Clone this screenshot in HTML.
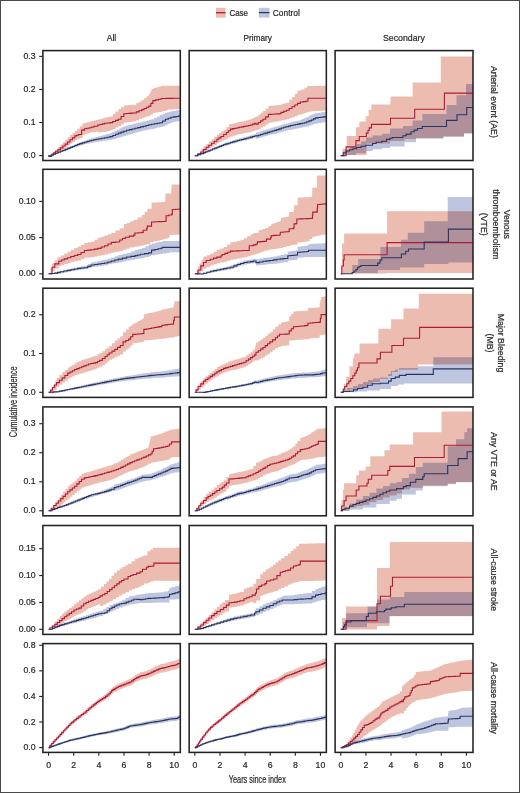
<!DOCTYPE html>
<html><head><meta charset="utf-8"><style>
html,body{margin:0;padding:0;background:#fff;}
body{width:520px;height:793px;overflow:hidden;}
svg{display:block;font-family:"Liberation Sans", sans-serif;}
text{fill:#2a2a2a;stroke:#2a2a2a;stroke-width:0.22px;}
</style></head><body>
<svg width="520" height="793" viewBox="0 0 520 793">
<rect x="0.5" y="0.5" width="519" height="792" fill="none" stroke="#4a4a4a" stroke-width="1"/>
<rect x="216" y="7.8" width="9.6" height="9.8" fill="#edbcb1"/>
<line x1="216" y1="12.7" x2="225.6" y2="12.7" stroke="#ae1a38" stroke-width="1.3"/>
<rect x="258.9" y="7.8" width="10.6" height="9.8" fill="#bec5df"/>
<line x1="258.9" y1="12.6" x2="269.5" y2="12.6" stroke="#293562" stroke-width="1.3"/>
<text x="229.4" y="15.5" font-size="8.8" textLength="18.6" lengthAdjust="spacingAndGlyphs">Case</text>
<text x="272.8" y="15.5" font-size="8.8" textLength="27" lengthAdjust="spacingAndGlyphs">Control</text>
<text x="106.7" y="41.3" font-size="8.8" textLength="9.6" lengthAdjust="spacingAndGlyphs">All</text>
<text x="243.5" y="41.3" font-size="8.8" textLength="28.4" lengthAdjust="spacingAndGlyphs">Primary</text>
<text x="383.0" y="41.2" font-size="8.8" textLength="41.9" lengthAdjust="spacingAndGlyphs">Secondary</text>
<clipPath id="c00"><rect x="42.9" y="50.6" width="137.4" height="109.9"/></clipPath>
<g clip-path="url(#c00)"><path d="M48.6 155.6 L51.8 155.6 L51.8 153.2 L53.7 153.2 L53.7 151.3 L55.6 151.3 L55.6 149.4 L58 149.4 L58 147 L60.4 147 L60.4 144.6 L62.8 144.6 L62.8 142.2 L65.2 142.2 L65.2 139.8 L67.6 139.8 L67.6 137.35 L70 137.35 L70 134.9 L72.4 134.9 L72.4 133 L74.8 133 L74.8 131.1 L77.25 131.1 L77.25 128.7 L79.7 128.7 L79.7 126.3 L82.5 126.3 L82.5 123.4 L84.77 123.4 L84.77 122.77 L87.03 122.77 L87.03 122.13 L89.3 122.13 L89.3 121.5 L91.53 121.5 L91.53 121 L93.77 121 L93.77 120.5 L96 120.5 L96 120 L97.8 120 L97.8 119.6 L100.07 119.6 L100.07 118.93 L102.33 118.93 L102.33 118.27 L104.6 118.27 L104.6 117.6 L107.3 117.6 L107.3 117.05 L110 117.05 L110 116.5 L112.77 116.5 L112.77 113.97 L115.53 113.97 L115.53 111.43 L118.3 111.43 L118.3 108.9 L121.05 108.9 L121.05 107.15 L123.8 107.15 L123.8 105.4 L126.22 105.4 L126.22 105.22 L128.65 105.22 L128.65 105.05 L131.07 105.05 L131.07 104.87 L133.5 104.87 L133.5 104.7 L136.27 104.7 L136.27 103.1 L139.03 103.1 L139.03 101.5 L141.8 101.5 L141.8 99.9 L144.13 99.9 L144.13 98.03 L146.47 98.03 L146.47 96.17 L148.8 96.17 L148.8 94.3 L150.15 94.3 L150.15 91.55 L151.5 91.55 L151.5 88.8 L153.93 88.8 L153.93 88.02 L156.35 88.02 L156.35 87.25 L158.77 87.25 L158.77 86.47 L161.2 86.47 L161.2 85.7 L163.67 85.7 L163.67 85.7 L166.15 85.7 L166.15 85.7 L168.62 85.7 L168.62 85.7 L171.1 85.7 L171.1 85.7 L173.57 85.7 L173.57 85.7 L176.05 85.7 L176.05 85.7 L178.53 85.7 L178.53 85.7 L181 85.7 L181 85.7 L181 108.9 L181 109.04 L178.44 109.04 L178.44 109.18 L175.88 109.18 L175.88 109.32 L173.32 109.32 L173.32 109.46 L170.76 109.46 L170.76 109.6 L168.2 109.6 L168.2 110.27 L165.87 110.27 L165.87 110.93 L163.53 110.93 L163.53 111.6 L161.2 111.6 L161.2 112.07 L158.43 112.07 L158.43 112.53 L155.67 112.53 L155.67 113 L152.9 113 L152.9 114.4 L150.85 114.4 L150.85 115.8 L148.8 115.8 L148.8 116.5 L146.47 116.5 L146.47 117.2 L144.13 117.2 L144.13 117.9 L141.8 117.9 L141.8 119.03 L139.03 119.03 L139.03 120.17 L136.27 120.17 L136.27 121.3 L133.5 121.3 L133.5 121.65 L131.07 121.65 L131.07 122 L128.65 122 L128.65 122.35 L126.22 122.35 L126.22 122.7 L123.8 122.7 L123.8 124.45 L121.05 124.45 L121.05 126.2 L118.3 126.2 L118.3 127.57 L115.53 127.57 L115.53 128.93 L112.77 128.93 L112.77 130.3 L110 130.3 L110 131.05 L107.3 131.05 L107.3 131.8 L104.6 131.8 L104.6 132 L102.33 132 L102.33 132.2 L100.07 132.2 L100.07 132.4 L97.8 132.4 L97.8 131.6 L96 131.6 L96 131.9 L93.77 131.9 L93.77 132.2 L91.53 132.2 L91.53 132.5 L89.3 132.5 L89.3 133.3 L87.03 133.3 L87.03 134.1 L84.77 134.1 L84.77 134.9 L82.5 134.9 L82.5 138.3 L79.7 138.3 L79.7 139.25 L77.25 139.25 L77.25 140.2 L74.8 140.2 L74.8 141.9 L72.4 141.9 L72.4 143.6 L70 143.6 L70 145.5 L67.6 145.5 L67.6 147.4 L65.2 147.4 L65.2 149.1 L62.8 149.1 L62.8 150.8 L60.4 150.8 L60.4 152 L58 152 L58 153.2 L55.6 153.2 L55.6 154.15 L53.7 154.15 L53.7 155.1 L51.8 155.1 L51.8 155.6 L48.6 155.6 Z" fill="#edbcb1" style="mix-blend-mode:multiply"/><path d="M48.6 155.6 L50.93 155.6 L50.93 154.63 L53.27 154.63 L53.27 153.67 L55.6 153.67 L55.6 152.7 L58 152.7 L58 151.62 L60.4 151.62 L60.4 150.55 L62.8 150.55 L62.8 149.47 L65.2 149.47 L65.2 148.4 L67.6 148.4 L67.6 147.32 L70 147.32 L70 146.25 L72.4 146.25 L72.4 145.18 L74.8 145.18 L74.8 144.1 L77.22 144.1 L77.22 143.12 L79.65 143.12 L79.65 142.15 L82.08 142.15 L82.08 141.17 L84.5 141.17 L84.5 140.2 L86.8 140.2 L86.8 139.54 L89.1 139.54 L89.1 138.88 L91.4 138.88 L91.4 138.22 L93.7 138.22 L93.7 137.56 L96 137.56 L96 136.9 L98.33 136.9 L98.33 136.27 L100.67 136.27 L100.67 135.63 L103 135.63 L103 135 L105.33 135 L105.33 134.37 L107.67 134.37 L107.67 133.73 L110 133.73 L110 133.1 L112.3 133.1 L112.3 131.95 L114.6 131.95 L114.6 130.8 L116.9 130.8 L116.9 129.65 L119.2 129.65 L119.2 128.5 L121.5 128.5 L121.5 127.35 L123.8 127.35 L123.8 126.2 L126.12 126.2 L126.12 125.62 L128.43 125.62 L128.43 125.03 L130.75 125.03 L130.75 124.45 L133.07 124.45 L133.07 123.87 L135.38 123.87 L135.38 123.28 L137.7 123.28 L137.7 122.7 L140 122.7 L140 122.13 L142.3 122.13 L142.3 121.57 L144.6 121.57 L144.6 121 L146.9 121 L146.9 120.43 L149.2 120.43 L149.2 119.87 L151.5 119.87 L151.5 119.3 L154.28 119.3 L154.28 117.9 L157.05 117.9 L157.05 116.5 L159.82 116.5 L159.82 115.1 L162.6 115.1 L162.6 113.7 L165.03 113.7 L165.03 113 L167.45 113 L167.45 112.3 L169.88 112.3 L169.88 111.6 L172.3 111.6 L172.3 110.9 L175.2 110.9 L175.2 110.47 L178.1 110.47 L178.1 110.03 L181 110.03 L181 109.6 L181 120.6 L181 121.07 L178.1 121.07 L178.1 121.53 L175.2 121.53 L175.2 122 L172.3 122 L172.3 123.05 L169.88 123.05 L169.88 124.1 L167.45 124.1 L167.45 125.15 L165.03 125.15 L165.03 126.2 L162.6 126.2 L162.6 126.88 L159.82 126.88 L159.82 127.55 L157.05 127.55 L157.05 128.22 L154.28 128.22 L154.28 128.9 L151.5 128.9 L151.5 129.37 L149.2 129.37 L149.2 129.83 L146.9 129.83 L146.9 130.3 L144.6 130.3 L144.6 130.77 L142.3 130.77 L142.3 131.23 L140 131.23 L140 131.7 L137.7 131.7 L137.7 132.4 L135.38 132.4 L135.38 133.1 L133.07 133.1 L133.07 133.8 L130.75 133.8 L130.75 134.5 L128.43 134.5 L128.43 135.2 L126.12 135.2 L126.12 135.9 L123.8 135.9 L123.8 136.58 L121.5 136.58 L121.5 137.27 L119.2 137.27 L119.2 137.95 L116.9 137.95 L116.9 138.63 L114.6 138.63 L114.6 139.32 L112.3 139.32 L112.3 140 L110 140 L110 140.28 L107.67 140.28 L107.67 140.57 L105.33 140.57 L105.33 140.85 L103 140.85 L103 141.13 L100.67 141.13 L100.67 141.42 L98.33 141.42 L98.33 141.7 L96 141.7 L96 142.18 L93.7 142.18 L93.7 142.66 L91.4 142.66 L91.4 143.14 L89.1 143.14 L89.1 143.62 L86.8 143.62 L86.8 144.1 L84.5 144.1 L84.5 144.82 L82.08 144.82 L82.08 145.55 L79.65 145.55 L79.65 146.28 L77.22 146.28 L77.22 147 L74.8 147 L74.8 147.88 L72.4 147.88 L72.4 148.75 L70 148.75 L70 149.62 L67.6 149.62 L67.6 150.5 L65.2 150.5 L65.2 151.35 L62.8 151.35 L62.8 152.2 L60.4 152.2 L60.4 153.05 L58 153.05 L58 153.9 L55.6 153.9 L55.6 154.47 L53.27 154.47 L53.27 155.03 L50.93 155.03 L50.93 155.6 L48.6 155.6 Z" fill="#bec5df" style="mix-blend-mode:multiply"/><path d="M48.6 155.6 L48.9 155.6 L48.9 156.1 L51.8 156.1 L51.8 154.2 L53.7 154.2 L53.7 152.75 L55.6 152.75 L55.6 151.3 L58 151.3 L58 149.6 L60.4 149.6 L60.4 147.9 L62.8 147.9 L62.8 146 L65.2 146 L65.2 144.1 L67.6 144.1 L67.6 141.95 L70 141.95 L70 139.8 L72.4 139.8 L72.4 137.85 L74.8 137.85 L74.8 135.9 L76.75 135.9 L76.75 135.2 L78.7 135.2 L78.7 134.5 L81.6 134.5 L81.6 130.1 L84.5 130.1 L84.5 128.7 L86.9 128.7 L86.9 128.2 L89.3 128.2 L89.3 127.7 L91.7 127.7 L91.7 127 L94.1 127 L94.1 126.3 L97.8 126.3 L97.8 125 L100.07 125 L100.07 124.43 L102.33 124.43 L102.33 123.87 L104.6 123.87 L104.6 123.3 L107.3 123.3 L107.3 122.95 L110 122.95 L110 122.6 L112.77 122.6 L112.77 121.5 L115.53 121.5 L115.53 120.4 L118.3 120.4 L118.3 119.3 L121.05 119.3 L121.05 116.5 L123.8 116.5 L123.8 113.7 L126.22 113.7 L126.22 113.52 L128.65 113.52 L128.65 113.35 L131.07 113.35 L131.07 113.17 L133.5 113.17 L133.5 113 L136.27 113 L136.27 111.87 L139.03 111.87 L139.03 110.73 L141.8 110.73 L141.8 109.6 L144.13 109.6 L144.13 108.43 L146.47 108.43 L146.47 107.27 L148.8 107.27 L148.8 106.1 L150.85 106.1 L150.85 103.35 L152.9 103.35 L152.9 100.6 L155.67 100.6 L155.67 99.9 L158.43 99.9 L158.43 99.2 L161.2 99.2 L161.2 98.5 L163.67 98.5 L163.67 98.46 L166.15 98.46 L166.15 98.42 L168.62 98.42 L168.62 98.39 L171.1 98.39 L171.1 98.35 L173.57 98.35 L173.57 98.31 L176.05 98.31 L176.05 98.27 L178.53 98.27 L178.53 98.24 L181 98.24 L181 98.2" fill="none" stroke="#ae1a38" stroke-width="1.1" stroke-linejoin="miter"/><path d="M48.6 155.6 L48.9 155.6 L48.9 156.1 L51.13 156.1 L51.13 155.13 L53.37 155.13 L53.37 154.17 L55.6 154.17 L55.6 153.2 L58 153.2 L58 152.25 L60.4 152.25 L60.4 151.3 L62.8 151.3 L62.8 150.35 L65.2 150.35 L65.2 149.4 L67.6 149.4 L67.6 148.4 L70 148.4 L70 147.4 L72.4 147.4 L72.4 146.45 L74.8 146.45 L74.8 145.5 L77.25 145.5 L77.25 144.55 L79.7 144.55 L79.7 143.6 L82.1 143.6 L82.1 142.9 L84.5 142.9 L84.5 142.2 L86.9 142.2 L86.9 141.45 L89.3 141.45 L89.3 140.7 L91.53 140.7 L91.53 140.23 L93.77 140.23 L93.77 139.77 L96 139.77 L96 139.3 L98.87 139.3 L98.87 138.8 L101.73 138.8 L101.73 138.3 L104.6 138.3 L104.6 137.8 L107.3 137.8 L107.3 137.2 L110 137.2 L110 136.6 L112.77 136.6 L112.77 135.43 L115.53 135.43 L115.53 134.27 L118.3 134.27 L118.3 133.1 L121.07 133.1 L121.07 132.17 L123.83 132.17 L123.83 131.23 L126.6 131.23 L126.6 130.3 L129.38 130.3 L129.38 129.62 L132.15 129.62 L132.15 128.95 L134.92 128.95 L134.92 128.27 L137.7 128.27 L137.7 127.6 L140.47 127.6 L140.47 126.9 L143.25 126.9 L143.25 126.2 L146.03 126.2 L146.03 125.5 L148.8 125.5 L148.8 124.8 L151.55 124.8 L151.55 124.27 L154.3 124.27 L154.3 123.75 L157.05 123.75 L157.05 123.22 L159.8 123.22 L159.8 122.7 L162.6 122.7 L162.6 121 L165.4 121 L165.4 119.3 L168.15 119.3 L168.15 118.25 L170.9 118.25 L170.9 117.2 L173.43 117.2 L173.43 116.85 L175.95 116.85 L175.95 116.5 L178.47 116.5 L178.47 116.15 L181 116.15 L181 115.8" fill="none" stroke="#293562" stroke-width="1.1" stroke-linejoin="miter"/></g>
<rect x="42.9" y="50.6" width="137.4" height="109.9" fill="none" stroke="#222" stroke-width="1.55"/>
<clipPath id="c01"><rect x="189.15" y="50.6" width="137.18" height="109.9"/></clipPath>
<g clip-path="url(#c01)"><path d="M194.85 155.6 L198.08 155.6 L198.08 153.98 L200.77 153.98 L200.77 149.27 L203.46 149.27 L203.46 146.58 L206.15 146.58 L206.15 143.89 L208.85 143.89 L208.85 141.53 L211.54 141.53 L211.54 139.18 L214.23 139.18 L214.23 136.82 L216.92 136.82 L216.92 134.47 L219.17 134.47 L219.17 132.89 L221.41 132.89 L221.41 131.32 L223.65 131.32 L223.65 129.75 L226.35 129.75 L226.35 127.06 L229.04 127.06 L229.04 124.37 L231.73 124.37 L231.73 123.7 L234.42 123.7 L234.42 123.02 L237.12 123.02 L237.12 122.35 L239.36 122.35 L239.36 121.9 L241.6 121.9 L241.6 121.45 L243.85 121.45 L243.85 121 L246.09 121 L246.09 120.33 L248.33 120.33 L248.33 119.66 L250.58 119.66 L250.58 118.98 L252.6 118.98 L252.6 118.04 L254.62 118.04 L254.62 117.1 L256 117.1 L256 116.48 L258.31 116.48 L258.31 114.64 L260.62 114.64 L260.62 112.79 L262.92 112.79 L262.92 110.95 L265.69 110.95 L265.69 108.52 L268.46 108.52 L268.46 106.1 L271.23 106.1 L271.23 105.75 L274 105.75 L274 105.41 L276.77 105.41 L276.77 105.06 L279.54 105.06 L279.54 104.72 L281.85 104.72 L281.85 104.02 L284.15 104.02 L284.15 103.33 L286.46 103.33 L286.46 102.64 L289.23 102.64 L289.23 99.87 L292 99.87 L292 97.1 L294.77 97.1 L294.77 93.64 L297.54 93.64 L297.54 90.87 L299.62 90.87 L299.62 90.18 L301.69 90.18 L301.69 89.48 L304.46 89.48 L304.46 87.75 L307.23 87.75 L307.23 86.02 L309.8 86.02 L309.8 85.98 L312.37 85.98 L312.37 85.94 L314.95 85.94 L314.95 85.9 L317.52 85.9 L317.52 85.86 L320.09 85.86 L320.09 85.83 L322.66 85.83 L322.66 85.79 L325.23 85.79 L325.23 85.75 L327.5 85.75 L327.5 85.75 L327.5 110.67 L327.5 110.67 L325.23 110.67 L325.23 110.74 L322.46 110.74 L322.46 110.81 L319.69 110.81 L319.69 110.88 L316.92 110.88 L316.92 110.95 L314.15 110.95 L314.15 111.29 L311.38 111.29 L311.38 111.64 L308.62 111.64 L308.62 112.33 L306.54 112.33 L306.54 113.02 L304.46 113.02 L304.46 113.72 L302.15 113.72 L302.15 114.41 L299.85 114.41 L299.85 115.1 L297.54 115.1 L297.54 116.14 L294.77 116.14 L294.77 117.18 L292 117.18 L292 118.22 L289.23 118.22 L289.23 119.25 L286.46 119.25 L286.46 119.72 L284.15 119.72 L284.15 120.18 L281.85 120.18 L281.85 120.64 L279.54 120.64 L279.54 121.16 L276.77 121.16 L276.77 121.68 L274 121.68 L274 122.2 L271.23 122.2 L271.23 122.72 L268.46 122.72 L268.46 124.45 L265.69 124.45 L265.69 126.18 L262.92 126.18 L262.92 127.56 L260.62 127.56 L260.62 128.95 L258.31 128.95 L258.31 130.33 L256 130.33 L256 130.16 L254.62 130.16 L254.62 130.97 L252.6 130.97 L252.6 131.77 L250.58 131.77 L250.58 132.22 L248.33 132.22 L248.33 132.67 L246.09 132.67 L246.09 133.12 L243.85 133.12 L243.85 133.57 L241.6 133.57 L241.6 134.02 L239.36 134.02 L239.36 134.47 L237.12 134.47 L237.12 135.14 L234.87 135.14 L234.87 135.81 L232.63 135.81 L232.63 136.48 L230.38 136.48 L230.38 137.61 L228.14 137.61 L228.14 138.73 L225.9 138.73 L225.9 139.85 L223.65 139.85 L223.65 140.97 L221.41 140.97 L221.41 142.09 L219.17 142.09 L219.17 143.22 L216.92 143.22 L216.92 144.9 L214.23 144.9 L214.23 146.58 L211.54 146.58 L211.54 148.26 L208.85 148.26 L208.85 149.95 L206.15 149.95 L206.15 151.97 L203.46 151.97 L203.46 153.98 L200.77 153.98 L200.77 154.79 L197.81 154.79 L197.81 155.6 L194.85 155.6 Z" fill="#edbcb1" style="mix-blend-mode:multiply"/><path d="M194.85 155.6 L197.72 155.6 L197.72 154.39 L200.59 154.39 L200.59 153.18 L203.46 153.18 L203.46 151.97 L205.71 151.97 L205.71 150.93 L207.95 150.93 L207.95 149.9 L210.19 149.9 L210.19 148.87 L212.44 148.87 L212.44 147.88 L214.68 147.88 L214.68 146.89 L216.92 146.89 L216.92 145.91 L219.17 145.91 L219.17 145.01 L221.41 145.01 L221.41 144.11 L223.65 144.11 L223.65 143.22 L225.9 143.22 L225.9 142.45 L228.14 142.45 L228.14 141.69 L230.38 141.69 L230.38 140.93 L232.63 140.93 L232.63 140.25 L234.87 140.25 L234.87 139.58 L237.12 139.58 L237.12 138.91 L239.36 138.91 L239.36 138.32 L241.6 138.32 L241.6 137.74 L243.85 137.74 L243.85 137.16 L246.09 137.16 L246.09 136.48 L248.33 136.48 L248.33 135.81 L250.58 135.81 L250.58 135.14 L252.6 135.14 L252.6 134.53 L254.62 134.53 L254.62 133.93 L256 133.93 L256 132.41 L258.31 132.41 L258.31 131.72 L260.62 131.72 L260.62 131.02 L262.92 131.02 L262.92 130.33 L265.23 130.33 L265.23 129.64 L267.54 129.64 L267.54 128.95 L269.85 128.95 L269.85 128.25 L272.15 128.25 L272.15 127.56 L274.46 127.56 L274.46 126.87 L276.77 126.87 L276.77 126.18 L279.08 126.18 L279.08 125.48 L281.38 125.48 L281.38 124.79 L283.69 124.79 L283.69 124.1 L286 124.1 L286 123.41 L288.31 123.41 L288.31 122.72 L290.62 122.72 L290.62 122.02 L292.92 122.02 L292.92 121.56 L295.23 121.56 L295.23 121.1 L297.54 121.1 L297.54 120.64 L299.85 120.64 L299.85 119.72 L302.15 119.72 L302.15 118.79 L304.46 118.79 L304.46 117.87 L306.77 117.87 L306.77 116.72 L309.08 116.72 L309.08 115.56 L311.38 115.56 L311.38 114.41 L313.46 114.41 L313.46 113.72 L315.54 113.72 L315.54 113.02 L318.31 113.02 L318.31 112.68 L321.08 112.68 L321.08 112.33 L323.15 112.33 L323.15 111.98 L325.23 111.98 L325.23 111.64 L327.5 111.64 L327.5 111.64 L327.5 122.02 L327.5 122.02 L325.23 122.02 L325.23 122.37 L323.15 122.37 L323.15 122.72 L321.08 122.72 L321.08 123.06 L318.31 123.06 L318.31 123.41 L315.54 123.41 L315.54 124.1 L313.46 124.1 L313.46 124.79 L311.38 124.79 L311.38 125.48 L309.08 125.48 L309.08 126.18 L306.77 126.18 L306.77 126.87 L304.46 126.87 L304.46 127.33 L302.15 127.33 L302.15 127.79 L299.85 127.79 L299.85 128.25 L297.54 128.25 L297.54 128.72 L295.23 128.72 L295.23 129.18 L292.92 129.18 L292.92 129.64 L290.62 129.64 L290.62 130.1 L288.31 130.1 L288.31 130.56 L286 130.56 L286 131.02 L283.69 131.02 L283.69 131.72 L281.38 131.72 L281.38 132.41 L279.08 132.41 L279.08 133.1 L276.77 133.1 L276.77 133.65 L274.46 133.65 L274.46 134.21 L272.15 134.21 L272.15 134.76 L269.85 134.76 L269.85 135.36 L267.54 135.36 L267.54 135.96 L265.23 135.96 L265.23 136.56 L262.92 136.56 L262.92 137.25 L260.62 137.25 L260.62 137.95 L258.31 137.95 L258.31 138.64 L256 138.64 L256 137.56 L254.62 137.56 L254.62 138.23 L252.6 138.23 L252.6 138.91 L250.58 138.91 L250.58 139.45 L248.33 139.45 L248.33 139.98 L246.09 139.98 L246.09 140.52 L243.85 140.52 L243.85 141.06 L241.6 141.06 L241.6 141.6 L239.36 141.6 L239.36 142.14 L237.12 142.14 L237.12 142.81 L234.87 142.81 L234.87 143.48 L232.63 143.48 L232.63 144.16 L230.38 144.16 L230.38 144.83 L228.14 144.83 L228.14 145.5 L225.9 145.5 L225.9 146.18 L223.65 146.18 L223.65 146.98 L221.41 146.98 L221.41 147.79 L219.17 147.79 L219.17 148.6 L216.92 148.6 L216.92 149.41 L214.68 149.41 L214.68 150.22 L212.44 150.22 L212.44 151.02 L210.19 151.02 L210.19 151.92 L207.95 151.92 L207.95 152.82 L205.71 152.82 L205.71 153.72 L203.46 153.72 L203.46 154.34 L200.59 154.34 L200.59 154.97 L197.72 154.97 L197.72 155.6 L194.85 155.6 Z" fill="#bec5df" style="mix-blend-mode:multiply"/><path d="M194.85 155.6 L197.81 155.6 L197.81 153.78 L200.77 153.78 L200.77 151.97 L203.46 151.97 L203.46 149.61 L206.15 149.61 L206.15 147.25 L208.85 147.25 L208.85 145.23 L211.54 145.23 L211.54 143.22 L214.23 143.22 L214.23 141.2 L216.92 141.2 L216.92 139.18 L218.94 139.18 L218.94 137.83 L220.96 137.83 L220.96 136.48 L223.65 136.48 L223.65 134.47 L226.35 134.47 L226.35 132.45 L228.37 132.45 L228.37 130.76 L230.38 130.76 L230.38 129.08 L232.63 129.08 L232.63 128.63 L234.87 128.63 L234.87 128.18 L237.12 128.18 L237.12 127.73 L239.36 127.73 L239.36 127.29 L241.6 127.29 L241.6 126.84 L243.85 126.84 L243.85 126.39 L246.09 126.39 L246.09 125.94 L248.33 125.94 L248.33 125.49 L250.58 125.49 L250.58 125.04 L252.6 125.04 L252.6 124.17 L254.62 124.17 L254.62 123.29 L256 123.29 L256 124.1 L258.31 124.1 L258.31 122.48 L260.62 122.48 L260.62 120.87 L262.92 120.87 L262.92 119.25 L265.69 119.25 L265.69 116.83 L268.46 116.83 L268.46 114.41 L271.23 114.41 L271.23 114.23 L274 114.23 L274 114.06 L276.77 114.06 L276.77 113.89 L279.54 113.89 L279.54 113.72 L280.92 113.72 L280.92 112.33 L283.69 112.33 L283.69 111.29 L286.46 111.29 L286.46 110.25 L289.23 110.25 L289.23 108.52 L292 108.52 L292 106.79 L294.77 106.79 L294.77 105.06 L297.54 105.06 L297.54 103.33 L300.31 103.33 L300.31 101.95 L303.08 101.95 L303.08 101.6 L305.85 101.6 L305.85 101.25 L307.92 101.25 L307.92 98.21 L310.4 98.21 L310.4 98.21 L312.87 98.21 L312.87 98.21 L315.34 98.21 L315.34 98.21 L317.81 98.21 L317.81 98.21 L320.29 98.21 L320.29 98.21 L322.76 98.21 L322.76 98.21 L325.23 98.21 L325.23 98.21 L327.5 98.21 L327.5 98.21" fill="none" stroke="#ae1a38" stroke-width="1.1" stroke-linejoin="miter"/><path d="M194.85 155.6 L197.72 155.6 L197.72 154.61 L200.59 154.61 L200.59 153.63 L203.46 153.63 L203.46 152.64 L205.71 152.64 L205.71 151.74 L207.95 151.74 L207.95 150.84 L210.19 150.84 L210.19 149.95 L212.44 149.95 L212.44 149.05 L214.68 149.05 L214.68 148.15 L216.92 148.15 L216.92 147.25 L219.17 147.25 L219.17 146.36 L221.41 146.36 L221.41 145.46 L223.65 145.46 L223.65 144.56 L225.9 144.56 L225.9 143.89 L228.14 143.89 L228.14 143.22 L230.38 143.22 L230.38 142.54 L232.63 142.54 L232.63 141.87 L234.87 141.87 L234.87 141.2 L237.12 141.2 L237.12 140.52 L239.36 140.52 L239.36 139.98 L241.6 139.98 L241.6 139.45 L243.85 139.45 L243.85 138.91 L246.09 138.91 L246.09 138.32 L248.33 138.32 L248.33 137.74 L250.58 137.74 L250.58 137.16 L252.6 137.16 L252.6 136.55 L254.62 136.55 L254.62 135.95 L256 135.95 L256 135.87 L258.31 135.87 L258.31 135.18 L260.62 135.18 L260.62 134.48 L262.92 134.48 L262.92 133.79 L265.23 133.79 L265.23 133.1 L267.54 133.1 L267.54 132.41 L269.85 132.41 L269.85 131.72 L272.15 131.72 L272.15 131.02 L274.46 131.02 L274.46 130.33 L276.77 130.33 L276.77 129.64 L279.08 129.64 L279.08 128.85 L281.38 128.85 L281.38 128.07 L283.69 128.07 L283.69 127.28 L286 127.28 L286 126.68 L288.31 126.68 L288.31 126.08 L290.62 126.08 L290.62 125.48 L292.92 125.48 L292.92 125.02 L295.23 125.02 L295.23 124.56 L297.54 124.56 L297.54 124.1 L299.85 124.1 L299.85 123.64 L302.15 123.64 L302.15 123.18 L304.46 123.18 L304.46 122.72 L306.77 122.72 L306.77 121.79 L309.08 121.79 L309.08 120.87 L311.38 120.87 L311.38 119.95 L313.46 119.95 L313.46 118.91 L315.54 118.91 L315.54 117.87 L318.31 117.87 L318.31 117.52 L321.08 117.52 L321.08 117.18 L323.15 117.18 L323.15 116.83 L325.23 116.83 L325.23 116.48 L327.5 116.48 L327.5 116.48" fill="none" stroke="#293562" stroke-width="1.1" stroke-linejoin="miter"/></g>
<rect x="189.15" y="50.6" width="137.18" height="109.9" fill="none" stroke="#222" stroke-width="1.55"/>
<clipPath id="c02"><rect x="335.1" y="50.6" width="137.9" height="109.9"/></clipPath>
<g clip-path="url(#c02)"><path d="M340.8 155.6 L342.5 155.6 L342.5 148.8 L346.7 148.8 L346.7 136 L355.9 136 L355.9 127.3 L359.3 127.3 L359.3 121.5 L365.7 121.5 L365.7 116.3 L368.6 116.3 L368.6 110 L371.4 110 L371.4 104.4 L390.5 104.4 L390.5 96.6 L412.6 96.6 L412.6 82.5 L440.8 82.5 L440.8 56.4 L474 56.4 L474 133.3 L464 133.3 L464 136.5 L443.3 136.5 L443.3 138.2 L416 138.2 L416 139 L404.5 139 L404.5 141 L390 141 L390 143.5 L366.5 143.5 L366.5 155 L346 155 L346 155.6 L340.8 155.6 Z" fill="#edbcb1" style="mix-blend-mode:multiply"/><path d="M340.8 155.6 L343 155.6 L343 151.5 L346 151.5 L346 149.5 L350 149.5 L350 147 L356.5 147 L356.5 144 L361 144 L361 141.5 L366 141.5 L366 137.5 L372.6 137.5 L372.6 135.5 L382 135.5 L382 133.7 L390 133.7 L390 128.5 L403 128.5 L403 126 L412.6 126 L412.6 120.4 L422.3 120.4 L422.3 113.9 L446.5 113.9 L446.5 105 L456.5 105 L456.5 95.3 L466 95.3 L466 84 L474 84 L474 133.5 L464 133.5 L464 136.7 L443.3 136.7 L443.3 138.4 L416 138.4 L416 142.2 L404.5 142.2 L404.5 146.5 L390 146.5 L390 148.1 L382 148.1 L382 149.2 L372.6 149.2 L372.6 151 L366 151 L366 153.3 L356 153.3 L356 155 L346 155 L346 155.6 L340.8 155.6 Z" fill="#bec5df" style="mix-blend-mode:multiply"/><path d="M340.8 155.6 L346.1 155.6 L346.1 146.9 L355.9 146.9 L355.9 140.6 L359.3 140.6 L359.3 136.5 L366.3 136.5 L366.3 133.1 L368 133.1 L368 130.5 L369.2 130.5 L369.2 127.9 L371.5 127.9 L371.5 124.4 L390.5 124.4 L390.5 118.3 L414.7 118.3 L414.7 109.3 L444.4 109.3 L444.4 93.1 L474 93.1" fill="none" stroke="#ae1a38" stroke-width="1.1" stroke-linejoin="miter"/><path d="M340.8 155.6 L343.2 155.6 L343.2 152.7 L346.1 152.7 L346.1 151 L349.5 151 L349.5 149.8 L353 149.8 L353 148.7 L356.5 148.7 L356.5 147.5 L361.1 147.5 L361.1 146.3 L365.7 146.3 L365.7 145.2 L372.6 145.2 L372.6 143.5 L376.1 143.5 L376.1 142.3 L381.8 142.3 L381.8 141.2 L386.5 141.2 L386.5 139.4 L389.9 139.4 L389.9 138.3 L392.2 138.3 L392.2 137.5 L402.9 137.5 L402.9 135.7 L406.2 135.7 L406.2 134.1 L411 134.1 L411 131.7 L414.2 131.7 L414.2 130.1 L417.5 130.1 L417.5 128.5 L422.3 128.5 L422.3 126.5 L446.5 126.5 L446.5 120.4 L457 120.4 L457 114.7 L466.7 114.7 L466.7 107.5 L474 107.5" fill="none" stroke="#293562" stroke-width="1.1" stroke-linejoin="miter"/></g>
<rect x="335.1" y="50.6" width="137.9" height="109.9" fill="none" stroke="#222" stroke-width="1.55"/>
<clipPath id="c10"><rect x="42.9" y="169.3" width="137.4" height="109.7"/></clipPath>
<g clip-path="url(#c10)"><path d="M48.6 273.8 L50.34 273.8 L50.34 268.51 L52.08 268.51 L52.08 263.22 L54.77 263.22 L54.77 260.19 L57.46 260.19 L57.46 257.16 L60.83 257.16 L60.83 255.48 L64.19 255.48 L64.19 253.79 L67.56 253.79 L67.56 251.77 L70.92 251.77 L70.92 249.75 L74.29 249.75 L74.29 248.07 L77.65 248.07 L77.65 246.39 L81.02 246.39 L81.02 244.71 L84.38 244.71 L84.38 243.02 L87.75 243.02 L87.75 242.35 L91.12 242.35 L91.12 241.68 L94.48 241.68 L94.48 239.66 L97.85 239.66 L97.85 237.64 L101.21 237.64 L101.21 236.63 L104.58 236.63 L104.58 235.62 L107.94 235.62 L107.94 234.27 L111.31 234.27 L111.31 232.93 L115.5 232.93 L115.5 230.55 L119.69 230.55 L119.69 228.18 L123.85 228.18 L123.85 224.02 L127.08 224.02 L127.08 222.64 L130.31 222.64 L130.31 221.25 L133.54 221.25 L133.54 219.87 L137.69 219.87 L137.69 217.45 L141.85 217.45 L141.85 215.02 L144.62 215.02 L144.62 211.91 L147.38 211.91 L147.38 208.79 L151.54 208.79 L151.54 202.56 L154.93 202.56 L154.93 202.39 L158.32 202.39 L158.32 202.22 L161.72 202.22 L161.72 202.04 L165.11 202.04 L165.11 201.87 L165.25 201.87 L165.25 197.72 L165.38 197.72 L165.38 193.56 L168.15 193.56 L168.15 193.56 L170.92 193.56 L170.92 193.56 L171.27 193.56 L171.27 189.06 L171.62 189.06 L171.62 184.56 L175.42 184.56 L175.42 184.56 L179.23 184.56 L179.23 184.56 L181 184.56 L181 184.56 L181 234.41 L181 234.41 L179.23 234.41 L179.23 234.64 L176 234.64 L176 234.87 L172.77 234.87 L172.77 235.1 L169.54 235.1 L169.54 237.87 L168.15 237.87 L168.15 238.56 L165.38 238.56 L165.38 239.25 L162.62 239.25 L162.62 239.95 L159.85 239.95 L159.85 240.64 L157.08 240.64 L157.08 241.33 L153.62 241.33 L153.62 242.02 L150.15 242.02 L150.15 244.1 L147.38 244.1 L147.38 244.79 L144.15 244.79 L144.15 245.48 L140.92 245.48 L140.92 246.18 L137.69 246.18 L137.69 246.87 L133.54 246.87 L133.54 247.56 L129.38 247.56 L129.38 248.72 L126.15 248.72 L126.15 249.87 L122.92 249.87 L122.92 251.02 L119.69 251.02 L119.69 251.73 L115.5 251.73 L115.5 252.45 L111.31 252.45 L111.31 253.46 L107.94 253.46 L107.94 254.47 L104.58 254.47 L104.58 255.14 L101.21 255.14 L101.21 255.81 L97.85 255.81 L97.85 256.48 L94.48 256.48 L94.48 257.16 L91.12 257.16 L91.12 257.49 L87.75 257.49 L87.75 257.83 L84.38 257.83 L84.38 259.18 L81.02 259.18 L81.02 260.52 L77.65 260.52 L77.65 261.2 L74.29 261.2 L74.29 261.87 L70.92 261.87 L70.92 262.88 L67.56 262.88 L67.56 263.89 L64.19 263.89 L64.19 264.9 L61.5 264.9 L61.5 265.91 L58.81 265.91 L58.81 268.6 L54.77 268.6 L54.77 271.2 L51.68 271.2 L51.68 273.8 L48.6 273.8 Z" fill="#edbcb1" style="mix-blend-mode:multiply"/><path d="M48.6 273.8 L51.55 273.8 L51.55 273.11 L54.51 273.11 L54.51 272.43 L57.46 272.43 L57.46 271.74 L60.83 271.74 L60.83 270.9 L64.19 270.9 L64.19 270.06 L67.56 270.06 L67.56 269.21 L70.92 269.21 L70.92 268.37 L74.29 268.37 L74.29 267.7 L77.65 267.7 L77.65 267.03 L81.02 267.03 L81.02 266.35 L84.38 266.35 L84.38 265.68 L87.75 265.68 L87.75 264 L91.12 264 L91.12 262.32 L94.48 262.32 L94.48 261.64 L97.85 261.64 L97.85 260.97 L101.21 260.97 L101.21 260.3 L104.58 260.3 L104.58 259.62 L107.94 259.62 L107.94 258.61 L111.31 258.61 L111.31 257.6 L114.81 257.6 L114.81 256.29 L118.31 256.29 L118.31 254.97 L122.46 254.97 L122.46 253.93 L126.62 253.93 L126.62 252.89 L130.77 252.89 L130.77 251.51 L134.92 251.51 L134.92 250.12 L138.38 250.12 L138.38 249.08 L141.85 249.08 L141.85 248.05 L145.31 248.05 L145.31 246.32 L148.77 246.32 L148.77 244.58 L152.23 244.58 L152.23 243.55 L155.69 243.55 L155.69 242.51 L159.15 242.51 L159.15 241.82 L162.62 241.82 L162.62 241.12 L165.94 241.12 L165.94 241.12 L169.26 241.12 L169.26 241.12 L172.58 241.12 L172.58 241.12 L175.91 241.12 L175.91 241.12 L179.23 241.12 L179.23 241.12 L181 241.12 L181 241.12 L181 252.2 L181 252.2 L179.23 252.2 L179.23 252.2 L176 252.2 L176 252.2 L172.77 252.2 L172.77 252.2 L169.54 252.2 L169.54 252.89 L166.08 252.89 L166.08 253.58 L162.62 253.58 L162.62 254.05 L158.92 254.05 L158.92 254.51 L155.23 254.51 L155.23 254.97 L151.54 254.97 L151.54 256.35 L148.77 256.35 L148.77 257.05 L145.31 257.05 L145.31 257.74 L141.85 257.74 L141.85 258.43 L138.38 258.43 L138.38 259.12 L134.92 259.12 L134.92 259.82 L130.77 259.82 L130.77 260.51 L126.62 260.51 L126.62 261.55 L122.46 261.55 L122.46 262.58 L118.31 262.58 L118.31 262.99 L114.81 262.99 L114.81 263.39 L111.31 263.39 L111.31 264.33 L107.94 264.33 L107.94 265.28 L104.58 265.28 L104.58 265.82 L101.21 265.82 L101.21 266.35 L97.85 266.35 L97.85 266.69 L94.48 266.69 L94.48 267.03 L91.12 267.03 L91.12 268.04 L87.75 268.04 L87.75 269.05 L84.38 269.05 L84.38 269.55 L81.02 269.55 L81.02 270.06 L77.65 270.06 L77.65 270.56 L74.29 270.56 L74.29 271.07 L70.92 271.07 L70.92 271.81 L67.56 271.81 L67.56 272.55 L64.19 272.55 L64.19 273.29 L60.83 273.29 L60.83 274.03 L57.46 274.03 L57.46 273.95 L54.51 273.95 L54.51 273.88 L51.55 273.88 L51.55 273.8 L48.6 273.8 Z" fill="#bec5df" style="mix-blend-mode:multiply"/><path d="M48.6 273.8 L52.08 273.8 L52.08 267.25 L54.77 267.25 L54.77 263.89 L58.81 263.89 L58.81 261.2 L61.5 261.2 L61.5 260.05 L64.19 260.05 L64.19 258.91 L67.56 258.91 L67.56 257.7 L70.92 257.7 L70.92 256.48 L74.29 256.48 L74.29 255.47 L77.65 255.47 L77.65 254.47 L81.02 254.47 L81.02 252.45 L84.38 252.45 L84.38 250.43 L87.75 250.43 L87.75 250.09 L91.12 250.09 L91.12 249.75 L94.48 249.75 L94.48 249.08 L97.85 249.08 L97.85 248.41 L101.21 248.41 L101.21 247.06 L104.58 247.06 L104.58 245.72 L107.94 245.72 L107.94 244.03 L111.31 244.03 L111.31 242.35 L115.54 242.35 L115.54 242.02 L119.69 242.02 L119.69 239.95 L122.46 239.95 L122.46 238.56 L125.23 238.56 L125.23 237.18 L129.38 237.18 L129.38 236.14 L133.54 236.14 L133.54 235.1 L134.92 235.1 L134.92 233.02 L138.38 233.02 L138.38 232.68 L141.85 232.68 L141.85 232.33 L143.23 232.33 L143.23 230.25 L146.69 230.25 L146.69 228.18 L147.38 228.18 L147.38 226.1 L151.54 226.1 L151.54 221.95 L155 221.95 L155 221.77 L158.46 221.77 L158.46 221.6 L161.92 221.6 L161.92 221.43 L165.38 221.43 L165.38 221.25 L166.08 221.25 L166.08 215.72 L168.85 215.72 L168.85 215.02 L171.62 215.02 L171.62 214.33 L172.31 214.33 L172.31 209.48 L175.77 209.48 L175.77 209.28 L179.23 209.28 L179.23 209.07 L181 209.07 L181 209.07" fill="none" stroke="#ae1a38" stroke-width="1.1" stroke-linejoin="miter"/><path d="M48.6 273.8 L51.68 273.8 L51.68 273.44 L54.77 273.44 L54.77 273.08 L57.46 273.08 L57.46 272.41 L60.15 272.41 L60.15 271.74 L63.74 271.74 L63.74 271.07 L67.33 271.07 L67.33 270.39 L70.92 270.39 L70.92 269.72 L74.29 269.72 L74.29 269.05 L77.65 269.05 L77.65 268.37 L81.02 268.37 L81.02 268.04 L84.38 268.04 L84.38 267.7 L87.75 267.7 L87.75 266.35 L91.12 266.35 L91.12 265.01 L94.48 265.01 L94.48 264.47 L97.85 264.47 L97.85 263.93 L101.21 263.93 L101.21 263.46 L104.58 263.46 L104.58 262.99 L107.94 262.99 L107.94 261.98 L111.31 261.98 L111.31 260.97 L114.81 260.97 L114.81 260.05 L118.31 260.05 L118.31 259.12 L122.46 259.12 L122.46 258.08 L126.62 258.08 L126.62 257.05 L130.77 257.05 L130.77 256.35 L134.92 256.35 L134.92 255.66 L137.69 255.66 L137.69 254.97 L140.46 254.97 L140.46 254.28 L144.62 254.28 L144.62 253.58 L148.77 253.58 L148.77 252.89 L151.54 252.89 L151.54 250.12 L154.77 250.12 L154.77 249.43 L158 249.43 L158 248.74 L161.23 248.74 L161.23 248.05 L162.62 248.05 L162.62 247.35 L165.94 247.35 L165.94 247.35 L169.26 247.35 L169.26 247.35 L172.58 247.35 L172.58 247.35 L175.91 247.35 L175.91 247.35 L179.23 247.35 L179.23 247.35 L181 247.35 L181 247.35" fill="none" stroke="#293562" stroke-width="1.1" stroke-linejoin="miter"/></g>
<rect x="42.9" y="169.3" width="137.4" height="109.7" fill="none" stroke="#222" stroke-width="1.55"/>
<clipPath id="c11"><rect x="189.15" y="169.3" width="137.18" height="109.7"/></clipPath>
<g clip-path="url(#c11)"><path d="M194.85 273.8 L196.73 273.8 L196.73 269.95 L198.08 269.95 L198.08 266.58 L199.42 266.58 L199.42 263.22 L201.44 263.22 L201.44 259.85 L203.46 259.85 L203.46 256.48 L206.83 256.48 L206.83 255.14 L210.19 255.14 L210.19 253.79 L213.56 253.79 L213.56 251.77 L216.92 251.77 L216.92 249.75 L220.29 249.75 L220.29 248.41 L223.65 248.41 L223.65 247.06 L227.02 247.06 L227.02 244.71 L230.38 244.71 L230.38 242.35 L233.75 242.35 L233.75 241.68 L237.12 241.68 L237.12 241 L240.48 241 L240.48 239.66 L243.85 239.66 L243.85 238.31 L247.21 238.31 L247.21 236.29 L250.58 236.29 L250.58 234.27 L253.27 234.27 L253.27 232.93 L256 232.93 L256 232.87 L258.77 232.87 L258.77 230.1 L262.23 230.1 L262.23 229.06 L265.69 229.06 L265.69 228.02 L268.46 228.02 L268.46 225.95 L271.23 225.95 L271.23 223.87 L274 223.87 L274 222.95 L276.77 222.95 L276.77 222.02 L279.54 222.02 L279.54 221.1 L280.92 221.1 L280.92 217.64 L283.46 217.64 L283.46 217.18 L286 217.18 L286 216.72 L288.54 216.72 L288.54 216.25 L289.23 216.25 L289.23 212.1 L293.38 212.1 L293.38 210.72 L294.08 210.72 L294.08 205.18 L297.54 205.18 L297.54 203.79 L297.61 203.79 L297.61 200.68 L297.68 200.68 L297.68 197.56 L300.56 197.56 L300.56 197.42 L303.44 197.42 L303.44 197.28 L306.32 197.28 L306.32 197.15 L309.2 197.15 L309.2 197.01 L312.08 197.01 L312.08 196.87 L312.15 196.87 L312.15 192.37 L312.22 192.37 L312.22 187.87 L314.57 187.87 L314.57 187.52 L316.92 187.52 L316.92 187.18 L316.97 187.18 L316.97 183.25 L317.02 183.25 L317.02 179.33 L317.06 179.33 L317.06 175.41 L319.78 175.41 L319.78 175.41 L322.51 175.41 L322.51 175.41 L325.23 175.41 L325.23 175.41 L327.5 175.41 L327.5 175.41 L327.5 234.25 L327.5 234.25 L325.23 234.25 L325.23 234.72 L322.46 234.72 L322.46 235.18 L319.69 235.18 L319.69 235.64 L316.92 235.64 L316.92 236.33 L314.5 236.33 L314.5 237.02 L312.08 237.02 L312.08 239.1 L309.65 239.1 L309.65 241.18 L307.23 241.18 L307.23 241.64 L304 241.64 L304 242.1 L300.77 242.1 L300.77 242.56 L297.54 242.56 L297.54 244.64 L293.38 244.64 L293.38 245.33 L289.92 245.33 L289.92 246.02 L286.46 246.02 L286.46 247.06 L283 247.06 L283 248.1 L279.54 248.1 L279.54 248.56 L276.31 248.56 L276.31 249.02 L273.08 249.02 L273.08 249.48 L269.85 249.48 L269.85 250.18 L267.08 250.18 L267.08 250.87 L264.31 250.87 L264.31 251.79 L261.54 251.79 L261.54 252.72 L258.77 252.72 L258.77 253.64 L256 253.64 L256 254.6 L253.27 254.6 L253.27 255.14 L250.58 255.14 L250.58 256.15 L247.21 256.15 L247.21 257.16 L243.85 257.16 L243.85 257.83 L240.48 257.83 L240.48 258.5 L237.12 258.5 L237.12 259.18 L233.75 259.18 L233.75 259.85 L230.38 259.85 L230.38 260.86 L227.02 260.86 L227.02 261.87 L223.65 261.87 L223.65 262.54 L220.29 262.54 L220.29 263.22 L216.92 263.22 L216.92 264.23 L213.56 264.23 L213.56 265.23 L210.19 265.23 L210.19 266.92 L206.83 266.92 L206.83 268.6 L203.46 268.6 L203.46 271.29 L200.77 271.29 L200.77 273.98 L198.08 273.98 L198.08 273.8 L194.85 273.8 Z" fill="#edbcb1" style="mix-blend-mode:multiply"/><path d="M194.85 273.8 L197.72 273.8 L197.72 273.41 L200.59 273.41 L200.59 273.03 L203.46 273.03 L203.46 272.64 L206.83 272.64 L206.83 271.43 L210.19 271.43 L210.19 270.22 L213.56 270.22 L213.56 269.41 L216.92 269.41 L216.92 268.6 L220.29 268.6 L220.29 267.93 L223.65 267.93 L223.65 267.25 L227.02 267.25 L227.02 266.24 L230.38 266.24 L230.38 265.23 L233.75 265.23 L233.75 263.89 L237.12 263.89 L237.12 262.54 L240.48 262.54 L240.48 261.53 L243.85 261.53 L243.85 260.52 L247.21 260.52 L247.21 259.98 L250.58 259.98 L250.58 259.45 L253.27 259.45 L253.27 258.91 L256 258.91 L256 259.18 L259.46 259.18 L259.46 258.48 L262.92 258.48 L262.92 257.79 L266.38 257.79 L266.38 257.45 L269.85 257.45 L269.85 257.1 L273.31 257.1 L273.31 256.41 L276.77 256.41 L276.77 255.72 L280.23 255.72 L280.23 255.02 L283.69 255.02 L283.69 254.33 L287.85 254.33 L287.85 251.56 L290.62 251.56 L290.62 251.1 L293.38 251.1 L293.38 250.64 L296.15 250.64 L296.15 250.18 L297.54 250.18 L297.54 246.72 L300.77 246.72 L300.77 246.25 L304 246.25 L304 245.79 L307.23 245.79 L307.23 245.33 L308.62 245.33 L308.62 243.95 L311.38 243.95 L311.38 243.83 L314.15 243.83 L314.15 243.72 L316.92 243.72 L316.92 243.6 L319.69 243.6 L319.69 243.48 L322.46 243.48 L322.46 243.37 L325.23 243.37 L325.23 243.25 L327.5 243.25 L327.5 243.25 L327.5 257.1 L327.5 257.1 L325.23 257.1 L325.23 257.1 L322.23 257.1 L322.23 257.1 L319.23 257.1 L319.23 257.1 L316.23 257.1 L316.23 257.1 L313.23 257.1 L313.23 257.1 L310.23 257.1 L310.23 257.1 L307.23 257.1 L307.23 257.33 L304 257.33 L304 257.56 L300.77 257.56 L300.77 257.79 L297.54 257.79 L297.54 259.87 L296.15 259.87 L296.15 260.1 L293.38 260.1 L293.38 260.33 L290.62 260.33 L290.62 260.56 L287.85 260.56 L287.85 261.95 L283.69 261.95 L283.69 262.64 L280.23 262.64 L280.23 263.33 L276.77 263.33 L276.77 263.68 L273.31 263.68 L273.31 264.02 L269.85 264.02 L269.85 264.37 L266.38 264.37 L266.38 264.72 L262.92 264.72 L262.92 265.06 L259.46 265.06 L259.46 265.41 L256 265.41 L256 263.08 L253.27 263.08 L253.27 263.48 L250.58 263.48 L250.58 264.02 L247.21 264.02 L247.21 264.56 L243.85 264.56 L243.85 265.57 L240.48 265.57 L240.48 266.58 L237.12 266.58 L237.12 267.79 L233.75 267.79 L233.75 269 L230.38 269 L230.38 269.61 L227.02 269.61 L227.02 270.22 L223.65 270.22 L223.65 270.75 L220.29 270.75 L220.29 271.29 L216.92 271.29 L216.92 271.97 L213.56 271.97 L213.56 272.64 L210.19 272.64 L210.19 273.31 L206.83 273.31 L206.83 273.98 L203.46 273.98 L203.46 273.92 L200.59 273.92 L200.59 273.86 L197.72 273.86 L197.72 273.8 L194.85 273.8 Z" fill="#bec5df" style="mix-blend-mode:multiply"/><path d="M194.85 273.8 L198.08 273.8 L198.08 269.95 L200.77 269.95 L200.77 265.91 L203.46 265.91 L203.46 262.54 L206.15 262.54 L206.15 260.52 L210.19 260.52 L210.19 259.18 L213.56 259.18 L213.56 258.17 L216.92 258.17 L216.92 257.16 L220.96 257.16 L220.96 255.81 L222.31 255.81 L222.31 254.47 L225 254.47 L225 253.34 L227.69 253.34 L227.69 252.22 L230.38 252.22 L230.38 251.1 L233.35 251.1 L233.35 250.97 L236.31 250.97 L236.31 250.83 L239.27 250.83 L239.27 250.7 L242.23 250.7 L242.23 250.56 L245.19 250.56 L245.19 250.43 L249.23 250.43 L249.23 245.72 L253.27 245.72 L253.27 244.91 L256 244.91 L256 243.95 L257.38 243.95 L257.38 241.87 L260.15 241.87 L260.15 241.64 L262.92 241.64 L262.92 241.41 L265.69 241.41 L265.69 241.18 L266.38 241.18 L266.38 239.1 L270.54 239.1 L270.54 237.72 L271.23 237.72 L271.23 235.64 L274 235.64 L274 235.41 L276.77 235.41 L276.77 235.18 L279.54 235.18 L279.54 234.95 L280.23 234.95 L280.23 232.18 L283 232.18 L283 231.95 L285.77 231.95 L285.77 231.72 L288.54 231.72 L288.54 231.48 L289.23 231.48 L289.23 228.72 L293.38 228.72 L293.38 228.02 L294.08 228.02 L294.08 223.87 L296.15 223.87 L296.15 223.18 L296.85 223.18 L296.85 219.02 L299.89 219.02 L299.89 218.88 L302.94 218.88 L302.94 218.75 L305.98 218.75 L305.98 218.61 L309.03 218.61 L309.03 218.47 L312.08 218.47 L312.08 218.33 L312.42 218.33 L312.42 215.22 L312.77 215.22 L312.77 212.1 L316.92 212.1 L316.92 211.41 L317.27 211.41 L317.27 207.95 L317.62 207.95 L317.62 204.48 L320.15 204.48 L320.15 204.25 L322.69 204.25 L322.69 204.02 L325.23 204.02 L325.23 203.79 L327.5 203.79 L327.5 203.79" fill="none" stroke="#ae1a38" stroke-width="1.1" stroke-linejoin="miter"/><path d="M194.85 273.8 L197.14 273.8 L197.14 273.89 L199.42 273.89 L199.42 273.98 L203.46 273.98 L203.46 273.31 L206.83 273.31 L206.83 272.3 L210.19 272.3 L210.19 271.29 L213.56 271.29 L213.56 270.62 L216.92 270.62 L216.92 269.95 L220.29 269.95 L220.29 269.27 L223.65 269.27 L223.65 268.6 L227.02 268.6 L227.02 267.93 L230.38 267.93 L230.38 267.25 L233.75 267.25 L233.75 265.91 L237.12 265.91 L237.12 264.56 L240.48 264.56 L240.48 263.55 L243.85 263.55 L243.85 262.54 L247.21 262.54 L247.21 262.07 L250.58 262.07 L250.58 261.6 L253.27 261.6 L253.27 261.06 L256 261.06 L256 262.64 L259.46 262.64 L259.46 261.95 L262.92 261.95 L262.92 261.25 L266.38 261.25 L266.38 260.91 L269.85 260.91 L269.85 260.56 L273.31 260.56 L273.31 259.87 L276.77 259.87 L276.77 259.18 L280.23 259.18 L280.23 258.83 L283.69 258.83 L283.69 258.48 L287.85 258.48 L287.85 255.72 L290.62 255.72 L290.62 255.48 L293.38 255.48 L293.38 255.25 L296.15 255.25 L296.15 255.02 L297.54 255.02 L297.54 252.25 L300.77 252.25 L300.77 252.02 L304 252.02 L304 251.79 L307.23 251.79 L307.23 251.56 L308.62 251.56 L308.62 250.18 L311.38 250.18 L311.38 250.18 L314.15 250.18 L314.15 250.18 L316.92 250.18 L316.92 250.18 L319.69 250.18 L319.69 250.18 L322.46 250.18 L322.46 250.18 L325.23 250.18 L325.23 250.18 L327.5 250.18 L327.5 250.18" fill="none" stroke="#293562" stroke-width="1.1" stroke-linejoin="miter"/></g>
<rect x="189.15" y="169.3" width="137.18" height="109.7" fill="none" stroke="#222" stroke-width="1.55"/>
<clipPath id="c12"><rect x="335.1" y="169.3" width="137.9" height="109.7"/></clipPath>
<g clip-path="url(#c12)"><path d="M340.8 273.8 L342 273.8 L342 243.6 L344.1 243.6 L344.1 233.5 L387.1 233.5 L387.1 211.2 L474 211.2 L474 273 L387 273 L387 273.4 L344 273.4 L344 273.8 L340.8 273.8 Z" fill="#edbcb1" style="mix-blend-mode:multiply"/><path d="M340.8 273.8 L352.2 273.8 L352.2 265.1 L358.2 265.1 L358.2 259 L380.4 259 L380.4 246.9 L401 246.9 L401 239.8 L407.8 239.8 L407.8 232.7 L424.2 232.7 L424.2 221.3 L447.7 221.3 L447.7 197.1 L474 197.1 L474 262.6 L448.4 262.6 L448.4 264 L424.2 264 L424.2 267.6 L400 267.6 L400 270 L377.7 270 L377.7 273.2 L352.2 273.2 L352.2 273.8 L340.8 273.8 Z" fill="#bec5df" style="mix-blend-mode:multiply"/><path d="M340.8 273.8 L341.8 273.8 L341.8 266 L343.4 266 L343.4 260 L344.1 260 L344.1 254.7 L387.1 254.7 L387.1 242.6 L474 242.6" fill="none" stroke="#ae1a38" stroke-width="1.1" stroke-linejoin="miter"/><path d="M340.8 273.8 L352.2 273.8 L352.2 272.5 L354 272.5 L354 271 L356 271 L356 269.5 L357.5 269.5 L357.5 267.8 L359 267.8 L359 266.5 L360.9 266.5 L360.9 265.5 L377.7 265.5 L377.7 263.1 L380 263.1 L380 260 L381.8 260 L381.8 257.7 L401.4 257.7 L401.4 254 L405.7 254 L405.7 251.2 L408.5 251.2 L408.5 249 L424.2 249 L424.2 242 L448.4 242 L448.4 229.1 L474 229.1" fill="none" stroke="#293562" stroke-width="1.1" stroke-linejoin="miter"/></g>
<rect x="335.1" y="169.3" width="137.9" height="109.7" fill="none" stroke="#222" stroke-width="1.55"/>
<clipPath id="c20"><rect x="42.9" y="288.2" width="137.4" height="109.2"/></clipPath>
<g clip-path="url(#c20)"><path d="M48.6 392.3 L51.08 392.3 L51.08 388.95 L52.92 388.95 L52.92 385.25 L54.77 385.25 L54.77 381.56 L56.62 381.56 L56.62 377.87 L59.38 377.87 L59.38 375.1 L62.15 375.1 L62.15 372.33 L64.92 372.33 L64.92 369.98 L67.69 369.98 L67.69 367.62 L70 367.62 L70 366.15 L72.31 366.15 L72.31 364.67 L74.62 364.67 L74.62 363.19 L76.92 363.19 L76.92 362.08 L79.23 362.08 L79.23 360.98 L81.54 360.98 L81.54 359.87 L83.85 359.87 L83.85 359.13 L86.15 359.13 L86.15 358.39 L88.46 358.39 L88.46 357.65 L90.77 357.65 L90.77 357.01 L93.08 357.01 L93.08 356.36 L95.38 356.36 L95.38 355.72 L97.46 355.72 L97.46 354.33 L99.54 354.33 L99.54 352.95 L102.31 352.95 L102.31 351.15 L105.08 351.15 L105.08 349.35 L107.15 349.35 L107.15 347.68 L109.23 347.68 L109.23 346.02 L112 346.02 L112 343.25 L114.77 343.25 L114.77 340.48 L117.54 340.48 L117.54 338.41 L120.31 338.41 L120.31 336.33 L123.08 336.33 L123.08 332.18 L125.85 332.18 L125.85 329.41 L128.62 329.41 L128.62 326.64 L130.69 326.64 L130.69 325.25 L132.77 325.25 L132.77 323.87 L135.19 323.87 L135.19 322.48 L137.62 322.48 L137.62 321.1 L140.04 321.1 L140.04 319.72 L142.46 319.72 L142.46 318.33 L143.85 318.33 L143.85 314.18 L146.38 314.18 L146.38 313.58 L148.92 313.58 L148.92 312.98 L151.46 312.98 L151.46 312.38 L154 312.38 L154 311.78 L156.54 311.78 L156.54 311.18 L159.08 311.18 L159.08 310.58 L161.85 310.58 L161.85 309.47 L164.62 309.47 L164.62 308.92 L167.38 308.92 L167.38 308.36 L170.15 308.36 L170.15 307.81 L172.92 307.81 L172.92 307.25 L173.62 307.25 L173.62 304.21 L174.31 304.21 L174.31 301.16 L177.08 301.16 L177.08 301.16 L179.85 301.16 L179.85 301.16 L181 301.16 L181 301.16 L181 335.5 L181 335.5 L179.85 335.5 L179.85 336.05 L177.54 336.05 L177.54 336.61 L175.23 336.61 L175.23 337.16 L172.92 337.16 L172.92 337.48 L170.62 337.48 L170.62 337.81 L168.31 337.81 L168.31 338.13 L166 338.13 L166 338.45 L163.69 338.45 L163.69 338.78 L161.38 338.78 L161.38 339.1 L159.08 339.1 L159.08 339.33 L156.54 339.33 L156.54 339.56 L154 339.56 L154 339.79 L151.46 339.79 L151.46 340.02 L148.92 340.02 L148.92 340.25 L146.38 340.25 L146.38 340.48 L143.85 340.48 L143.85 341.87 L142.46 341.87 L142.46 342.22 L140.04 342.22 L140.04 342.56 L137.62 342.56 L137.62 342.91 L135.19 342.91 L135.19 343.25 L132.77 343.25 L132.77 345.33 L130.69 345.33 L130.69 347.41 L128.62 347.41 L128.62 349.48 L125.85 349.48 L125.85 351.56 L123.08 351.56 L123.08 354.33 L120.31 354.33 L120.31 355.72 L117.54 355.72 L117.54 357.1 L114.77 357.1 L114.77 358.48 L112 358.48 L112 359.87 L109.23 359.87 L109.23 361.53 L107.15 361.53 L107.15 363.19 L105.08 363.19 L105.08 364.99 L102.31 364.99 L102.31 366.79 L99.54 366.79 L99.54 367.76 L97.46 367.76 L97.46 368.73 L95.38 368.73 L95.38 369.47 L93.08 369.47 L93.08 370.21 L90.77 370.21 L90.77 370.95 L88.46 370.95 L88.46 371.68 L86.15 371.68 L86.15 372.42 L83.85 372.42 L83.85 373.16 L81.54 373.16 L81.54 373.81 L79.23 373.81 L79.23 374.45 L76.92 374.45 L76.92 375.1 L74.62 375.1 L74.62 376.3 L72.31 376.3 L72.31 377.5 L70 377.5 L70 378.7 L67.69 378.7 L67.69 380.64 L64.92 380.64 L64.92 382.58 L62.15 382.58 L62.15 384.79 L59.38 384.79 L59.38 387.01 L56.62 387.01 L56.62 390.19 L53.85 390.19 L53.85 393.38 L51.08 393.38 L51.08 392.3 L48.6 392.3 Z" fill="#edbcb1" style="mix-blend-mode:multiply"/><path d="M48.6 392.3 L51.27 392.3 L51.27 391.92 L53.94 391.92 L53.94 391.54 L56.62 391.54 L56.62 391.16 L59.38 391.16 L59.38 390.54 L62.15 390.54 L62.15 389.92 L64.92 389.92 L64.92 389.29 L67.69 389.29 L67.69 388.67 L70 388.67 L70 388.12 L72.31 388.12 L72.31 387.56 L74.62 387.56 L74.62 387.01 L76.92 387.01 L76.92 386.45 L79.23 386.45 L79.23 385.9 L81.54 385.9 L81.54 385.35 L83.85 385.35 L83.85 384.84 L86.15 384.84 L86.15 384.33 L88.46 384.33 L88.46 383.82 L90.77 383.82 L90.77 383.32 L93.08 383.32 L93.08 382.81 L95.38 382.81 L95.38 382.3 L97.69 382.3 L97.69 381.79 L100 381.79 L100 381.28 L102.31 381.28 L102.31 380.78 L104.62 380.78 L104.62 380.27 L106.92 380.27 L106.92 379.76 L109.23 379.76 L109.23 379.25 L111.54 379.25 L111.54 378.79 L113.85 378.79 L113.85 378.33 L116.15 378.33 L116.15 377.87 L118.46 377.87 L118.46 377.41 L120.77 377.41 L120.77 376.95 L123.08 376.95 L123.08 376.48 L125.38 376.48 L125.38 376.12 L127.69 376.12 L127.69 375.75 L130 375.75 L130 375.38 L132.31 375.38 L132.31 375.01 L134.62 375.01 L134.62 374.64 L136.92 374.64 L136.92 374.27 L139.23 374.27 L139.23 373.95 L141.54 373.95 L141.54 373.62 L143.85 373.62 L143.85 373.3 L146.15 373.3 L146.15 372.98 L148.46 372.98 L148.46 372.65 L150.77 372.65 L150.77 372.33 L153.08 372.33 L153.08 372.1 L155.38 372.1 L155.38 371.87 L157.69 371.87 L157.69 371.64 L160 371.64 L160 371.41 L162.31 371.41 L162.31 371.18 L164.62 371.18 L164.62 370.95 L167.15 370.95 L167.15 370.48 L169.69 370.48 L169.69 370.02 L172.23 370.02 L172.23 369.56 L174.77 369.56 L174.77 369.1 L177.31 369.1 L177.31 368.64 L179.85 368.64 L179.85 368.18 L181 368.18 L181 368.18 L181 375.93 L181 375.93 L179.85 375.93 L179.85 376.16 L177.31 376.16 L177.31 376.39 L174.77 376.39 L174.77 376.62 L172.23 376.62 L172.23 376.85 L169.69 376.85 L169.69 377.08 L167.15 377.08 L167.15 377.32 L164.62 377.32 L164.62 377.45 L162.31 377.45 L162.31 377.59 L160 377.59 L160 377.73 L157.69 377.73 L157.69 377.87 L155.38 377.87 L155.38 378.01 L153.08 378.01 L153.08 378.15 L150.77 378.15 L150.77 378.38 L148.46 378.38 L148.46 378.61 L146.15 378.61 L146.15 378.84 L143.85 378.84 L143.85 379.07 L141.54 379.07 L141.54 379.3 L139.23 379.3 L139.23 379.53 L136.92 379.53 L136.92 379.76 L134.62 379.76 L134.62 379.99 L132.31 379.99 L132.31 380.22 L130 380.22 L130 380.45 L127.69 380.45 L127.69 380.68 L125.38 380.68 L125.38 380.92 L123.08 380.92 L123.08 381.28 L120.77 381.28 L120.77 381.65 L118.46 381.65 L118.46 382.02 L116.15 382.02 L116.15 382.39 L113.85 382.39 L113.85 382.76 L111.54 382.76 L111.54 383.13 L109.23 383.13 L109.23 383.55 L106.92 383.55 L106.92 383.96 L104.62 383.96 L104.62 384.38 L102.31 384.38 L102.31 384.79 L100 384.79 L100 385.21 L97.69 385.21 L97.69 385.62 L95.38 385.62 L95.38 386.04 L93.08 386.04 L93.08 386.45 L90.77 386.45 L90.77 386.87 L88.46 386.87 L88.46 387.28 L86.15 387.28 L86.15 387.7 L83.85 387.7 L83.85 388.12 L81.54 388.12 L81.54 388.48 L79.23 388.48 L79.23 388.85 L76.92 388.85 L76.92 389.22 L74.62 389.22 L74.62 389.59 L72.31 389.59 L72.31 389.96 L70 389.96 L70 390.33 L67.69 390.33 L67.69 390.88 L64.92 390.88 L64.92 391.44 L62.15 391.44 L62.15 391.99 L59.38 391.99 L59.38 392.55 L56.62 392.55 L56.62 392.46 L53.94 392.46 L53.94 392.38 L51.27 392.38 L51.27 392.3 L48.6 392.3 Z" fill="#bec5df" style="mix-blend-mode:multiply"/><path d="M48.6 392.3 L50.53 392.3 L50.53 389.93 L52.46 389.93 L52.46 387.56 L54.54 387.56 L54.54 385.07 L56.62 385.07 L56.62 382.58 L59.38 382.58 L59.38 380.22 L62.15 380.22 L62.15 377.87 L64.92 377.87 L64.92 375.52 L67.69 375.52 L67.69 373.16 L70 373.16 L70 371.96 L72.31 371.96 L72.31 370.76 L74.62 370.76 L74.62 369.56 L76.92 369.56 L76.92 368.64 L79.23 368.64 L79.23 367.72 L81.54 367.72 L81.54 366.79 L83.85 366.79 L83.85 365.87 L86.15 365.87 L86.15 364.95 L88.46 364.95 L88.46 364.02 L90.77 364.02 L90.77 363.56 L93.08 363.56 L93.08 363.1 L95.38 363.1 L95.38 362.64 L97.46 362.64 L97.46 361.53 L99.54 361.53 L99.54 360.42 L102.31 360.42 L102.31 358.48 L105.08 358.48 L105.08 356.55 L107.15 356.55 L107.15 354.75 L109.23 354.75 L109.23 352.95 L112 352.95 L112 351.15 L114.77 351.15 L114.77 349.35 L117.54 349.35 L117.54 347.41 L120.31 347.41 L120.31 345.47 L123.08 345.47 L123.08 341.87 L125.85 341.87 L125.85 340.48 L128.62 340.48 L128.62 339.1 L130.69 339.1 L130.69 336.75 L132.77 336.75 L132.77 334.39 L135.19 334.39 L135.19 334.18 L137.62 334.18 L137.62 333.98 L140.04 333.98 L140.04 333.77 L142.46 333.77 L142.46 333.56 L143.85 333.56 L143.85 329.41 L146.38 329.41 L146.38 328.95 L148.92 328.95 L148.92 328.48 L151.46 328.48 L151.46 328.02 L154 328.02 L154 327.56 L156.54 327.56 L156.54 327.1 L159.08 327.1 L159.08 326.64 L161.85 326.64 L161.85 325.25 L164.62 325.25 L164.62 324.91 L167.38 324.91 L167.38 324.56 L170.15 324.56 L170.15 324.22 L172.92 324.22 L172.92 323.87 L173.62 323.87 L173.62 320.41 L174.31 320.41 L174.31 316.95 L177.08 316.95 L177.08 316.95 L179.85 316.95 L179.85 316.95 L181 316.95 L181 316.95" fill="none" stroke="#ae1a38" stroke-width="1.1" stroke-linejoin="miter"/><path d="M48.6 392.3 L51.27 392.3 L51.27 392.11 L53.94 392.11 L53.94 391.91 L56.62 391.91 L56.62 391.72 L59.38 391.72 L59.38 391.16 L62.15 391.16 L62.15 390.61 L64.92 390.61 L64.92 390.05 L67.69 390.05 L67.69 389.5 L70 389.5 L70 389.04 L72.31 389.04 L72.31 388.58 L74.62 388.58 L74.62 388.12 L76.92 388.12 L76.92 387.65 L79.23 387.65 L79.23 387.19 L81.54 387.19 L81.54 386.73 L83.85 386.73 L83.85 386.27 L86.15 386.27 L86.15 385.81 L88.46 385.81 L88.46 385.35 L90.77 385.35 L90.77 384.88 L93.08 384.88 L93.08 384.42 L95.38 384.42 L95.38 383.96 L97.69 383.96 L97.69 383.5 L100 383.5 L100 383.04 L102.31 383.04 L102.31 382.58 L104.62 382.58 L104.62 382.12 L106.92 382.12 L106.92 381.65 L109.23 381.65 L109.23 381.19 L111.54 381.19 L111.54 380.78 L113.85 380.78 L113.85 380.36 L116.15 380.36 L116.15 379.95 L118.46 379.95 L118.46 379.53 L120.77 379.53 L120.77 379.12 L123.08 379.12 L123.08 378.7 L125.38 378.7 L125.38 378.42 L127.69 378.42 L127.69 378.15 L130 378.15 L130 377.87 L132.31 377.87 L132.31 377.59 L134.62 377.59 L134.62 377.32 L136.92 377.32 L136.92 377.04 L139.23 377.04 L139.23 376.76 L141.54 376.76 L141.54 376.48 L143.85 376.48 L143.85 376.21 L146.15 376.21 L146.15 375.93 L148.46 375.93 L148.46 375.65 L150.77 375.65 L150.77 375.38 L153.08 375.38 L153.08 375.19 L155.38 375.19 L155.38 375.01 L157.69 375.01 L157.69 374.82 L160 374.82 L160 374.64 L162.31 374.64 L162.31 374.45 L164.62 374.45 L164.62 374.27 L167.15 374.27 L167.15 373.95 L169.69 373.95 L169.69 373.62 L172.23 373.62 L172.23 373.3 L174.77 373.3 L174.77 372.98 L177.31 372.98 L177.31 372.65 L179.85 372.65 L179.85 372.33 L181 372.33 L181 372.33" fill="none" stroke="#293562" stroke-width="1.1" stroke-linejoin="miter"/></g>
<rect x="42.9" y="288.2" width="137.4" height="109.2" fill="none" stroke="#222" stroke-width="1.55"/>
<clipPath id="c21"><rect x="189.15" y="288.2" width="137.18" height="109.2"/></clipPath>
<g clip-path="url(#c21)"><path d="M194.85 392.3 L196.06 392.3 L196.06 388.54 L198.08 388.54 L198.08 384.5 L200.77 384.5 L200.77 381.13 L203.46 381.13 L203.46 377.77 L205.71 377.77 L205.71 376.2 L207.95 376.2 L207.95 374.63 L210.19 374.63 L210.19 373.06 L212.44 373.06 L212.44 371.04 L214.68 371.04 L214.68 369.02 L216.92 369.02 L216.92 367 L219.17 367 L219.17 365.88 L221.41 365.88 L221.41 364.76 L223.65 364.76 L223.65 363.63 L225.9 363.63 L225.9 362.74 L228.14 362.74 L228.14 361.84 L230.38 361.84 L230.38 360.94 L232.63 360.94 L232.63 360.27 L234.87 360.27 L234.87 359.6 L237.12 359.6 L237.12 358.92 L239.36 358.92 L239.36 358.25 L241.6 358.25 L241.6 357.58 L243.85 357.58 L243.85 356.9 L246.09 356.9 L246.09 355.33 L248.33 355.33 L248.33 353.76 L250.58 353.76 L250.58 352.19 L252.6 352.19 L252.6 350.17 L254.62 350.17 L254.62 348.15 L255.31 348.15 L255.31 345.38 L256 345.38 L256 342.62 L258.31 342.62 L258.31 341 L260.62 341 L260.62 339.38 L262.92 339.38 L262.92 337.77 L265.23 337.77 L265.23 335.92 L267.54 335.92 L267.54 334.08 L269.85 334.08 L269.85 332.23 L272.62 332.23 L272.62 329.46 L275.38 329.46 L275.38 326.69 L278.15 326.69 L278.15 324.62 L280.92 324.62 L280.92 322.54 L283.23 322.54 L283.23 322.08 L285.54 322.08 L285.54 321.62 L287.85 321.62 L287.85 321.15 L289.23 321.15 L289.23 316.31 L291.31 316.31 L291.31 313.88 L293.38 313.88 L293.38 311.46 L295.69 311.46 L295.69 311.35 L298 311.35 L298 311.23 L300.31 311.23 L300.31 311.12 L302.62 311.12 L302.62 311 L304.92 311 L304.92 310.88 L307.23 310.88 L307.23 310.77 L307.92 310.77 L307.92 308 L310.52 308 L310.52 307.83 L313.12 307.83 L313.12 307.65 L315.71 307.65 L315.71 307.48 L318.31 307.48 L318.31 307.31 L319.69 307.31 L319.69 302.46 L320.38 302.46 L320.38 299.69 L321.08 299.69 L321.08 296.92 L323.15 296.92 L323.15 296.58 L325.23 296.58 L325.23 296.23 L327.5 296.23 L327.5 296.23 L327.5 334.31 L327.5 334.31 L325.23 334.31 L325.23 334.65 L322.46 334.65 L322.46 335 L319.69 335 L319.69 337.77 L318.31 337.77 L318.31 337.94 L315.88 337.94 L315.88 338.12 L313.46 338.12 L313.46 338.29 L311.04 338.29 L311.04 338.46 L308.62 338.46 L308.62 339.15 L307.23 339.15 L307.23 339.33 L304.81 339.33 L304.81 339.5 L302.38 339.5 L302.38 339.67 L299.96 339.67 L299.96 339.85 L297.54 339.85 L297.54 340.08 L294.77 340.08 L294.77 340.31 L292 340.31 L292 340.54 L289.23 340.54 L289.23 345.38 L287.85 345.38 L287.85 345.62 L285.54 345.62 L285.54 345.85 L283.23 345.85 L283.23 346.08 L280.92 346.08 L280.92 347.12 L278.15 347.12 L278.15 348.15 L275.38 348.15 L275.38 350.23 L272.62 350.23 L272.62 352.31 L269.85 352.31 L269.85 353.92 L267.54 353.92 L267.54 355.54 L265.23 355.54 L265.23 357.15 L262.92 357.15 L262.92 358.31 L260.62 358.31 L260.62 359.46 L258.31 359.46 L258.31 360.62 L256 360.62 L256 360.27 L254.62 360.27 L254.62 361.62 L252.6 361.62 L252.6 362.96 L250.58 362.96 L250.58 364.31 L248.33 364.31 L248.33 365.65 L246.09 365.65 L246.09 367 L243.85 367 L243.85 367.67 L241.6 367.67 L241.6 368.35 L239.36 368.35 L239.36 369.02 L237.12 369.02 L237.12 369.47 L234.87 369.47 L234.87 369.92 L232.63 369.92 L232.63 370.37 L230.38 370.37 L230.38 371.04 L228.14 371.04 L228.14 371.71 L225.9 371.71 L225.9 372.38 L223.65 372.38 L223.65 373.51 L221.41 373.51 L221.41 374.63 L219.17 374.63 L219.17 375.75 L216.92 375.75 L216.92 377.1 L214.68 377.1 L214.68 378.44 L212.44 378.44 L212.44 379.79 L210.19 379.79 L210.19 381.58 L207.95 381.58 L207.95 383.38 L205.71 383.38 L205.71 385.17 L203.46 385.17 L203.46 387.53 L200.77 387.53 L200.77 389.88 L198.08 389.88 L198.08 391.23 L196.06 391.23 L196.06 392.3 L194.85 392.3 Z" fill="#edbcb1" style="mix-blend-mode:multiply"/><path d="M194.85 392.3 L197.72 392.3 L197.72 392.13 L200.59 392.13 L200.59 391.96 L203.46 391.96 L203.46 391.79 L206.15 391.79 L206.15 391.2 L208.85 391.2 L208.85 390.61 L211.54 390.61 L211.54 390.02 L214.23 390.02 L214.23 389.42 L216.92 389.42 L216.92 388.83 L219.62 388.83 L219.62 388.32 L222.31 388.32 L222.31 387.81 L225 387.81 L225 387.3 L227.69 387.3 L227.69 386.78 L230.38 386.78 L230.38 386.27 L233.08 386.27 L233.08 385.79 L235.77 385.79 L235.77 385.3 L238.46 385.3 L238.46 384.82 L241.15 384.82 L241.15 384.33 L243.85 384.33 L243.85 383.85 L246.09 383.85 L246.09 383.31 L248.33 383.31 L248.33 382.77 L250.58 382.77 L250.58 382.23 L252.6 382.23 L252.6 381.43 L254.62 381.43 L254.62 380.62 L256 380.62 L256 380.41 L258.31 380.41 L258.31 379.81 L260.62 379.81 L260.62 379.21 L262.92 379.21 L262.92 378.61 L265.23 378.61 L265.23 378.05 L267.54 378.05 L267.54 377.5 L269.85 377.5 L269.85 376.95 L272.15 376.95 L272.15 376.48 L274.46 376.48 L274.46 376.02 L276.77 376.02 L276.77 375.56 L279.08 375.56 L279.08 375.19 L281.38 375.19 L281.38 374.82 L283.69 374.82 L283.69 374.45 L286 374.45 L286 374.13 L288.31 374.13 L288.31 373.81 L290.62 373.81 L290.62 373.48 L292.92 373.48 L292.92 373.25 L295.23 373.25 L295.23 373.02 L297.54 373.02 L297.54 372.79 L299.85 372.79 L299.85 372.7 L302.15 372.7 L302.15 372.61 L304.46 372.61 L304.46 372.52 L306.77 372.52 L306.77 372.38 L309.08 372.38 L309.08 372.24 L311.38 372.24 L311.38 372.1 L313.69 372.1 L313.69 371.78 L316 371.78 L316 371.45 L318.31 371.45 L318.31 371.13 L320.38 371.13 L320.38 370.44 L322.46 370.44 L322.46 369.75 L325.23 369.75 L325.23 368.92 L327.5 368.92 L327.5 368.92 L327.5 375.84 L327.5 375.84 L325.23 375.84 L325.23 376.25 L322.46 376.25 L322.46 376.6 L320.38 376.6 L320.38 376.95 L318.31 376.95 L318.31 377.04 L316 377.04 L316 377.13 L313.69 377.13 L313.69 377.22 L311.38 377.22 L311.38 377.36 L309.08 377.36 L309.08 377.5 L306.77 377.5 L306.77 377.64 L304.46 377.64 L304.46 377.78 L302.15 377.78 L302.15 377.92 L299.85 377.92 L299.85 378.05 L297.54 378.05 L297.54 378.24 L295.23 378.24 L295.23 378.42 L292.92 378.42 L292.92 378.61 L290.62 378.61 L290.62 378.88 L288.31 378.88 L288.31 379.16 L286 379.16 L286 379.44 L283.69 379.44 L283.69 379.72 L281.38 379.72 L281.38 379.99 L279.08 379.99 L279.08 380.27 L276.77 380.27 L276.77 380.64 L274.46 380.64 L274.46 381.01 L272.15 381.01 L272.15 381.38 L269.85 381.38 L269.85 381.84 L267.54 381.84 L267.54 382.3 L265.23 382.3 L265.23 382.76 L262.92 382.76 L262.92 383.22 L260.62 383.22 L260.62 383.68 L258.31 383.68 L258.31 384.15 L256 384.15 L256 383.31 L254.62 383.31 L254.62 384.12 L252.6 384.12 L252.6 384.93 L250.58 384.93 L250.58 385.38 L248.33 385.38 L248.33 385.82 L246.09 385.82 L246.09 386.27 L243.85 386.27 L243.85 386.68 L241.15 386.68 L241.15 387.08 L238.46 387.08 L238.46 387.48 L235.77 387.48 L235.77 387.89 L233.08 387.89 L233.08 388.29 L230.38 388.29 L230.38 388.78 L227.69 388.78 L227.69 389.26 L225 389.26 L225 389.75 L222.31 389.75 L222.31 390.23 L219.62 390.23 L219.62 390.72 L216.92 390.72 L216.92 391.17 L214.23 391.17 L214.23 391.63 L211.54 391.63 L211.54 392.09 L208.85 392.09 L208.85 392.55 L206.15 392.55 L206.15 393 L203.46 393 L203.46 392.77 L200.59 392.77 L200.59 392.53 L197.72 392.53 L197.72 392.3 L194.85 392.3 Z" fill="#bec5df" style="mix-blend-mode:multiply"/><path d="M194.85 392.3 L196.06 392.3 L196.06 389.88 L198.08 389.88 L198.08 386.52 L200.77 386.52 L200.77 383.83 L203.46 383.83 L203.46 381.13 L205.71 381.13 L205.71 379.56 L207.95 379.56 L207.95 377.99 L210.19 377.99 L210.19 376.42 L212.44 376.42 L212.44 374.85 L214.68 374.85 L214.68 373.28 L216.92 373.28 L216.92 371.71 L219.17 371.71 L219.17 370.59 L221.41 370.59 L221.41 369.47 L223.65 369.47 L223.65 368.35 L225.9 368.35 L225.9 367.67 L228.14 367.67 L228.14 367 L230.38 367 L230.38 366.33 L232.63 366.33 L232.63 365.65 L234.87 365.65 L234.87 364.98 L237.12 364.98 L237.12 364.31 L239.36 364.31 L239.36 363.63 L241.6 363.63 L241.6 362.96 L243.85 362.96 L243.85 362.29 L246.09 362.29 L246.09 360.72 L248.33 360.72 L248.33 359.15 L250.58 359.15 L250.58 357.58 L252.6 357.58 L252.6 356.23 L254.62 356.23 L254.62 354.88 L256 354.88 L256 352.31 L258.31 352.31 L258.31 350.69 L260.62 350.69 L260.62 349.08 L262.92 349.08 L262.92 347.46 L265.23 347.46 L265.23 345.62 L267.54 345.62 L267.54 343.77 L269.85 343.77 L269.85 341.92 L272.62 341.92 L272.62 339.85 L275.38 339.85 L275.38 337.77 L277.46 337.77 L277.46 336.04 L279.54 336.04 L279.54 334.31 L282.31 334.31 L282.31 334.22 L285.08 334.22 L285.08 334.12 L287.85 334.12 L287.85 334.03 L289.23 334.03 L289.23 330.85 L291.31 330.85 L291.31 328.77 L293.38 328.77 L293.38 326.69 L296.15 326.69 L296.15 326.48 L298.92 326.48 L298.92 326.28 L301.69 326.28 L301.69 325.95 L304.46 325.95 L304.46 325.63 L307.23 325.63 L307.23 325.31 L307.92 325.31 L307.92 323.23 L310.28 323.23 L310.28 323.01 L312.63 323.01 L312.63 322.79 L314.98 322.79 L314.98 322.57 L317.34 322.57 L317.34 322.34 L319.69 322.34 L319.69 322.12 L320.38 322.12 L320.38 318.38 L321.08 318.38 L321.08 314.65 L323.15 314.65 L323.15 314.65 L325.23 314.65 L325.23 314.65 L327.5 314.65 L327.5 314.65" fill="none" stroke="#ae1a38" stroke-width="1.1" stroke-linejoin="miter"/><path d="M194.85 392.3 L197.72 392.3 L197.72 392.31 L200.59 392.31 L200.59 392.32 L203.46 392.32 L203.46 392.33 L205.71 392.33 L205.71 391.88 L207.95 391.88 L207.95 391.43 L210.19 391.43 L210.19 390.98 L212.44 390.98 L212.44 390.54 L214.68 390.54 L214.68 390.09 L216.92 390.09 L216.92 389.64 L219.17 389.64 L219.17 389.28 L221.41 389.28 L221.41 388.92 L223.65 388.92 L223.65 388.56 L225.9 388.56 L225.9 388.11 L228.14 388.11 L228.14 387.66 L230.38 387.66 L230.38 387.22 L232.63 387.22 L232.63 386.9 L234.87 386.9 L234.87 386.59 L237.12 386.59 L237.12 386.27 L239.36 386.27 L239.36 385.82 L241.6 385.82 L241.6 385.38 L243.85 385.38 L243.85 384.93 L246.09 384.93 L246.09 384.48 L248.33 384.48 L248.33 384.03 L250.58 384.03 L250.58 383.58 L252.6 383.58 L252.6 382.84 L254.62 382.84 L254.62 382.1 L256 382.1 L256 382.48 L258.31 382.48 L258.31 381.93 L260.62 381.93 L260.62 381.38 L262.92 381.38 L262.92 380.82 L265.23 380.82 L265.23 380.36 L267.54 380.36 L267.54 379.9 L269.85 379.9 L269.85 379.44 L272.15 379.44 L272.15 378.98 L274.46 378.98 L274.46 378.52 L276.77 378.52 L276.77 378.05 L279.08 378.05 L279.08 377.78 L281.38 377.78 L281.38 377.5 L283.69 377.5 L283.69 377.22 L286 377.22 L286 376.9 L288.31 376.9 L288.31 376.58 L290.62 376.58 L290.62 376.25 L292.92 376.25 L292.92 375.93 L295.23 375.93 L295.23 375.61 L297.54 375.61 L297.54 375.28 L299.85 375.28 L299.85 375.15 L302.15 375.15 L302.15 375.01 L304.46 375.01 L304.46 374.87 L306.77 374.87 L306.77 374.87 L309.08 374.87 L309.08 374.87 L311.38 374.87 L311.38 374.87 L313.69 374.87 L313.69 374.64 L316 374.64 L316 374.41 L318.31 374.41 L318.31 374.18 L320.38 374.18 L320.38 373.62 L322.46 373.62 L322.46 373.07 L325.23 373.07 L325.23 372.79 L327.5 372.79 L327.5 372.79" fill="none" stroke="#293562" stroke-width="1.1" stroke-linejoin="miter"/></g>
<rect x="189.15" y="288.2" width="137.18" height="109.2" fill="none" stroke="#222" stroke-width="1.55"/>
<clipPath id="c22"><rect x="335.1" y="288.2" width="137.9" height="109.2"/></clipPath>
<g clip-path="url(#c22)"><path d="M340.8 392.3 L342.5 392.3 L342.5 388 L344.1 388 L344.1 383.8 L346.1 383.8 L346.1 377.1 L349.5 377.1 L349.5 366.3 L352.8 366.3 L352.8 358.3 L354.2 358.3 L354.2 353.6 L359.6 353.6 L359.6 343.5 L378.4 343.5 L378.4 328.7 L391.1 328.7 L391.1 319.3 L403.5 319.3 L403.5 308.5 L418.8 308.5 L418.8 293.7 L474 293.7 L474 364.4 L418 364.4 L418 369.8 L398 369.8 L398 372 L392 372 L392 376 L388 376 L388 379 L380 379 L380 382 L373 382 L373 384 L368 384 L368 386.5 L363 386.5 L363 388 L357 388 L357 389.5 L350 389.5 L350 390.5 L345 390.5 L345 392.3 L340.8 392.3 Z" fill="#edbcb1" style="mix-blend-mode:multiply"/><path d="M340.8 392.3 L343 392.3 L343 390 L347 390 L347 388 L353 388 L353 386 L358 386 L358 384 L363 384 L363 382 L368 382 L368 380 L373 380 L373 378.5 L380 378.5 L380 377.5 L388 377.5 L388 374 L391 374 L391 371 L395 371 L395 369.5 L399 369.5 L399 368 L418 368 L418 366.2 L433.3 366.2 L433.3 357.2 L474 357.2 L474 383.4 L404 383.4 L404 384.5 L398 384.5 L398 386 L391 386 L391 389 L380 389 L380 390.5 L367 390.5 L367 391.5 L357.5 391.5 L357.5 392.2 L349.5 392.2 L349.5 392.3 L340.8 392.3 Z" fill="#bec5df" style="mix-blend-mode:multiply"/><path d="M340.8 392.3 L343.4 392.3 L343.4 389.2 L344.7 389.2 L344.7 386.5 L346.8 386.5 L346.8 383.8 L348.8 383.8 L348.8 381.1 L350.8 381.1 L350.8 378.5 L352.8 378.5 L352.8 375.8 L354.8 375.8 L354.8 373.1 L356.2 373.1 L356.2 370.4 L357.5 370.4 L357.5 367.7 L358.9 367.7 L358.9 363 L377 363 L377 358.9 L380.4 358.9 L380.4 352.2 L391.9 352.2 L391.9 345.5 L403.5 345.5 L403.5 338.2 L419.6 338.2 L419.6 327.4 L474 327.4" fill="none" stroke="#ae1a38" stroke-width="1.1" stroke-linejoin="miter"/><path d="M340.8 392.3 L343 392.3 L343 391.5 L349.5 391.5 L349.5 391.2 L353.5 391.2 L353.5 389.9 L357.5 389.9 L357.5 388.5 L362.9 388.5 L362.9 387.2 L367.6 387.2 L367.6 385.2 L372.3 385.2 L372.3 383.8 L380.4 383.8 L380.4 383.2 L388.5 383.2 L388.5 381.1 L391.2 381.1 L391.2 378.5 L395.2 378.5 L395.2 377.1 L399.3 377.1 L399.3 375.4 L406 375.4 L406 374.4 L433.3 374.4 L433.3 368.9 L474 368.9" fill="none" stroke="#293562" stroke-width="1.1" stroke-linejoin="miter"/></g>
<rect x="335.1" y="288.2" width="137.9" height="109.2" fill="none" stroke="#222" stroke-width="1.55"/>
<clipPath id="c30"><rect x="42.9" y="406.9" width="137.4" height="108.9"/></clipPath>
<g clip-path="url(#c30)"><path d="M48.6 510.8 L51.08 510.8 L51.08 508.33 L52.92 508.33 L52.92 505.56 L54.77 505.56 L54.77 502.79 L56.62 502.79 L56.62 500.02 L58.83 500.02 L58.83 497.25 L61.05 497.25 L61.05 494.48 L63.26 494.48 L63.26 491.72 L65.48 491.72 L65.48 488.95 L67.69 488.95 L67.69 486.18 L70 486.18 L70 484.33 L72.31 484.33 L72.31 482.48 L74.62 482.48 L74.62 480.64 L76.92 480.64 L76.92 478.33 L79.23 478.33 L79.23 476.02 L81.54 476.02 L81.54 473.72 L83.85 473.72 L83.85 473.02 L86.15 473.02 L86.15 472.33 L88.46 472.33 L88.46 471.64 L90.77 471.64 L90.77 470.95 L93.08 470.95 L93.08 470.25 L95.38 470.25 L95.38 469.56 L97.69 469.56 L97.69 468.87 L100 468.87 L100 468.18 L102.31 468.18 L102.31 467.48 L104.62 467.48 L104.62 466.79 L106.92 466.79 L106.92 466.1 L109.23 466.1 L109.23 465.41 L111.54 465.41 L111.54 464.48 L113.85 464.48 L113.85 463.56 L116.15 463.56 L116.15 462.64 L118.46 462.64 L118.46 461.25 L120.77 461.25 L120.77 459.87 L123.08 459.87 L123.08 458.48 L125.38 458.48 L125.38 457.1 L127.69 457.1 L127.69 455.72 L130 455.72 L130 454.33 L132.31 454.33 L132.31 453.41 L134.62 453.41 L134.62 452.48 L136.92 452.48 L136.92 451.56 L139.14 451.56 L139.14 450.73 L141.35 450.73 L141.35 449.9 L143.57 449.9 L143.57 449.07 L145.78 449.07 L145.78 448.24 L148 448.24 L148 447.41 L148.69 447.41 L148.69 444.64 L149.38 444.64 L149.38 441.87 L150.08 441.87 L150.08 439.1 L150.77 439.1 L150.77 436.33 L152.85 436.33 L152.85 435.78 L154.92 435.78 L154.92 435.22 L157 435.22 L157 434.67 L159.08 434.67 L159.08 434.12 L161.15 434.12 L161.15 433.28 L163.23 433.28 L163.23 432.45 L165.31 432.45 L165.31 431.62 L167.38 431.62 L167.38 430.79 L169.46 430.79 L169.46 430.1 L171.54 430.1 L171.54 429.41 L173.62 429.41 L173.62 429.2 L175.69 429.2 L175.69 428.99 L177.77 428.99 L177.77 428.78 L179.85 428.78 L179.85 428.58 L181 428.58 L181 428.58 L181 457.1 L181 457.1 L179.85 457.1 L179.85 457.1 L177.77 457.1 L177.77 457.1 L175.69 457.1 L175.69 457.1 L173.62 457.1 L173.62 457.1 L171.54 457.1 L171.54 458.48 L169.46 458.48 L169.46 459.87 L167.38 459.87 L167.38 460.22 L165.31 460.22 L165.31 460.56 L163.23 460.56 L163.23 460.91 L161.15 460.91 L161.15 461.25 L159.08 461.25 L159.08 461.6 L157 461.6 L157 461.95 L154.92 461.95 L154.92 462.29 L152.85 462.29 L152.85 462.64 L150.77 462.64 L150.77 463.84 L148.46 463.84 L148.46 465.04 L146.15 465.04 L146.15 466.24 L143.85 466.24 L143.85 467.16 L141.54 467.16 L141.54 468.08 L139.23 468.08 L139.23 469.01 L136.92 469.01 L136.92 469.65 L134.62 469.65 L134.62 470.3 L132.31 470.3 L132.31 470.95 L130 470.95 L130 471.87 L127.69 471.87 L127.69 472.79 L125.38 472.79 L125.38 473.72 L123.08 473.72 L123.08 474.92 L120.77 474.92 L120.77 476.12 L118.46 476.12 L118.46 477.32 L116.15 477.32 L116.15 478.24 L113.85 478.24 L113.85 479.16 L111.54 479.16 L111.54 480.08 L109.23 480.08 L109.23 480.64 L106.92 480.64 L106.92 481.19 L104.62 481.19 L104.62 481.75 L102.31 481.75 L102.31 482.3 L100 482.3 L100 482.85 L97.69 482.85 L97.69 483.41 L95.38 483.41 L95.38 484.1 L93.08 484.1 L93.08 484.79 L90.77 484.79 L90.77 485.48 L88.46 485.48 L88.46 486.18 L86.15 486.18 L86.15 486.87 L83.85 486.87 L83.85 487.56 L81.54 487.56 L81.54 489.41 L79.23 489.41 L79.23 491.25 L76.92 491.25 L76.92 493.1 L74.62 493.1 L74.62 494.95 L72.31 494.95 L72.31 496.79 L70 496.79 L70 498.64 L67.69 498.64 L67.69 500.58 L65.48 500.58 L65.48 502.52 L63.26 502.52 L63.26 504.45 L61.05 504.45 L61.05 506.39 L58.83 506.39 L58.83 508.33 L56.62 508.33 L56.62 509.44 L54.77 509.44 L54.77 510.55 L52.92 510.55 L52.92 511.65 L51.08 511.65 L51.08 510.8 L48.6 510.8 Z" fill="#edbcb1" style="mix-blend-mode:multiply"/><path d="M48.6 510.8 L50.34 510.8 L50.34 509.98 L52.08 509.98 L52.08 509.15 L54.77 509.15 L54.77 508.01 L57.46 508.01 L57.46 506.87 L59.71 506.87 L59.71 505.97 L61.95 505.97 L61.95 505.07 L64.19 505.07 L64.19 504.17 L66.44 504.17 L66.44 503.28 L68.68 503.28 L68.68 502.38 L70.92 502.38 L70.92 501.48 L73.17 501.48 L73.17 500.58 L75.41 500.58 L75.41 499.69 L77.65 499.69 L77.65 498.79 L79.9 498.79 L79.9 497.89 L82.14 497.89 L82.14 496.99 L84.38 496.99 L84.38 496.1 L86.63 496.1 L86.63 495.42 L88.87 495.42 L88.87 494.75 L91.12 494.75 L91.12 494.08 L93.36 494.08 L93.36 493.4 L95.6 493.4 L95.6 492.73 L97.85 492.73 L97.85 492.06 L100.09 492.06 L100.09 491.15 L102.33 491.15 L102.33 490.25 L104.58 490.25 L104.58 489.34 L106.82 489.34 L106.82 488.43 L109.06 488.43 L109.06 487.53 L111.31 487.53 L111.31 486.62 L114.15 486.62 L114.15 484.62 L116.23 484.62 L116.23 484.05 L118.31 484.05 L118.31 483.47 L120.62 483.47 L120.62 482.58 L122.92 482.58 L122.92 481.68 L125.23 481.68 L125.23 480.79 L127.31 480.79 L127.31 480.1 L129.38 480.1 L129.38 479.41 L131.46 479.41 L131.46 478.72 L133.54 478.72 L133.54 478.02 L135.62 478.02 L135.62 477.16 L137.69 477.16 L137.69 476.29 L139.77 476.29 L139.77 475.43 L141.85 475.43 L141.85 474.56 L143.92 474.56 L143.92 474.39 L146 474.39 L146 474.22 L148.08 474.22 L148.08 474.04 L150.15 474.04 L150.15 473.87 L152.23 473.87 L152.23 473 L154.31 473 L154.31 472.14 L156.38 472.14 L156.38 471.27 L158.46 471.27 L158.46 470.41 L160.77 470.41 L160.77 469.25 L163.08 469.25 L163.08 468.1 L165.38 468.1 L165.38 466.95 L167.23 466.95 L167.23 466.02 L169.08 466.02 L169.08 465.1 L170.92 465.1 L170.92 464.18 L173 464.18 L173 463.66 L175.08 463.66 L175.08 463.14 L177.15 463.14 L177.15 462.62 L179.23 462.62 L179.23 462.1 L181 462.1 L181 462.1 L181 471.79 L181 471.79 L179.23 471.79 L179.23 472.14 L177.15 472.14 L177.15 472.48 L175.08 472.48 L175.08 472.83 L173 472.83 L173 473.18 L170.92 473.18 L170.92 473.87 L169.08 473.87 L169.08 474.56 L167.23 474.56 L167.23 475.25 L165.38 475.25 L165.38 475.95 L163.08 475.95 L163.08 476.64 L160.77 476.64 L160.77 477.33 L158.46 477.33 L158.46 478.02 L156.38 478.02 L156.38 478.72 L154.31 478.72 L154.31 479.41 L152.23 479.41 L152.23 480.1 L150.15 480.1 L150.15 480.45 L148.08 480.45 L148.08 480.79 L146 480.79 L146 481.14 L143.92 481.14 L143.92 481.48 L141.85 481.48 L141.85 482.18 L139.77 482.18 L139.77 482.87 L137.69 482.87 L137.69 483.56 L135.62 483.56 L135.62 484.25 L133.54 484.25 L133.54 484.95 L131.46 484.95 L131.46 485.64 L129.38 485.64 L129.38 486.33 L127.31 486.33 L127.31 487.02 L125.23 487.02 L125.23 487.92 L122.92 487.92 L122.92 488.81 L120.62 488.81 L120.62 489.7 L118.31 489.7 L118.31 490.28 L116.23 490.28 L116.23 490.86 L114.15 490.86 L114.15 491.33 L111.31 491.33 L111.31 491.95 L109.06 491.95 L109.06 492.56 L106.82 492.56 L106.82 493.18 L104.58 493.18 L104.58 493.79 L102.33 493.79 L102.33 494.4 L100.09 494.4 L100.09 495.02 L97.85 495.02 L97.85 495.69 L95.6 495.69 L95.6 496.37 L93.36 496.37 L93.36 497.04 L91.12 497.04 L91.12 497.71 L88.87 497.71 L88.87 498.38 L86.63 498.38 L86.63 499.06 L84.38 499.06 L84.38 499.91 L82.14 499.91 L82.14 500.76 L79.9 500.76 L79.9 501.62 L77.65 501.62 L77.65 502.47 L75.41 502.47 L75.41 503.32 L73.17 503.32 L73.17 504.17 L70.92 504.17 L70.92 504.91 L68.68 504.91 L68.68 505.65 L66.44 505.65 L66.44 506.39 L64.19 506.39 L64.19 507.13 L61.95 507.13 L61.95 507.88 L59.71 507.88 L59.71 508.62 L57.46 508.62 L57.46 509.42 L54.77 509.42 L54.77 510.23 L52.08 510.23 L52.08 510.52 L50.34 510.52 L50.34 510.8 L48.6 510.8 Z" fill="#bec5df" style="mix-blend-mode:multiply"/><path d="M48.6 510.8 L51.22 510.8 L51.22 508.18 L53.85 508.18 L53.85 505.56 L56.15 505.56 L56.15 503.25 L58.46 503.25 L58.46 500.95 L60.77 500.95 L60.77 498.64 L63.08 498.64 L63.08 496.33 L65.38 496.33 L65.38 494.02 L67.69 494.02 L67.69 491.72 L70 491.72 L70 489.87 L72.31 489.87 L72.31 488.02 L74.62 488.02 L74.62 486.18 L76.92 486.18 L76.92 483.87 L79.23 483.87 L79.23 481.56 L81.54 481.56 L81.54 479.25 L84.31 479.25 L84.31 477.87 L86.52 477.87 L86.52 477.43 L88.74 477.43 L88.74 476.98 L90.95 476.98 L90.95 476.54 L93.17 476.54 L93.17 476.1 L95.38 476.1 L95.38 475.65 L97.69 475.65 L97.69 475.01 L100 475.01 L100 474.36 L102.31 474.36 L102.31 473.72 L104.62 473.72 L104.62 473.07 L106.92 473.07 L106.92 472.42 L109.23 472.42 L109.23 471.78 L111.54 471.78 L111.54 471.04 L113.85 471.04 L113.85 470.3 L116.15 470.3 L116.15 469.56 L118.46 469.56 L118.46 468.45 L120.77 468.45 L120.77 467.35 L123.08 467.35 L123.08 466.24 L125.38 466.24 L125.38 465.04 L127.69 465.04 L127.69 463.84 L130 463.84 L130 462.64 L132.31 462.64 L132.31 461.72 L134.62 461.72 L134.62 460.79 L136.92 460.79 L136.92 459.87 L139.23 459.87 L139.23 458.95 L141.54 458.95 L141.54 458.02 L143.85 458.02 L143.85 457.1 L146.15 457.1 L146.15 455.99 L148.46 455.99 L148.46 454.88 L150.77 454.88 L150.77 453.78 L152.15 453.78 L152.15 451.28 L153.54 451.28 L153.54 448.79 L155.62 448.79 L155.62 448.45 L157.69 448.45 L157.69 448.1 L159.77 448.1 L159.77 447.75 L161.85 447.75 L161.85 447.41 L163.69 447.41 L163.69 446.95 L165.54 446.95 L165.54 446.48 L167.38 446.48 L167.38 446.02 L169.46 446.02 L169.46 443.95 L171.54 443.95 L171.54 441.87 L173.62 441.87 L173.62 441.87 L175.69 441.87 L175.69 441.87 L177.77 441.87 L177.77 441.87 L179.85 441.87 L179.85 441.87 L181 441.87 L181 441.87" fill="none" stroke="#ae1a38" stroke-width="1.1" stroke-linejoin="miter"/><path d="M48.6 510.8 L50.34 510.8 L50.34 510.18 L52.08 510.18 L52.08 509.56 L54.77 509.56 L54.77 508.55 L57.46 508.55 L57.46 507.54 L59.71 507.54 L59.71 506.87 L61.95 506.87 L61.95 506.19 L64.19 506.19 L64.19 505.52 L66.44 505.52 L66.44 504.62 L68.68 504.62 L68.68 503.72 L70.92 503.72 L70.92 502.83 L73.17 502.83 L73.17 501.93 L75.41 501.93 L75.41 501.03 L77.65 501.03 L77.65 500.13 L79.9 500.13 L79.9 499.24 L82.14 499.24 L82.14 498.34 L84.38 498.34 L84.38 497.44 L86.63 497.44 L86.63 496.54 L88.87 496.54 L88.87 495.65 L91.12 495.65 L91.12 494.75 L93.36 494.75 L93.36 494.3 L95.6 494.3 L95.6 493.85 L97.85 493.85 L97.85 493.4 L100.09 493.4 L100.09 492.81 L102.33 492.81 L102.33 492.23 L104.58 492.23 L104.58 491.64 L106.82 491.64 L106.82 490.86 L109.06 490.86 L109.06 490.09 L111.31 490.09 L111.31 489.31 L114.15 489.31 L114.15 487.67 L116.23 487.67 L116.23 486.95 L118.31 486.95 L118.31 486.24 L120.62 486.24 L120.62 485.35 L122.92 485.35 L122.92 484.45 L125.23 484.45 L125.23 483.56 L127.31 483.56 L127.31 482.87 L129.38 482.87 L129.38 482.18 L131.46 482.18 L131.46 481.48 L133.54 481.48 L133.54 480.79 L135.62 480.79 L135.62 479.93 L137.69 479.93 L137.69 479.06 L139.77 479.06 L139.77 478.2 L141.85 478.2 L141.85 477.33 L143.92 477.33 L143.92 477.33 L146 477.33 L146 477.33 L148.08 477.33 L148.08 477.33 L150.15 477.33 L150.15 477.33 L152.23 477.33 L152.23 476.47 L154.31 476.47 L154.31 475.6 L156.38 475.6 L156.38 474.73 L158.46 474.73 L158.46 473.87 L160.77 473.87 L160.77 472.95 L163.08 472.95 L163.08 472.02 L165.38 472.02 L165.38 471.1 L167.23 471.1 L167.23 470.18 L169.08 470.18 L169.08 469.25 L170.92 469.25 L170.92 468.33 L173 468.33 L173 468.16 L175.08 468.16 L175.08 467.98 L177.15 467.98 L177.15 467.81 L179.23 467.81 L179.23 467.64 L181 467.64 L181 467.64" fill="none" stroke="#293562" stroke-width="1.1" stroke-linejoin="miter"/></g>
<rect x="42.9" y="406.9" width="137.4" height="108.9" fill="none" stroke="#222" stroke-width="1.55"/>
<clipPath id="c31"><rect x="189.15" y="406.9" width="137.18" height="108.9"/></clipPath>
<g clip-path="url(#c31)"><path d="M194.85 510.8 L196.46 510.8 L196.46 508.51 L198.08 508.51 L198.08 506.22 L199.42 506.22 L199.42 503.39 L200.77 503.39 L200.77 500.56 L203.46 500.56 L203.46 497.2 L206.15 497.2 L206.15 493.83 L208.85 493.83 L208.85 491.81 L211.54 491.81 L211.54 489.79 L214.23 489.79 L214.23 487.44 L216.92 487.44 L216.92 485.08 L219.17 485.08 L219.17 483.51 L221.41 483.51 L221.41 481.94 L223.65 481.94 L223.65 480.37 L226.35 480.37 L226.35 477.34 L229.04 477.34 L229.04 474.31 L231.06 474.31 L231.06 473.81 L233.08 473.81 L233.08 473.3 L235.1 473.3 L235.1 472.8 L237.12 472.8 L237.12 472.29 L239.36 472.29 L239.36 471.84 L241.6 471.84 L241.6 471.39 L243.85 471.39 L243.85 470.95 L246.09 470.95 L246.09 470.27 L248.33 470.27 L248.33 469.6 L250.58 469.6 L250.58 468.93 L253.29 468.93 L253.29 465.86 L256 465.86 L256 462.79 L258.31 462.79 L258.31 461.64 L260.62 461.64 L260.62 460.48 L262.92 460.48 L262.92 459.33 L265.23 459.33 L265.23 458.41 L267.54 458.41 L267.54 457.48 L269.85 457.48 L269.85 456.56 L272.15 456.56 L272.15 456.1 L274.46 456.1 L274.46 455.64 L276.77 455.64 L276.77 455.18 L278.85 455.18 L278.85 454.14 L280.92 454.14 L280.92 453.1 L283.23 453.1 L283.23 452.18 L285.54 452.18 L285.54 451.25 L287.85 451.25 L287.85 450.33 L289.69 450.33 L289.69 448.95 L291.54 448.95 L291.54 447.56 L293.38 447.56 L293.38 446.18 L295.46 446.18 L295.46 443.41 L297.54 443.41 L297.54 440.64 L300.31 440.64 L300.31 437.87 L302.62 437.87 L302.62 436.95 L304.92 436.95 L304.92 436.02 L307.23 436.02 L307.23 435.1 L309.31 435.1 L309.31 433.72 L311.38 433.72 L311.38 432.33 L313.23 432.33 L313.23 431.18 L315.08 431.18 L315.08 430.02 L316.92 430.02 L316.92 428.87 L319 428.87 L319 428.7 L321.08 428.7 L321.08 428.52 L323.15 428.52 L323.15 428.35 L325.23 428.35 L325.23 428.18 L327.5 428.18 L327.5 428.18 L327.5 456.56 L327.5 456.56 L325.23 456.56 L325.23 456.73 L323.15 456.73 L323.15 456.91 L321.08 456.91 L321.08 457.08 L319 457.08 L319 457.25 L316.92 457.25 L316.92 457.72 L315.08 457.72 L315.08 458.18 L313.23 458.18 L313.23 458.64 L311.38 458.64 L311.38 458.98 L309.31 458.98 L309.31 459.33 L307.23 459.33 L307.23 459.56 L304.92 459.56 L304.92 459.79 L302.62 459.79 L302.62 460.02 L300.31 460.02 L300.31 461.41 L297.54 461.41 L297.54 462.79 L295.46 462.79 L295.46 464.18 L293.38 464.18 L293.38 464.87 L291.54 464.87 L291.54 465.56 L289.69 465.56 L289.69 466.25 L287.85 466.25 L287.85 467.18 L285.54 467.18 L285.54 468.1 L283.23 468.1 L283.23 469.02 L280.92 469.02 L280.92 470.06 L278.85 470.06 L278.85 471.1 L276.77 471.1 L276.77 471.56 L274.46 471.56 L274.46 472.02 L272.15 472.02 L272.15 472.48 L269.85 472.48 L269.85 473.41 L267.54 473.41 L267.54 474.33 L265.23 474.33 L265.23 475.25 L262.92 475.25 L262.92 476.64 L260.62 476.64 L260.62 478.02 L258.31 478.02 L258.31 479.41 L256 479.41 L256 480.23 L253.29 480.23 L253.29 481.04 L250.58 481.04 L250.58 481.72 L248.33 481.72 L248.33 482.39 L246.09 482.39 L246.09 483.06 L243.85 483.06 L243.85 483.51 L241.6 483.51 L241.6 483.96 L239.36 483.96 L239.36 484.41 L237.12 484.41 L237.12 484.74 L235.1 484.74 L235.1 485.08 L233.08 485.08 L233.08 485.42 L231.06 485.42 L231.06 485.75 L229.04 485.75 L229.04 488.78 L226.35 488.78 L226.35 491.81 L223.65 491.81 L223.65 493.16 L221.41 493.16 L221.41 494.5 L219.17 494.5 L219.17 495.85 L216.92 495.85 L216.92 497.53 L214.23 497.53 L214.23 499.22 L211.54 499.22 L211.54 500.56 L208.85 500.56 L208.85 501.91 L206.15 501.91 L206.15 503.93 L203.46 503.93 L203.46 505.95 L200.77 505.95 L200.77 508.44 L199.42 508.44 L199.42 510.93 L198.08 510.93 L198.08 510.8 L194.85 510.8 Z" fill="#edbcb1" style="mix-blend-mode:multiply"/><path d="M194.85 510.8 L197.14 510.8 L197.14 509.72 L199.42 509.72 L199.42 508.64 L201.44 508.64 L201.44 507.43 L203.46 507.43 L203.46 506.22 L205.71 506.22 L205.71 505 L207.95 505 L207.95 503.79 L210.19 503.79 L210.19 502.58 L212.44 502.58 L212.44 501.59 L214.68 501.59 L214.68 500.61 L216.92 500.61 L216.92 499.62 L219.17 499.62 L219.17 498.68 L221.41 498.68 L221.41 497.73 L223.65 497.73 L223.65 496.79 L225.9 496.79 L225.9 496.03 L228.14 496.03 L228.14 495.27 L230.38 495.27 L230.38 494.5 L232.63 494.5 L232.63 493.61 L234.87 493.61 L234.87 492.71 L237.12 492.71 L237.12 491.81 L239.36 491.81 L239.36 491.36 L241.6 491.36 L241.6 490.91 L243.85 490.91 L243.85 490.47 L246.09 490.47 L246.09 489.79 L248.33 489.79 L248.33 489.12 L250.58 489.12 L250.58 488.45 L253.29 488.45 L253.29 487.39 L256 487.39 L256 486.33 L258.31 486.33 L258.31 485.64 L260.62 485.64 L260.62 484.95 L262.92 484.95 L262.92 484.25 L265.23 484.25 L265.23 483.33 L267.54 483.33 L267.54 482.41 L269.85 482.41 L269.85 481.48 L272.15 481.48 L272.15 480.7 L274.46 480.7 L274.46 479.92 L276.77 479.92 L276.77 479.13 L279.08 479.13 L279.08 478.3 L281.38 478.3 L281.38 477.47 L283.69 477.47 L283.69 476.64 L285.54 476.64 L285.54 475.95 L287.38 475.95 L287.38 475.25 L289.23 475.25 L289.23 474.56 L291.54 474.56 L291.54 474.1 L293.85 474.1 L293.85 473.64 L296.15 473.64 L296.15 473.18 L298 473.18 L298 472.48 L299.85 472.48 L299.85 471.79 L301.69 471.79 L301.69 471.1 L303.54 471.1 L303.54 470.41 L305.38 470.41 L305.38 469.72 L307.23 469.72 L307.23 469.02 L309.31 469.02 L309.31 467.98 L311.38 467.98 L311.38 466.95 L313.46 466.95 L313.46 465.91 L315.54 465.91 L315.54 464.87 L317.38 464.87 L317.38 464.64 L319.23 464.64 L319.23 464.41 L321.08 464.41 L321.08 464.18 L323.15 464.18 L323.15 463.83 L325.23 463.83 L325.23 463.48 L327.5 463.48 L327.5 463.48 L327.5 472.48 L327.5 472.48 L325.23 472.48 L325.23 472.83 L323.15 472.83 L323.15 473.18 L321.08 473.18 L321.08 473.41 L319.23 473.41 L319.23 473.64 L317.38 473.64 L317.38 473.87 L315.54 473.87 L315.54 474.91 L313.46 474.91 L313.46 475.95 L311.38 475.95 L311.38 476.98 L309.31 476.98 L309.31 478.02 L307.23 478.02 L307.23 478.48 L305.38 478.48 L305.38 478.95 L303.54 478.95 L303.54 479.41 L301.69 479.41 L301.69 480.1 L299.85 480.1 L299.85 480.79 L298 480.79 L298 481.48 L296.15 481.48 L296.15 481.72 L293.85 481.72 L293.85 481.95 L291.54 481.95 L291.54 482.18 L289.23 482.18 L289.23 482.87 L287.38 482.87 L287.38 483.56 L285.54 483.56 L285.54 484.25 L283.69 484.25 L283.69 484.95 L281.38 484.95 L281.38 485.64 L279.08 485.64 L279.08 486.33 L276.77 486.33 L276.77 486.79 L274.46 486.79 L274.46 487.25 L272.15 487.25 L272.15 487.72 L269.85 487.72 L269.85 488.41 L267.54 488.41 L267.54 489.1 L265.23 489.1 L265.23 489.79 L262.92 489.79 L262.92 490.48 L260.62 490.48 L260.62 491.18 L258.31 491.18 L258.31 491.87 L256 491.87 L256 492.18 L253.29 492.18 L253.29 492.48 L250.58 492.48 L250.58 493.16 L248.33 493.16 L248.33 493.83 L246.09 493.83 L246.09 494.5 L243.85 494.5 L243.85 494.95 L241.6 494.95 L241.6 495.4 L239.36 495.4 L239.36 495.85 L237.12 495.85 L237.12 496.66 L234.87 496.66 L234.87 497.47 L232.63 497.47 L232.63 498.27 L230.38 498.27 L230.38 498.95 L228.14 498.95 L228.14 499.62 L225.9 499.62 L225.9 500.29 L223.65 500.29 L223.65 501.14 L221.41 501.14 L221.41 502 L219.17 502 L219.17 502.85 L216.92 502.85 L216.92 503.66 L214.68 503.66 L214.68 504.47 L212.44 504.47 L212.44 505.27 L210.19 505.27 L210.19 506.31 L207.95 506.31 L207.95 507.34 L205.71 507.34 L205.71 508.37 L203.46 508.37 L203.46 509.18 L201.44 509.18 L201.44 509.98 L199.42 509.98 L199.42 510.39 L197.14 510.39 L197.14 510.8 L194.85 510.8 Z" fill="#bec5df" style="mix-blend-mode:multiply"/><path d="M194.85 510.8 L196.82 510.8 L196.82 508.28 L198.8 508.28 L198.8 505.77 L200.77 505.77 L200.77 503.25 L203.46 503.25 L203.46 500.56 L206.15 500.56 L206.15 497.87 L208.17 497.87 L208.17 496.52 L210.19 496.52 L210.19 495.18 L212.44 495.18 L212.44 493.61 L214.68 493.61 L214.68 492.04 L216.92 492.04 L216.92 490.47 L219.62 490.47 L219.62 488.78 L222.31 488.78 L222.31 487.1 L224.33 487.1 L224.33 485.08 L226.35 485.08 L226.35 483.06 L229.04 483.06 L229.04 479.02 L231.06 479.02 L231.06 478.85 L233.08 478.85 L233.08 478.69 L235.1 478.69 L235.1 478.52 L237.12 478.52 L237.12 478.35 L239.36 478.35 L239.36 478.13 L241.6 478.13 L241.6 477.9 L243.85 477.9 L243.85 477.68 L246.09 477.68 L246.09 476.78 L248.33 476.78 L248.33 475.88 L250.58 475.88 L250.58 474.98 L253.29 474.98 L253.29 473.73 L256 473.73 L256 472.48 L258.31 472.48 L258.31 471.1 L260.62 471.1 L260.62 469.72 L262.92 469.72 L262.92 468.33 L265.23 468.33 L265.23 466.95 L267.54 466.95 L267.54 465.56 L269.85 465.56 L269.85 464.18 L272.15 464.18 L272.15 463.72 L274.46 463.72 L274.46 463.25 L276.77 463.25 L276.77 462.79 L278.85 462.79 L278.85 462.1 L280.92 462.1 L280.92 461.41 L283.23 461.41 L283.23 460.72 L285.54 460.72 L285.54 460.02 L287.85 460.02 L287.85 459.33 L289.69 459.33 L289.69 458.18 L291.54 458.18 L291.54 457.02 L293.38 457.02 L293.38 455.87 L295.46 455.87 L295.46 453.79 L297.54 453.79 L297.54 451.72 L300.31 451.72 L300.31 449.64 L302.62 449.64 L302.62 449.18 L304.92 449.18 L304.92 448.72 L307.23 448.72 L307.23 448.25 L309.31 448.25 L309.31 447.22 L311.38 447.22 L311.38 446.18 L313.23 446.18 L313.23 445.48 L315.08 445.48 L315.08 444.79 L316.92 444.79 L316.92 444.1 L318.31 444.1 L318.31 441.33 L320.62 441.33 L320.62 441.33 L322.92 441.33 L322.92 441.33 L325.23 441.33 L325.23 441.33 L327.5 441.33 L327.5 441.33" fill="none" stroke="#ae1a38" stroke-width="1.1" stroke-linejoin="miter"/><path d="M194.85 510.8 L197.14 510.8 L197.14 510.06 L199.42 510.06 L199.42 509.31 L201.44 509.31 L201.44 508.3 L203.46 508.3 L203.46 507.29 L205.71 507.29 L205.71 506.17 L207.95 506.17 L207.95 505.05 L210.19 505.05 L210.19 503.93 L212.44 503.93 L212.44 503.03 L214.68 503.03 L214.68 502.13 L216.92 502.13 L216.92 501.23 L219.17 501.23 L219.17 500.34 L221.41 500.34 L221.41 499.44 L223.65 499.44 L223.65 498.54 L225.9 498.54 L225.9 497.87 L228.14 497.87 L228.14 497.2 L230.38 497.2 L230.38 496.52 L232.63 496.52 L232.63 495.63 L234.87 495.63 L234.87 494.73 L237.12 494.73 L237.12 493.83 L239.36 493.83 L239.36 493.38 L241.6 493.38 L241.6 492.93 L243.85 492.93 L243.85 492.48 L246.09 492.48 L246.09 491.81 L248.33 491.81 L248.33 491.14 L250.58 491.14 L250.58 490.47 L253.29 490.47 L253.29 489.78 L256 489.78 L256 489.1 L258.31 489.1 L258.31 488.41 L260.62 488.41 L260.62 487.72 L262.92 487.72 L262.92 487.02 L265.23 487.02 L265.23 486.33 L267.54 486.33 L267.54 485.64 L269.85 485.64 L269.85 484.95 L272.15 484.95 L272.15 484.25 L274.46 484.25 L274.46 483.56 L276.77 483.56 L276.77 482.87 L279.08 482.87 L279.08 482.18 L281.38 482.18 L281.38 481.48 L283.69 481.48 L283.69 480.79 L285.54 480.79 L285.54 479.87 L287.38 479.87 L287.38 478.95 L289.23 478.95 L289.23 478.02 L291.54 478.02 L291.54 477.79 L293.85 477.79 L293.85 477.56 L296.15 477.56 L296.15 477.33 L298 477.33 L298 476.64 L299.85 476.64 L299.85 475.95 L301.69 475.95 L301.69 475.25 L303.54 475.25 L303.54 474.79 L305.38 474.79 L305.38 474.33 L307.23 474.33 L307.23 473.87 L309.31 473.87 L309.31 472.83 L311.38 472.83 L311.38 471.79 L313.46 471.79 L313.46 470.75 L315.54 470.75 L315.54 469.72 L317.38 469.72 L317.38 469.48 L319.23 469.48 L319.23 469.25 L321.08 469.25 L321.08 469.02 L323.15 469.02 L323.15 468.82 L325.23 468.82 L325.23 468.61 L327.5 468.61 L327.5 468.61" fill="none" stroke="#293562" stroke-width="1.1" stroke-linejoin="miter"/></g>
<rect x="189.15" y="406.9" width="137.18" height="108.9" fill="none" stroke="#222" stroke-width="1.55"/>
<clipPath id="c32"><rect x="335.1" y="406.9" width="137.9" height="108.9"/></clipPath>
<g clip-path="url(#c32)"><path d="M340.8 510.8 L341.5 510.8 L341.5 500 L343 500 L343 490 L344.1 490 L344.1 483.3 L356.2 483.3 L356.2 475.2 L358.9 475.2 L358.9 470.5 L365.6 470.5 L365.6 466.4 L370.3 466.4 L370.3 456.3 L384.5 456.3 L384.5 450.3 L389.8 450.3 L389.8 444.5 L413.1 444.5 L413.1 432.3 L441.5 432.3 L441.5 411.5 L474 411.5 L474 481.9 L456 481.9 L456 483.5 L447.7 483.5 L447.7 485.6 L422.8 485.6 L422.8 487.7 L410 487.7 L410 489.5 L402 489.5 L402 493.4 L396.6 493.4 L396.6 495.4 L389.8 495.4 L389.8 497.4 L383.1 497.4 L383.1 500.1 L376.4 500.1 L376.4 502.1 L369.6 502.1 L369.6 504.8 L362.9 504.8 L362.9 506.1 L356.2 506.1 L356.2 507.5 L349.5 507.5 L349.5 510.8 L340.8 510.8 Z" fill="#edbcb1" style="mix-blend-mode:multiply"/><path d="M340.8 510.8 L343 510.8 L343 507.5 L349.5 507.5 L349.5 503.4 L356.2 503.4 L356.2 499.4 L362.9 499.4 L362.9 496 L369.6 496 L369.6 492.7 L376.4 492.7 L376.4 488.6 L383.1 488.6 L383.1 486 L389.8 486 L389.8 483.3 L396.6 483.3 L396.6 481.9 L402 481.9 L402 478 L408.9 478 L408.9 473.8 L415.8 473.8 L415.8 466.9 L422.8 466.9 L422.8 462.8 L447.7 462.8 L447.7 446.2 L456 446.2 L456 439.2 L464.3 439.2 L464.3 432.3 L467.1 432.3 L467.1 428.2 L474 428.2 L474 482.2 L456 482.2 L456 484.2 L447.7 484.2 L447.7 486.3 L422.8 486.3 L422.8 490.5 L415.8 490.5 L415.8 494.6 L402 494.6 L402 498.7 L396.6 498.7 L396.6 500.8 L389.8 500.8 L389.8 504.1 L376.4 504.1 L376.4 507.5 L362.9 507.5 L362.9 509.5 L349.5 509.5 L349.5 510.8 L340.8 510.8 Z" fill="#bec5df" style="mix-blend-mode:multiply"/><path d="M340.8 510.8 L341.6 510.8 L341.6 506 L344.1 506 L344.1 500.8 L346.1 500.8 L346.1 496 L356.2 496 L356.2 490 L358.9 490 L358.9 486 L367 486 L367 483.3 L368.3 483.3 L368.3 479.2 L371.7 479.2 L371.7 475.2 L387.8 475.2 L387.8 470.5 L389.8 470.5 L389.8 466.4 L414.5 466.4 L414.5 457.5 L444.2 457.5 L444.2 445.2 L474 445.2" fill="none" stroke="#ae1a38" stroke-width="1.1" stroke-linejoin="miter"/><path d="M340.8 510.8 L342.5 510.8 L342.5 509.5 L345 509.5 L345 508.3 L349.5 508.3 L349.5 506.1 L353 506.1 L353 504.5 L356.2 504.5 L356.2 503.4 L359.5 503.4 L359.5 502.4 L362.9 502.4 L362.9 501.4 L366 501.4 L366 500 L369.6 500 L369.6 498.7 L373 498.7 L373 497.4 L376.4 497.4 L376.4 496 L380 496 L380 494.3 L383.1 494.3 L383.1 492.7 L386.5 492.7 L386.5 491.3 L389.8 491.3 L389.8 490 L396.6 490 L396.6 488.6 L403.3 488.6 L403.3 486.6 L406.2 486.6 L406.2 485.6 L410.3 485.6 L410.3 482.2 L415.8 482.2 L415.8 479.4 L422.8 479.4 L422.8 476.6 L424.2 476.6 L424.2 473.8 L447.7 473.8 L447.7 465.5 L458.1 465.5 L458.1 458.6 L467.1 458.6 L467.1 451.7 L474 451.7" fill="none" stroke="#293562" stroke-width="1.1" stroke-linejoin="miter"/></g>
<rect x="335.1" y="406.9" width="137.9" height="108.9" fill="none" stroke="#222" stroke-width="1.55"/>
<clipPath id="c40"><rect x="42.9" y="525.5" width="137.4" height="108.9"/></clipPath>
<g clip-path="url(#c40)"><path d="M48.6 629.3 L51.7 629.3 L51.7 625.4 L54.8 625.4 L54.8 621.5 L57.2 621.5 L57.2 618.65 L59.6 618.65 L59.6 615.8 L62 615.8 L62 613.6 L64.4 613.6 L64.4 611.4 L66.8 611.4 L66.8 609.75 L69.2 609.75 L69.2 608.1 L71.6 608.1 L71.6 606.15 L74 606.15 L74 604.2 L76.4 604.2 L76.4 602.3 L78.8 602.3 L78.8 600.4 L81.25 600.4 L81.25 598.45 L83.7 598.45 L83.7 596.5 L86.1 596.5 L86.1 595.1 L88.5 595.1 L88.5 593.7 L90.9 593.7 L90.9 592.7 L93.3 592.7 L93.3 591.7 L95.7 591.7 L95.7 590.5 L98.1 590.5 L98.1 589.3 L101.05 589.3 L101.05 586.65 L104 586.65 L104 584 L106.5 584 L106.5 581.5 L109 581.5 L109 579 L111.6 579 L111.6 575.85 L114.2 575.85 L114.2 572.7 L116.95 572.7 L116.95 570.6 L119.7 570.6 L119.7 568.5 L122.47 568.5 L122.47 566.9 L125.23 566.9 L125.23 565.3 L128 565.3 L128 563.7 L131.45 563.7 L131.45 561.25 L134.9 561.25 L134.9 558.8 L137.67 558.8 L137.67 557.67 L140.43 557.67 L140.43 556.53 L143.2 556.53 L143.2 555.4 L147.4 555.4 L147.4 551.2 L150.15 551.2 L150.15 549.5 L152.9 549.5 L152.9 547.8 L156.02 547.8 L156.02 547.8 L159.14 547.8 L159.14 547.8 L162.27 547.8 L162.27 547.8 L165.39 547.8 L165.39 547.8 L168.51 547.8 L168.51 547.8 L171.63 547.8 L171.63 547.8 L174.76 547.8 L174.76 547.8 L177.88 547.8 L177.88 547.8 L181 547.8 L181 547.8 L181 580.8 L181 580.8 L177.9 580.8 L177.9 580.8 L174.8 580.8 L174.8 580.8 L171.7 580.8 L171.7 580.8 L168.6 580.8 L168.6 580.8 L165.5 580.8 L165.5 580.8 L162.4 580.8 L162.4 580.8 L159.3 580.8 L159.3 580.8 L156.2 580.8 L156.2 580.8 L153.1 580.8 L153.1 581.6 L150.65 581.6 L150.65 582.4 L148.2 582.4 L148.2 583.6 L144.1 583.6 L144.1 585.15 L141.3 585.15 L141.3 586.7 L138.5 586.7 L138.5 588 L135.27 588 L135.27 589.3 L132.03 589.3 L132.03 590.6 L128.8 590.6 L128.8 592.2 L125.6 592.2 L125.6 593.8 L122.4 593.8 L122.4 595.4 L119.2 595.4 L119.2 597.33 L116 597.33 L116 599.27 L112.8 599.27 L112.8 601.2 L109.6 601.2 L109.6 602.8 L106.4 602.8 L106.4 604.4 L103.2 604.4 L103.2 606 L100 606 L100 604.2 L98.1 604.2 L98.1 605.2 L95.7 605.2 L95.7 606.2 L93.3 606.2 L93.3 607.15 L90.9 607.15 L90.9 608.1 L88.5 608.1 L88.5 609.55 L86.1 609.55 L86.1 611 L83.7 611 L83.7 612.4 L81.25 612.4 L81.25 613.8 L78.8 613.8 L78.8 614.8 L76.4 614.8 L76.4 615.8 L74 615.8 L74 617.25 L71.6 617.25 L71.6 618.7 L69.2 618.7 L69.2 619.9 L66.8 619.9 L66.8 621.1 L64.4 621.1 L64.4 622.75 L62 622.75 L62 624.4 L59.6 624.4 L59.6 625.85 L57.2 625.85 L57.2 627.3 L54.8 627.3 L54.8 628.3 L51.7 628.3 L51.7 629.3 L48.6 629.3 Z" fill="#edbcb1" style="mix-blend-mode:multiply"/><path d="M48.6 629.3 L50 629.3 L50 628.5 L52.4 628.5 L52.4 627.3 L54.8 627.3 L54.8 626.1 L57.2 626.1 L57.2 625.1 L59.6 625.1 L59.6 624.1 L62 624.1 L62 623.3 L64.4 623.3 L64.4 622.5 L66.8 622.5 L66.8 621.7 L69.2 621.7 L69.2 620.9 L71.6 620.9 L71.6 620.1 L74 620.1 L74 619.3 L76.4 619.3 L76.4 618.45 L78.8 618.45 L78.8 617.6 L81.25 617.6 L81.25 616.8 L83.7 616.8 L83.7 616 L86.1 616 L86.1 615.15 L88.5 615.15 L88.5 614.3 L90.9 614.3 L90.9 613.55 L93.3 613.55 L93.3 612.8 L95.7 612.8 L95.7 612.05 L98.1 612.05 L98.1 611.3 L100 611.3 L100 610.8 L103.2 610.8 L103.2 608.87 L106.4 608.87 L106.4 606.93 L109.6 606.93 L109.6 605 L112.8 605 L112.8 603.87 L116 603.87 L116 602.73 L119.2 602.73 L119.2 601.6 L122.4 601.6 L122.4 599.83 L125.6 599.83 L125.6 598.07 L128.8 598.07 L128.8 596.3 L132.03 596.3 L132.03 595.67 L135.27 595.67 L135.27 595.03 L138.5 595.03 L138.5 594.4 L141.73 594.4 L141.73 593.97 L144.97 593.97 L144.97 593.53 L148.2 593.53 L148.2 593.1 L151.27 593.1 L151.27 592.88 L154.35 592.88 L154.35 592.65 L157.43 592.65 L157.43 592.43 L160.5 592.43 L160.5 592.2 L164.2 592.2 L164.2 591.4 L167.9 591.4 L167.9 590.6 L169.5 590.6 L169.5 587.7 L172.23 587.7 L172.23 587.03 L174.97 587.03 L174.97 586.37 L177.7 586.37 L177.7 585.7 L181 585.7 L181 585.7 L181 599.2 L181 599.2 L178.6 599.2 L178.6 599.33 L175.57 599.33 L175.57 599.47 L172.53 599.47 L172.53 599.6 L169.5 599.6 L169.5 602.5 L168.7 602.5 L168.7 602.5 L165.97 602.5 L165.97 602.5 L163.23 602.5 L163.23 602.5 L160.5 602.5 L160.5 602.6 L157.43 602.6 L157.43 602.7 L154.35 602.7 L154.35 602.8 L151.27 602.8 L151.27 602.9 L148.2 602.9 L148.2 602.97 L144.97 602.97 L144.97 603.03 L141.73 603.03 L141.73 603.1 L138.5 603.1 L138.5 603.57 L135.27 603.57 L135.27 604.03 L132.03 604.03 L132.03 604.5 L128.8 604.5 L128.8 605.47 L125.6 605.47 L125.6 606.43 L122.4 606.43 L122.4 607.4 L119.2 607.4 L119.2 608.83 L116 608.83 L116 610.27 L112.8 610.27 L112.8 611.7 L109.6 611.7 L109.6 613.13 L106.4 613.13 L106.4 614.57 L103.2 614.57 L103.2 616 L100 616 L100 616.6 L98.1 616.6 L98.1 617.25 L95.7 617.25 L95.7 617.9 L93.3 617.9 L93.3 618.5 L90.9 618.5 L90.9 619.1 L88.5 619.1 L88.5 619.75 L86.1 619.75 L86.1 620.4 L83.7 620.4 L83.7 621 L81.25 621 L81.25 621.6 L78.8 621.6 L78.8 622.25 L76.4 622.25 L76.4 622.9 L74 622.9 L74 623.5 L71.6 623.5 L71.6 624.1 L69.2 624.1 L69.2 624.7 L66.8 624.7 L66.8 625.3 L64.4 625.3 L64.4 625.95 L62 625.95 L62 626.6 L59.6 626.6 L59.6 627.45 L57.2 627.45 L57.2 628.3 L54.8 628.3 L54.8 628.95 L52.4 628.95 L52.4 629.6 L50 629.6 L50 629.3 L48.6 629.3 Z" fill="#bec5df" style="mix-blend-mode:multiply"/><path d="M48.6 629.3 L50 629.3 L50 627.8 L52.4 627.8 L52.4 626.1 L54.8 626.1 L54.8 624.4 L57.2 624.4 L57.2 622.5 L59.6 622.5 L59.6 620.6 L62 620.6 L62 618.65 L64.4 618.65 L64.4 616.7 L66.8 616.7 L66.8 615.05 L69.2 615.05 L69.2 613.4 L71.6 613.4 L71.6 611.7 L74 611.7 L74 610 L76.4 610 L76.4 609.05 L78.8 609.05 L78.8 608.1 L81.25 608.1 L81.25 605.95 L83.7 605.95 L83.7 603.8 L86.1 603.8 L86.1 602.55 L88.5 602.55 L88.5 601.3 L90.9 601.3 L90.9 600.35 L93.3 600.35 L93.3 599.4 L95.7 599.4 L95.7 598.45 L98.1 598.45 L98.1 597.5 L100 597.5 L100 595.9 L102.4 595.9 L102.4 594.7 L104.8 594.7 L104.8 593.5 L107.2 593.5 L107.2 591.55 L109.6 591.55 L109.6 589.6 L112 589.6 L112 587.7 L114.4 587.7 L114.4 585.8 L116.8 585.8 L116.8 583.85 L119.2 583.85 L119.2 581.9 L121.6 581.9 L121.6 580.45 L124 580.45 L124 579 L128 579 L128 576.5 L130.5 576.5 L130.5 575.5 L133 575.5 L133 574.5 L136.5 574.5 L136.5 573.1 L140 573.1 L140 571.7 L142.5 571.7 L142.5 569.3 L146.6 569.3 L146.6 567.2 L148.2 567.2 L148.2 566.4 L150.65 566.4 L150.65 566.2 L153.1 566.2 L153.1 566 L153.9 566 L153.9 563.1 L156.91 563.1 L156.91 563.1 L159.92 563.1 L159.92 563.1 L162.93 563.1 L162.93 563.1 L165.94 563.1 L165.94 563.1 L168.96 563.1 L168.96 563.1 L171.97 563.1 L171.97 563.1 L174.98 563.1 L174.98 563.1 L177.99 563.1 L177.99 563.1 L181 563.1 L181 563.1" fill="none" stroke="#ae1a38" stroke-width="1.1" stroke-linejoin="miter"/><path d="M48.6 629.3 L50 629.3 L50 629.2 L52.4 629.2 L52.4 628.25 L54.8 628.25 L54.8 627.3 L57.2 627.3 L57.2 626.35 L59.6 626.35 L59.6 625.4 L62 625.4 L62 624.65 L64.4 624.65 L64.4 623.9 L66.8 623.9 L66.8 623.2 L69.2 623.2 L69.2 622.5 L71.6 622.5 L71.6 621.8 L74 621.8 L74 621.1 L76.4 621.1 L76.4 620.35 L78.8 620.35 L78.8 619.6 L81.25 619.6 L81.25 618.9 L83.7 618.9 L83.7 618.2 L86.1 618.2 L86.1 617.45 L88.5 617.45 L88.5 616.7 L90.9 616.7 L90.9 616 L93.3 616 L93.3 615.3 L95.7 615.3 L95.7 614.55 L98.1 614.55 L98.1 613.8 L101.45 613.8 L101.45 613.25 L104.8 613.25 L104.8 612.7 L107.2 612.7 L107.2 610.75 L109.6 610.75 L109.6 608.8 L112 608.8 L112 607.4 L114.4 607.4 L114.4 606 L116.8 606 L116.8 605 L119.2 605 L119.2 604 L121.6 604 L121.6 603.55 L124 603.55 L124 603.1 L126.4 603.1 L126.4 602.15 L128.8 602.15 L128.8 601.2 L131.25 601.2 L131.25 600.2 L133.7 600.2 L133.7 599.2 L136.85 599.2 L136.85 599.4 L140 599.4 L140 599.6 L142.73 599.6 L142.73 599.2 L145.47 599.2 L145.47 598.8 L148.2 598.8 L148.2 598.4 L150.93 598.4 L150.93 598.27 L153.67 598.27 L153.67 598.13 L156.4 598.13 L156.4 598 L158.85 598 L158.85 597.8 L161.3 597.8 L161.3 597.6 L164.6 597.6 L164.6 597.2 L167.9 597.2 L167.9 596.8 L169.5 596.8 L169.5 594.3 L172.23 594.3 L172.23 593.6 L174.97 593.6 L174.97 592.9 L177.7 592.9 L177.7 592.2 L178.6 592.2 L178.6 591.8 L181 591.8 L181 591.8" fill="none" stroke="#293562" stroke-width="1.1" stroke-linejoin="miter"/></g>
<rect x="42.9" y="525.5" width="137.4" height="108.9" fill="none" stroke="#222" stroke-width="1.55"/>
<clipPath id="c41"><rect x="189.15" y="525.5" width="137.18" height="108.9"/></clipPath>
<g clip-path="url(#c41)"><path d="M194.85 629.3 L198.08 629.3 L198.08 625.69 L200.77 625.69 L200.77 623 L203.46 623 L203.46 620.31 L206.15 620.31 L206.15 617.62 L208.85 617.62 L208.85 614.92 L211.54 614.92 L211.54 612.23 L214.23 612.23 L214.23 609.54 L216.92 609.54 L216.92 606.85 L219.62 606.85 L219.62 604.15 L222.31 604.15 L222.31 602.13 L225 602.13 L225 600.12 L229.04 600.12 L229.04 594.73 L231.73 594.73 L231.73 594.06 L234.42 594.06 L234.42 593.38 L237.12 593.38 L237.12 592.71 L239.81 592.71 L239.81 592.04 L243.85 592.04 L243.85 588.67 L246.54 588.67 L246.54 587.66 L249.23 587.66 L249.23 586.65 L253.46 586.65 L253.46 583.67 L256.15 583.67 L256.15 578.96 L260.19 578.96 L260.19 574.25 L262.88 574.25 L262.88 571.89 L265.58 571.89 L265.58 569.54 L267.93 569.54 L267.93 568.19 L270.29 568.19 L270.29 566.85 L272.95 566.85 L272.95 564.72 L275.61 564.72 L275.61 562.6 L278.26 562.6 L278.26 560.47 L280.92 560.47 L280.92 558.35 L284.38 558.35 L284.38 555.92 L287.85 555.92 L287.85 553.5 L290.62 553.5 L290.62 551.08 L293.38 551.08 L293.38 548.65 L296.15 548.65 L296.15 546.23 L298.92 546.23 L298.92 543.81 L301.85 543.81 L301.85 543.73 L304.77 543.73 L304.77 543.65 L307.69 543.65 L307.69 543.58 L310.62 543.58 L310.62 543.5 L313.54 543.5 L313.54 543.42 L316.46 543.42 L316.46 543.35 L319.38 543.35 L319.38 543.27 L322.31 543.27 L322.31 543.19 L325.23 543.19 L325.23 543.12 L327.5 543.12 L327.5 543.12 L327.5 580.5 L327.5 580.5 L325.23 580.5 L325.23 580.58 L322.31 580.58 L322.31 580.65 L319.38 580.65 L319.38 580.73 L316.46 580.73 L316.46 580.81 L313.54 580.81 L313.54 580.88 L310.62 580.88 L310.62 580.96 L307.69 580.96 L307.69 581.04 L304.77 581.04 L304.77 581.12 L301.85 581.12 L301.85 581.19 L298.92 581.19 L298.92 581.88 L296.15 581.88 L296.15 582.58 L293.38 582.58 L293.38 583.62 L290.62 583.62 L290.62 584.65 L287.85 584.65 L287.85 586.38 L284.38 586.38 L284.38 588.12 L280.92 588.12 L280.92 589.6 L277.96 589.6 L277.96 591.08 L275 591.08 L275 591.75 L272.64 591.75 L272.64 592.42 L270.29 592.42 L270.29 593.1 L267.93 593.1 L267.93 593.77 L265.58 593.77 L265.58 594.78 L262.88 594.78 L262.88 595.79 L260.19 595.79 L260.19 600.5 L256.15 600.5 L256.15 603.19 L253.46 603.19 L253.46 602.13 L249.23 602.13 L249.23 603.14 L246.54 603.14 L246.54 604.15 L243.85 604.15 L243.85 605.5 L239.81 605.5 L239.81 606.17 L237.12 606.17 L237.12 606.85 L234.42 606.85 L234.42 607.18 L231.73 607.18 L231.73 607.52 L229.04 607.52 L229.04 611.56 L225 611.56 L225 613.24 L222.31 613.24 L222.31 614.92 L219.62 614.92 L219.62 616.61 L216.92 616.61 L216.92 618.29 L214.23 618.29 L214.23 620.31 L211.54 620.31 L211.54 622.33 L208.85 622.33 L208.85 624.01 L206.15 624.01 L206.15 625.69 L203.46 625.69 L203.46 627.38 L200.77 627.38 L200.77 629.06 L198.08 629.06 L198.08 629.3 L194.85 629.3 Z" fill="#edbcb1" style="mix-blend-mode:multiply"/><path d="M194.85 629.3 L197.81 629.3 L197.81 628.57 L200.77 628.57 L200.77 627.84 L203.46 627.84 L203.46 626.83 L206.15 626.83 L206.15 625.82 L208.85 625.82 L208.85 624.81 L211.54 624.81 L211.54 623.8 L214.23 623.8 L214.23 622.99 L216.92 622.99 L216.92 622.18 L220.29 622.18 L220.29 620.97 L223.65 620.97 L223.65 619.76 L227.02 619.76 L227.02 618.62 L230.38 618.62 L230.38 617.47 L233.75 617.47 L233.75 616.6 L237.12 616.6 L237.12 615.72 L240.48 615.72 L240.48 615.05 L243.85 615.05 L243.85 614.38 L247.21 614.38 L247.21 613.7 L250.58 613.7 L250.58 613.03 L254.62 613.03 L254.62 610.34 L256 610.34 L256 608.3 L259.46 608.3 L259.46 606.22 L262.92 606.22 L262.92 604.15 L266.38 604.15 L266.38 602.76 L269.85 602.76 L269.85 601.38 L273.31 601.38 L273.31 599.99 L276.77 599.99 L276.77 598.61 L279.54 598.61 L279.54 597.22 L282.31 597.22 L282.31 595.84 L285.08 595.84 L285.08 595.61 L287.85 595.61 L287.85 595.38 L290.62 595.38 L290.62 595.15 L294.08 595.15 L294.08 594.66 L297.54 594.66 L297.54 594.18 L300.31 594.18 L300.31 593.9 L303.08 593.9 L303.08 593.62 L305.85 593.62 L305.85 593.35 L308.62 593.35 L308.62 593.07 L312.08 593.07 L312.08 590.99 L315.54 590.99 L315.54 588.92 L318.31 588.92 L318.31 587.88 L321.08 587.88 L321.08 586.84 L325.23 586.84 L325.23 585.45 L327.5 585.45 L327.5 585.45 L327.5 599.3 L327.5 599.3 L325.23 599.3 L325.23 599.99 L321.08 599.99 L321.08 600.68 L318.31 600.68 L318.31 601.38 L315.54 601.38 L315.54 602.42 L312.08 602.42 L312.08 603.45 L308.62 603.45 L308.62 603.56 L305.85 603.56 L305.85 603.66 L303.08 603.66 L303.08 603.77 L300.31 603.77 L300.31 603.87 L297.54 603.87 L297.54 604.01 L294.08 604.01 L294.08 604.15 L290.62 604.15 L290.62 604.15 L287.85 604.15 L287.85 604.15 L285.08 604.15 L285.08 604.15 L282.31 604.15 L282.31 605.18 L279.54 605.18 L279.54 606.22 L276.77 606.22 L276.77 607.61 L273.31 607.61 L273.31 608.99 L269.85 608.99 L269.85 610.38 L266.38 610.38 L266.38 611.76 L262.92 611.76 L262.92 613.49 L259.46 613.49 L259.46 615.22 L256 615.22 L256 615.72 L254.62 615.72 L254.62 617.07 L250.58 617.07 L250.58 617.74 L247.21 617.74 L247.21 618.42 L243.85 618.42 L243.85 618.95 L240.48 618.95 L240.48 619.49 L237.12 619.49 L237.12 620.17 L233.75 620.17 L233.75 620.84 L230.38 620.84 L230.38 621.65 L227.02 621.65 L227.02 622.45 L223.65 622.45 L223.65 623.46 L220.29 623.46 L220.29 624.47 L216.92 624.47 L216.92 625.35 L214.23 625.35 L214.23 626.22 L211.54 626.22 L211.54 627.03 L208.85 627.03 L208.85 627.84 L206.15 627.84 L206.15 628.65 L203.46 628.65 L203.46 629.45 L200.77 629.45 L200.77 629.38 L197.81 629.38 L197.81 629.3 L194.85 629.3 Z" fill="#bec5df" style="mix-blend-mode:multiply"/><path d="M194.85 629.3 L197.81 629.3 L197.81 627.16 L200.77 627.16 L200.77 625.02 L203.46 625.02 L203.46 622.66 L206.15 622.66 L206.15 620.31 L208.85 620.31 L208.85 617.95 L211.54 617.95 L211.54 615.6 L214.23 615.6 L214.23 613.58 L216.92 613.58 L216.92 611.56 L220.29 611.56 L220.29 609.54 L223.65 609.54 L223.65 607.52 L226.35 607.52 L226.35 605.16 L229.04 605.16 L229.04 602.81 L231.73 602.81 L231.73 602.47 L234.42 602.47 L234.42 602.13 L237.12 602.13 L237.12 601.46 L239.81 601.46 L239.81 600.79 L243.85 600.79 L243.85 598.77 L246.54 598.77 L246.54 597.76 L249.23 597.76 L249.23 596.75 L252.12 596.75 L252.12 595.12 L255.48 595.12 L255.48 593.1 L256.49 593.1 L256.49 589.06 L258.85 589.06 L258.85 586.37 L261.54 586.37 L261.54 585.02 L264.9 585.02 L264.9 583.67 L266.59 583.67 L266.59 580.98 L270.29 580.98 L270.29 579.97 L273.65 579.97 L273.65 578.96 L276.94 578.96 L276.94 575.58 L280.23 575.58 L280.23 572.19 L282.77 572.19 L282.77 571.5 L285.31 571.5 L285.31 570.81 L287.85 570.81 L287.85 570.12 L290.62 570.12 L290.62 568.04 L293.38 568.04 L293.38 565.96 L296.15 565.96 L296.15 565.27 L298.92 565.27 L298.92 564.58 L300.31 564.58 L300.31 561.12 L303.42 561.12 L303.42 561.12 L306.54 561.12 L306.54 561.12 L309.65 561.12 L309.65 561.12 L312.77 561.12 L312.77 561.12 L315.88 561.12 L315.88 561.12 L319 561.12 L319 561.12 L322.12 561.12 L322.12 561.12 L325.23 561.12 L325.23 561.12 L327.5 561.12 L327.5 561.12" fill="none" stroke="#ae1a38" stroke-width="1.1" stroke-linejoin="miter"/><path d="M194.85 629.3 L197.81 629.3 L197.81 628.91 L200.77 628.91 L200.77 628.51 L203.46 628.51 L203.46 627.5 L206.15 627.5 L206.15 626.49 L208.85 626.49 L208.85 625.68 L211.54 625.68 L211.54 624.88 L214.23 624.88 L214.23 624 L216.92 624 L216.92 623.13 L220.29 623.13 L220.29 622.12 L223.65 622.12 L223.65 621.11 L227.02 621.11 L227.02 620.1 L230.38 620.1 L230.38 619.09 L233.75 619.09 L233.75 618.42 L237.12 618.42 L237.12 617.74 L240.48 617.74 L240.48 617.07 L243.85 617.07 L243.85 616.4 L247.21 616.4 L247.21 615.72 L250.58 615.72 L250.58 615.05 L254.62 615.05 L254.62 613.03 L256 613.03 L256 611.76 L259.46 611.76 L259.46 610.03 L262.92 610.03 L262.92 608.3 L266.38 608.3 L266.38 606.92 L269.85 606.92 L269.85 605.53 L273.31 605.53 L273.31 603.8 L276.77 603.8 L276.77 602.07 L279.54 602.07 L279.54 601.03 L282.31 601.03 L282.31 599.99 L285.08 599.99 L285.08 599.99 L287.85 599.99 L287.85 599.99 L290.62 599.99 L290.62 599.99 L294.08 599.99 L294.08 599.65 L297.54 599.65 L297.54 599.3 L300.31 599.3 L300.31 599.13 L303.08 599.13 L303.08 598.95 L305.85 598.95 L305.85 598.78 L308.62 598.78 L308.62 598.61 L312.08 598.61 L312.08 596.88 L315.54 596.88 L315.54 595.15 L318.31 595.15 L318.31 594.45 L321.08 594.45 L321.08 593.76 L325.23 593.76 L325.23 592.79 L327.5 592.79 L327.5 592.79" fill="none" stroke="#293562" stroke-width="1.1" stroke-linejoin="miter"/></g>
<rect x="189.15" y="525.5" width="137.18" height="108.9" fill="none" stroke="#222" stroke-width="1.55"/>
<clipPath id="c42"><rect x="335.1" y="525.5" width="137.9" height="108.9"/></clipPath>
<g clip-path="url(#c42)"><path d="M340.8 629.3 L342 629.3 L342 618 L346 618 L346 606.4 L377 606.4 L377 568.1 L389.8 568.1 L389.8 542.1 L474 542.1 L474 616.3 L389.5 616.3 L389.5 626 L377 626 L377 629.5 L346.1 629.5 L346.1 629.3 L340.8 629.3 Z" fill="#edbcb1" style="mix-blend-mode:multiply"/><path d="M340.8 629.3 L343 629.3 L343 622 L346.1 622 L346.1 613.2 L367.6 613.2 L367.6 606.4 L377 606.4 L377 599.5 L389.8 599.5 L389.8 596.9 L404.3 596.9 L404.3 591.9 L474 591.9 L474 616.1 L389.5 616.1 L389.5 623.3 L367 623.3 L367 627.3 L346.1 627.3 L346.1 629.3 L340.8 629.3 Z" fill="#bec5df" style="mix-blend-mode:multiply"/><path d="M340.8 629.3 L346.1 629.3 L346.1 620.6 L377 620.6 L377 603.7 L380.4 603.7 L380.4 596.3 L390.5 596.3 L390.5 586.2 L392.5 586.2 L392.5 577.3 L474 577.3" fill="none" stroke="#ae1a38" stroke-width="1.1" stroke-linejoin="miter"/><path d="M340.8 629.3 L343.4 629.3 L343.4 626.6 L344.7 626.6 L344.7 624.6 L346.1 624.6 L346.1 622 L350.8 622 L350.8 620.6 L366.3 620.6 L366.3 616.5 L368.3 616.5 L368.3 613.2 L376.4 613.2 L376.4 611.8 L384.5 611.8 L384.5 610.5 L385.8 610.5 L385.8 609.1 L391.2 609.1 L391.2 607.8 L396 607.8 L396 606.8 L404.3 606.8 L404.3 604.3 L474 604.3" fill="none" stroke="#293562" stroke-width="1.1" stroke-linejoin="miter"/></g>
<rect x="335.1" y="525.5" width="137.9" height="108.9" fill="none" stroke="#222" stroke-width="1.55"/>
<clipPath id="c50"><rect x="42.9" y="643.6" width="137.4" height="108.8"/></clipPath>
<g clip-path="url(#c50)"><path d="M48.6 747.6 L49.3 747.6 L49.3 745.83 L50 745.83 L50 744.06 L51.67 744.06 L51.67 742.18 L53.33 742.18 L53.33 740.31 L55 740.31 L55 738.43 L56.67 738.43 L56.67 736.58 L58.33 736.58 L58.33 734.74 L60 734.74 L60 732.89 L61.67 732.89 L61.67 731.05 L63.33 731.05 L63.33 729.2 L65 729.2 L65 727.36 L66.67 727.36 L66.67 725.58 L68.33 725.58 L68.33 723.8 L70 723.8 L70 722.02 L71.67 722.02 L71.67 720.58 L73.33 720.58 L73.33 719.13 L75 719.13 L75 717.69 L76.67 717.69 L76.67 716.37 L78.33 716.37 L78.33 715.06 L80 715.06 L80 713.75 L81.67 713.75 L81.67 712.44 L83.33 712.44 L83.33 711.13 L85 711.13 L85 709.82 L86.67 709.82 L86.67 708.27 L88.33 708.27 L88.33 706.73 L90 706.73 L90 705.18 L91.67 705.18 L91.67 703.84 L93.33 703.84 L93.33 702.49 L95 702.49 L95 701.14 L96.4 701.14 L96.4 700.07 L97.8 700.07 L97.8 699 L99.2 699 L99.2 697.93 L100.8 697.93 L100.8 696.92 L102.4 696.92 L102.4 695.91 L104 695.91 L104 694.9 L105.6 694.9 L105.6 693.59 L107.2 693.59 L107.2 692.28 L108.8 692.28 L108.8 690.97 L110.25 690.97 L110.25 689.23 L111.7 689.23 L111.7 687.49 L113.06 687.49 L113.06 686.68 L114.42 686.68 L114.42 685.86 L115.78 685.86 L115.78 685.04 L117.14 685.04 L117.14 684.23 L118.5 684.23 L118.5 683.41 L120.1 683.41 L120.1 682.73 L121.7 682.73 L121.7 682.06 L123.3 682.06 L123.3 681.38 L124.97 681.38 L124.97 680.68 L126.65 680.68 L126.65 679.99 L128.32 679.99 L128.32 679.29 L130 679.29 L130 678.6 L131.67 678.6 L131.67 677.39 L133.33 677.39 L133.33 676.17 L135 676.17 L135 674.96 L136.67 674.96 L136.67 674.08 L138.33 674.08 L138.33 673.21 L140 673.21 L140 672.33 L141.67 672.33 L141.67 671.95 L143.33 671.95 L143.33 671.57 L145 671.57 L145 671.19 L146.67 671.19 L146.67 670.48 L148.33 670.48 L148.33 669.77 L150 669.77 L150 669.06 L151.67 669.06 L151.67 668.18 L153.33 668.18 L153.33 667.3 L155 667.3 L155 666.42 L156.67 666.42 L156.67 665.71 L158.33 665.71 L158.33 665 L160 665 L160 664.29 L161.67 664.29 L161.67 663.91 L163.33 663.91 L163.33 663.53 L165 663.53 L165 663.15 L166.67 663.15 L166.67 662.61 L168.33 662.61 L168.33 662.06 L170 662.06 L170 661.52 L171.67 661.52 L171.67 661.18 L173.33 661.18 L173.33 660.84 L175 660.84 L175 660.5 L176.5 660.5 L176.5 659.75 L178 659.75 L178 659 L180 659 L180 658.5 L181 658.5 L181 658.5 L181 667.5 L181 667.5 L180 667.5 L180 668 L178 668 L178 668.75 L176.5 668.75 L176.5 669.5 L175 669.5 L175 669.83 L173.33 669.83 L173.33 670.16 L171.67 670.16 L171.67 670.48 L170 670.48 L170 670.94 L168.33 670.94 L168.33 671.39 L166.67 671.39 L166.67 671.85 L165 671.85 L165 672.14 L163.33 672.14 L163.33 672.43 L161.67 672.43 L161.67 672.71 L160 672.71 L160 673.33 L158.33 673.33 L158.33 673.96 L156.67 673.96 L156.67 674.58 L155 674.58 L155 675.37 L153.33 675.37 L153.33 676.15 L151.67 676.15 L151.67 676.94 L150 676.94 L150 677.56 L148.33 677.56 L148.33 678.19 L146.67 678.19 L146.67 678.81 L145 678.81 L145 679.1 L143.33 679.1 L143.33 679.38 L141.67 679.38 L141.67 679.67 L140 679.67 L140 680.46 L138.33 680.46 L138.33 681.25 L136.67 681.25 L136.67 682.04 L135 682.04 L135 683.16 L133.33 683.16 L133.33 684.28 L131.67 684.28 L131.67 685.4 L130 685.4 L130 686.01 L128.32 686.01 L128.32 686.61 L126.65 686.61 L126.65 687.22 L124.97 687.22 L124.97 687.82 L123.3 687.82 L123.3 688.41 L121.7 688.41 L121.7 689 L120.1 689 L120.1 689.59 L118.5 689.59 L118.5 690.33 L117.14 690.33 L117.14 691.08 L115.78 691.08 L115.78 691.82 L114.42 691.82 L114.42 692.56 L113.06 692.56 L113.06 693.31 L111.7 693.31 L111.7 694.97 L110.25 694.97 L110.25 696.63 L108.8 696.63 L108.8 697.85 L107.2 697.85 L107.2 699.08 L105.6 699.08 L105.6 700.3 L104 700.3 L104 701.22 L102.4 701.22 L102.4 702.15 L100.8 702.15 L100.8 703.07 L99.2 703.07 L99.2 704.06 L97.8 704.06 L97.8 705.06 L96.4 705.06 L96.4 706.06 L95 706.06 L95 707.31 L93.33 707.31 L93.33 708.56 L91.67 708.56 L91.67 709.82 L90 709.82 L90 711.27 L88.33 711.27 L88.33 712.73 L86.67 712.73 L86.67 714.18 L85 714.18 L85 715.41 L83.33 715.41 L83.33 716.63 L81.67 716.63 L81.67 717.85 L80 717.85 L80 719.07 L78.33 719.07 L78.33 720.29 L76.67 720.29 L76.67 721.51 L75 721.51 L75 722.87 L73.33 722.87 L73.33 724.22 L71.67 724.22 L71.67 725.58 L70 725.58 L70 727.27 L68.33 727.27 L68.33 728.96 L66.67 728.96 L66.67 730.64 L65 730.64 L65 732.4 L63.33 732.4 L63.33 734.15 L61.67 734.15 L61.67 735.91 L60 735.91 L60 737.66 L58.33 737.66 L58.33 739.42 L56.67 739.42 L56.67 741.17 L55 741.17 L55 742.96 L53.33 742.96 L53.33 744.75 L51.67 744.75 L51.67 746.54 L50 746.54 L50 747.6 L48.6 747.6 Z" fill="#edbcb1" style="mix-blend-mode:multiply"/><path d="M48.6 747.6 L50 747.6 L50 746.08 L51.6 746.08 L51.6 745.51 L53.2 745.51 L53.2 744.94 L54.8 744.94 L54.8 744.37 L56.4 744.37 L56.4 743.8 L58 743.8 L58 743.23 L59.6 743.23 L59.6 742.66 L61.2 742.66 L61.2 742.11 L62.8 742.11 L62.8 741.56 L64.4 741.56 L64.4 741.01 L66 741.01 L66 740.45 L67.6 740.45 L67.6 739.9 L69.2 739.9 L69.2 739.35 L70.8 739.35 L70.8 738.98 L72.4 738.98 L72.4 738.61 L74 738.61 L74 738.24 L75.6 738.24 L75.6 737.87 L77.2 737.87 L77.2 737.5 L78.8 737.5 L78.8 737.13 L80.42 737.13 L80.42 736.71 L82.03 736.71 L82.03 736.29 L83.65 736.29 L83.65 735.87 L85.27 735.87 L85.27 735.45 L86.88 735.45 L86.88 735.03 L88.5 735.03 L88.5 734.61 L90.1 734.61 L90.1 734.26 L91.7 734.26 L91.7 733.9 L93.3 733.9 L93.3 733.55 L94.9 733.55 L94.9 733.2 L96.5 733.2 L96.5 732.84 L98.1 732.84 L98.1 732.49 L99.64 732.49 L99.64 732.21 L101.18 732.21 L101.18 731.93 L102.72 731.93 L102.72 731.65 L104.26 731.65 L104.26 731.38 L105.8 731.38 L105.8 731.1 L107.22 731.1 L107.22 730.78 L108.65 730.78 L108.65 730.46 L110.08 730.46 L110.08 730.14 L111.5 730.14 L111.5 729.83 L112.95 729.83 L112.95 729.46 L114.4 729.46 L114.4 729.09 L115.85 729.09 L115.85 728.72 L117.3 728.72 L117.3 728.36 L118.75 728.36 L118.75 728.04 L120.2 728.04 L120.2 727.72 L121.65 727.72 L121.65 727.4 L123.1 727.4 L123.1 727.08 L124.48 727.08 L124.48 726.51 L125.86 726.51 L125.86 725.93 L127.24 725.93 L127.24 725.35 L128.62 725.35 L128.62 724.78 L130 724.78 L130 724.2 L131.43 724.2 L131.43 723.97 L132.86 723.97 L132.86 723.74 L134.29 723.74 L134.29 723.5 L135.71 723.5 L135.71 723.27 L137.14 723.27 L137.14 723.04 L138.57 723.04 L138.57 722.81 L140 722.81 L140 722.58 L141.43 722.58 L141.43 722.27 L142.86 722.27 L142.86 721.97 L144.29 721.97 L144.29 721.67 L145.71 721.67 L145.71 721.36 L147.14 721.36 L147.14 721.06 L148.57 721.06 L148.57 720.76 L150 720.76 L150 720.45 L151.43 720.45 L151.43 720.22 L152.86 720.22 L152.86 719.99 L154.29 719.99 L154.29 719.76 L155.71 719.76 L155.71 719.53 L157.14 719.53 L157.14 719.29 L158.57 719.29 L158.57 719.06 L160 719.06 L160 718.83 L161.43 718.83 L161.43 718.53 L162.86 718.53 L162.86 718.22 L164.29 718.22 L164.29 717.92 L165.71 717.92 L165.71 717.62 L167.14 717.62 L167.14 717.31 L168.57 717.31 L168.57 717.01 L170 717.01 L170 716.71 L171.5 716.71 L171.5 716.58 L173 716.58 L173 716.45 L174.5 716.45 L174.5 716.33 L176 716.33 L176 716.2 L177.5 716.2 L177.5 715.45 L179 715.45 L179 714.7 L181 714.7 L181 714.7 L181 719.3 L181 719.3 L179 719.3 L179 720.05 L177.5 720.05 L177.5 720.8 L176 720.8 L176 720.92 L174.5 720.92 L174.5 721.05 L173 721.05 L173 721.17 L171.5 721.17 L171.5 721.29 L170 721.29 L170 721.56 L168.57 721.56 L168.57 721.83 L167.14 721.83 L167.14 722.1 L165.71 722.1 L165.71 722.37 L164.29 722.37 L164.29 722.63 L162.86 722.63 L162.86 722.9 L161.43 722.9 L161.43 723.17 L160 723.17 L160 723.37 L158.57 723.37 L158.57 723.56 L157.14 723.56 L157.14 723.76 L155.71 723.76 L155.71 723.96 L154.29 723.96 L154.29 724.15 L152.86 724.15 L152.86 724.35 L151.43 724.35 L151.43 724.55 L150 724.55 L150 724.81 L148.57 724.81 L148.57 725.08 L147.14 725.08 L147.14 725.35 L145.71 725.35 L145.71 725.62 L144.29 725.62 L144.29 725.89 L142.86 725.89 L142.86 726.16 L141.43 726.16 L141.43 726.42 L140 726.42 L140 726.62 L138.57 726.62 L138.57 726.82 L137.14 726.82 L137.14 727.01 L135.71 727.01 L135.71 727.21 L134.29 727.21 L134.29 727.41 L132.86 727.41 L132.86 727.6 L131.43 727.6 L131.43 727.8 L130 727.8 L130 728.34 L128.62 728.34 L128.62 728.89 L127.24 728.89 L127.24 729.43 L125.86 729.43 L125.86 729.97 L124.48 729.97 L124.48 730.52 L123.1 730.52 L123.1 730.8 L121.65 730.8 L121.65 731.08 L120.2 731.08 L120.2 731.36 L118.75 731.36 L118.75 731.64 L117.3 731.64 L117.3 731.98 L115.85 731.98 L115.85 732.31 L114.4 732.31 L114.4 732.64 L112.95 732.64 L112.95 732.97 L111.5 732.97 L111.5 733.26 L110.08 733.26 L110.08 733.54 L108.65 733.54 L108.65 733.82 L107.22 733.82 L107.22 734.1 L105.8 734.1 L105.8 734.34 L104.26 734.34 L104.26 734.59 L102.72 734.59 L102.72 734.83 L101.18 734.83 L101.18 735.07 L99.64 735.07 L99.64 735.31 L98.1 735.31 L98.1 735.62 L96.5 735.62 L96.5 735.94 L94.9 735.94 L94.9 736.25 L93.3 736.25 L93.3 736.56 L91.7 736.56 L91.7 736.88 L90.1 736.88 L90.1 737.19 L88.5 737.19 L88.5 737.57 L86.88 737.57 L86.88 737.95 L85.27 737.95 L85.27 738.33 L83.65 738.33 L83.65 738.71 L82.03 738.71 L82.03 739.09 L80.42 739.09 L80.42 739.47 L78.8 739.47 L78.8 739.8 L77.2 739.8 L77.2 740.13 L75.6 740.13 L75.6 740.46 L74 740.46 L74 740.79 L72.4 740.79 L72.4 741.12 L70.8 741.12 L70.8 741.45 L69.2 741.45 L69.2 741.97 L67.6 741.97 L67.6 742.48 L66 742.48 L66 742.99 L64.4 742.99 L64.4 743.51 L62.8 743.51 L62.8 744.02 L61.2 744.02 L61.2 744.54 L59.6 744.54 L59.6 745.07 L58 745.07 L58 745.6 L56.4 745.6 L56.4 746.13 L54.8 746.13 L54.8 746.66 L53.2 746.66 L53.2 747.19 L51.6 747.19 L51.6 747.72 L50 747.72 L50 747.6 L48.6 747.6 Z" fill="#bec5df" style="mix-blend-mode:multiply"/><path d="M48.6 747.6 L50 747.6 L50 745.3 L51.67 745.3 L51.67 743.47 L53.33 743.47 L53.33 741.63 L55 741.63 L55 739.8 L56.67 739.8 L56.67 738 L58.33 738 L58.33 736.2 L60 736.2 L60 734.4 L61.67 734.4 L61.67 732.6 L63.33 732.6 L63.33 730.8 L65 730.8 L65 729 L66.67 729 L66.67 727.27 L68.33 727.27 L68.33 725.53 L70 725.53 L70 723.8 L71.67 723.8 L71.67 722.4 L73.33 722.4 L73.33 721 L75 721 L75 719.6 L76.67 719.6 L76.67 718.33 L78.33 718.33 L78.33 717.07 L80 717.07 L80 715.8 L81.67 715.8 L81.67 714.53 L83.33 714.53 L83.33 713.27 L85 713.27 L85 712 L86.67 712 L86.67 710.5 L88.33 710.5 L88.33 709 L90 709 L90 707.5 L91.67 707.5 L91.67 706.2 L93.33 706.2 L93.33 704.9 L95 704.9 L95 703.6 L96.4 703.6 L96.4 702.57 L97.8 702.57 L97.8 701.53 L99.2 701.53 L99.2 700.5 L100.8 700.5 L100.8 699.53 L102.4 699.53 L102.4 698.57 L104 698.57 L104 697.6 L105.6 697.6 L105.6 696.33 L107.2 696.33 L107.2 695.07 L108.8 695.07 L108.8 693.8 L110.25 693.8 L110.25 692.1 L111.7 692.1 L111.7 690.4 L113.06 690.4 L113.06 689.62 L114.42 689.62 L114.42 688.84 L115.78 688.84 L115.78 688.06 L117.14 688.06 L117.14 687.28 L118.5 687.28 L118.5 686.5 L120.1 686.5 L120.1 685.87 L121.7 685.87 L121.7 685.23 L123.3 685.23 L123.3 684.6 L124.97 684.6 L124.97 683.95 L126.65 683.95 L126.65 683.3 L128.32 683.3 L128.32 682.65 L130 682.65 L130 682 L131.67 682 L131.67 680.83 L133.33 680.83 L133.33 679.67 L135 679.67 L135 678.5 L136.67 678.5 L136.67 677.67 L138.33 677.67 L138.33 676.83 L140 676.83 L140 676 L141.67 676 L141.67 675.67 L143.33 675.67 L143.33 675.33 L145 675.33 L145 675 L146.67 675 L146.67 674.33 L148.33 674.33 L148.33 673.67 L150 673.67 L150 673 L151.67 673 L151.67 672.17 L153.33 672.17 L153.33 671.33 L155 671.33 L155 670.5 L156.67 670.5 L156.67 669.83 L158.33 669.83 L158.33 669.17 L160 669.17 L160 668.5 L161.67 668.5 L161.67 668.17 L163.33 668.17 L163.33 667.83 L165 667.83 L165 667.5 L166.67 667.5 L166.67 667 L168.33 667 L168.33 666.5 L170 666.5 L170 666 L171.67 666 L171.67 665.67 L173.33 665.67 L173.33 665.33 L175 665.33 L175 665 L176.5 665 L176.5 664.25 L178 664.25 L178 663.5 L180 663.5 L180 663 L181 663 L181 663" fill="none" stroke="#ae1a38" stroke-width="1.1" stroke-linejoin="miter"/><path d="M48.6 747.6 L50 747.6 L50 746.9 L51.6 746.9 L51.6 746.35 L53.2 746.35 L53.2 745.8 L54.8 745.8 L54.8 745.25 L56.4 745.25 L56.4 744.7 L58 744.7 L58 744.15 L59.6 744.15 L59.6 743.6 L61.2 743.6 L61.2 743.07 L62.8 743.07 L62.8 742.53 L64.4 742.53 L64.4 742 L66 742 L66 741.47 L67.6 741.47 L67.6 740.93 L69.2 740.93 L69.2 740.4 L70.8 740.4 L70.8 740.05 L72.4 740.05 L72.4 739.7 L74 739.7 L74 739.35 L75.6 739.35 L75.6 739 L77.2 739 L77.2 738.65 L78.8 738.65 L78.8 738.3 L80.42 738.3 L80.42 737.9 L82.03 737.9 L82.03 737.5 L83.65 737.5 L83.65 737.1 L85.27 737.1 L85.27 736.7 L86.88 736.7 L86.88 736.3 L88.5 736.3 L88.5 735.9 L90.1 735.9 L90.1 735.57 L91.7 735.57 L91.7 735.23 L93.3 735.23 L93.3 734.9 L94.9 734.9 L94.9 734.57 L96.5 734.57 L96.5 734.23 L98.1 734.23 L98.1 733.9 L99.64 733.9 L99.64 733.64 L101.18 733.64 L101.18 733.38 L102.72 733.38 L102.72 733.12 L104.26 733.12 L104.26 732.86 L105.8 732.86 L105.8 732.6 L107.22 732.6 L107.22 732.3 L108.65 732.3 L108.65 732 L110.08 732 L110.08 731.7 L111.5 731.7 L111.5 731.4 L112.95 731.4 L112.95 731.05 L114.4 731.05 L114.4 730.7 L115.85 730.7 L115.85 730.35 L117.3 730.35 L117.3 730 L118.75 730 L118.75 729.7 L120.2 729.7 L120.2 729.4 L121.65 729.4 L121.65 729.1 L123.1 729.1 L123.1 728.8 L124.48 728.8 L124.48 728.24 L125.86 728.24 L125.86 727.68 L127.24 727.68 L127.24 727.12 L128.62 727.12 L128.62 726.56 L130 726.56 L130 726 L131.43 726 L131.43 725.79 L132.86 725.79 L132.86 725.57 L134.29 725.57 L134.29 725.36 L135.71 725.36 L135.71 725.14 L137.14 725.14 L137.14 724.93 L138.57 724.93 L138.57 724.71 L140 724.71 L140 724.5 L141.43 724.5 L141.43 724.21 L142.86 724.21 L142.86 723.93 L144.29 723.93 L144.29 723.64 L145.71 723.64 L145.71 723.36 L147.14 723.36 L147.14 723.07 L148.57 723.07 L148.57 722.79 L150 722.79 L150 722.5 L151.43 722.5 L151.43 722.29 L152.86 722.29 L152.86 722.07 L154.29 722.07 L154.29 721.86 L155.71 721.86 L155.71 721.64 L157.14 721.64 L157.14 721.43 L158.57 721.43 L158.57 721.21 L160 721.21 L160 721 L161.43 721 L161.43 720.71 L162.86 720.71 L162.86 720.43 L164.29 720.43 L164.29 720.14 L165.71 720.14 L165.71 719.86 L167.14 719.86 L167.14 719.57 L168.57 719.57 L168.57 719.29 L170 719.29 L170 719 L171.5 719 L171.5 718.88 L173 718.88 L173 718.75 L174.5 718.75 L174.5 718.62 L176 718.62 L176 718.5 L177.5 718.5 L177.5 717.75 L179 717.75 L179 717 L181 717 L181 717" fill="none" stroke="#293562" stroke-width="1.1" stroke-linejoin="miter"/></g>
<rect x="42.9" y="643.6" width="137.4" height="108.8" fill="none" stroke="#222" stroke-width="1.55"/>
<clipPath id="c51"><rect x="189.15" y="643.6" width="137.18" height="108.8"/></clipPath>
<g clip-path="url(#c51)"><path d="M194.85 747.6 L196 747.6 L196 745.37 L197.2 745.37 L197.2 743.54 L198.4 743.54 L198.4 741.7 L199.6 741.7 L199.6 739.87 L200.8 739.87 L200.8 738.04 L202 738.04 L202 736.33 L203.2 736.33 L203.2 734.62 L204.4 734.62 L204.4 732.92 L205.6 732.92 L205.6 731.21 L207.2 731.21 L207.2 729.4 L208.8 729.4 L208.8 727.59 L210.4 727.59 L210.4 725.78 L212.1 725.78 L212.1 724.28 L213.8 724.28 L213.8 722.79 L215.35 722.79 L215.35 721.55 L216.9 721.55 L216.9 720.3 L218.45 720.3 L218.45 719.06 L220 719.06 L220 717.82 L221.6 717.82 L221.6 716.34 L223.2 716.34 L223.2 714.87 L224.8 714.87 L224.8 713.39 L226.43 713.39 L226.43 712.05 L228.07 712.05 L228.07 710.7 L229.7 710.7 L229.7 709.36 L231.3 709.36 L231.3 708.05 L232.9 708.05 L232.9 706.74 L234.5 706.74 L234.5 705.43 L236.1 705.43 L236.1 704.08 L237.7 704.08 L237.7 702.74 L239.3 702.74 L239.3 701.4 L240.9 701.4 L240.9 700.25 L242.5 700.25 L242.5 699.11 L244.1 699.11 L244.1 697.97 L245.8 697.97 L245.8 696.66 L247.5 696.66 L247.5 695.34 L249.2 695.34 L249.2 694.03 L250.57 694.03 L250.57 693.09 L251.93 693.09 L251.93 692.16 L253.3 692.16 L253.3 691.22 L254.63 691.22 L254.63 689.85 L255.97 689.85 L255.97 688.48 L257.3 688.48 L257.3 687.11 L258.65 687.11 L258.65 686.22 L260 686.22 L260 685.34 L261.67 685.34 L261.67 684.36 L263.33 684.36 L263.33 683.38 L265 683.38 L265 682.4 L266.67 682.4 L266.67 681.69 L268.33 681.69 L268.33 680.98 L270 680.98 L270 680.27 L271.5 680.27 L271.5 679.8 L273 679.8 L273 679.34 L274.5 679.34 L274.5 678.87 L276 678.87 L276 678.4 L277.7 678.4 L277.7 677.33 L279.4 677.33 L279.4 676.25 L281.1 676.25 L281.1 675.17 L282.77 675.17 L282.77 674.12 L284.43 674.12 L284.43 673.08 L286.1 673.08 L286.1 672.03 L287.8 672.03 L287.8 671.49 L289.5 671.49 L289.5 670.94 L291.2 670.94 L291.2 670.39 L292.87 670.39 L292.87 669.68 L294.53 669.68 L294.53 668.97 L296.2 668.97 L296.2 668.26 L297.9 668.26 L297.9 667.55 L299.6 667.55 L299.6 666.83 L301.3 666.83 L301.3 666.12 L302.97 666.12 L302.97 665.38 L304.63 665.38 L304.63 664.63 L306.3 664.63 L306.3 663.89 L308 663.89 L308 663.51 L309.7 663.51 L309.7 663.13 L311.4 663.13 L311.4 662.75 L313.07 662.75 L313.07 662.3 L314.73 662.3 L314.73 661.86 L316.4 661.86 L316.4 661.41 L318.1 661.41 L318.1 660.81 L319.8 660.81 L319.8 660.2 L321.5 660.2 L321.5 659.6 L323 659.6 L323 658.85 L324.5 658.85 L324.5 658.1 L326 658.1 L326 658.1 L327.5 658.1 L327.5 658.1 L327.5 667.1 L327.5 667.1 L326 667.1 L326 667.1 L324.5 667.1 L324.5 667.85 L323 667.85 L323 668.6 L321.5 668.6 L321.5 669.2 L319.8 669.2 L319.8 669.79 L318.1 669.79 L318.1 670.39 L316.4 670.39 L316.4 670.74 L314.73 670.74 L314.73 671.1 L313.07 671.1 L313.07 671.45 L311.4 671.45 L311.4 671.74 L309.7 671.74 L309.7 672.03 L308 672.03 L308 672.31 L306.3 672.31 L306.3 672.97 L304.63 672.97 L304.63 673.62 L302.97 673.62 L302.97 674.28 L301.3 674.28 L301.3 674.9 L299.6 674.9 L299.6 675.52 L297.9 675.52 L297.9 676.14 L296.2 676.14 L296.2 676.76 L294.53 676.76 L294.53 677.38 L292.87 677.38 L292.87 678.01 L291.2 678.01 L291.2 678.46 L289.5 678.46 L289.5 678.91 L287.8 678.91 L287.8 679.37 L286.1 679.37 L286.1 680.32 L284.43 680.32 L284.43 681.28 L282.77 681.28 L282.77 682.23 L281.1 682.23 L281.1 683.22 L279.4 683.22 L279.4 684.21 L277.7 684.21 L277.7 685.2 L276 685.2 L276 685.58 L274.5 685.58 L274.5 685.96 L273 685.96 L273 686.35 L271.5 686.35 L271.5 686.73 L270 686.73 L270 687.35 L268.33 687.35 L268.33 687.98 L266.67 687.98 L266.67 688.6 L265 688.6 L265 689.49 L263.33 689.49 L263.33 690.37 L261.67 690.37 L261.67 691.26 L260 691.26 L260 692.08 L258.65 692.08 L258.65 692.89 L257.3 692.89 L257.3 694.19 L255.97 694.19 L255.97 695.48 L254.63 695.48 L254.63 696.78 L253.3 696.78 L253.3 697.64 L251.93 697.64 L251.93 698.51 L250.57 698.51 L250.57 699.37 L249.2 699.37 L249.2 700.59 L247.5 700.59 L247.5 701.81 L245.8 701.81 L245.8 703.03 L244.1 703.03 L244.1 704.09 L242.5 704.09 L242.5 705.15 L240.9 705.15 L240.9 706.2 L239.3 706.2 L239.3 707.46 L237.7 707.46 L237.7 708.72 L236.1 708.72 L236.1 709.97 L234.5 709.97 L234.5 711.2 L232.9 711.2 L232.9 712.42 L231.3 712.42 L231.3 713.64 L229.7 713.64 L229.7 714.9 L228.07 714.9 L228.07 716.15 L226.43 716.15 L226.43 717.41 L224.8 717.41 L224.8 718.8 L223.2 718.8 L223.2 720.19 L221.6 720.19 L221.6 721.58 L220 721.58 L220 722.74 L218.45 722.74 L218.45 723.9 L216.9 723.9 L216.9 725.05 L215.35 725.05 L215.35 726.21 L213.8 726.21 L213.8 727.62 L212.1 727.62 L212.1 729.02 L210.4 729.02 L210.4 730.74 L208.8 730.74 L208.8 732.47 L207.2 732.47 L207.2 734.19 L205.6 734.19 L205.6 736.38 L204 736.38 L204 738.57 L202.4 738.57 L202.4 740.76 L200.8 740.76 L200.8 742.53 L199.6 742.53 L199.6 744.3 L198.4 744.3 L198.4 746.06 L197.2 746.06 L197.2 747.83 L196 747.83 L196 747.6 L194.85 747.6 Z" fill="#edbcb1" style="mix-blend-mode:multiply"/><path d="M194.85 747.6 L196 747.6 L196 746.29 L197.6 746.29 L197.6 745.47 L199.2 745.47 L199.2 744.65 L200.8 744.65 L200.8 743.83 L202.4 743.83 L202.4 743.17 L204 743.17 L204 742.52 L205.6 742.52 L205.6 741.87 L207.2 741.87 L207.2 741.35 L208.8 741.35 L208.8 740.83 L210.4 740.83 L210.4 740.31 L212 740.31 L212 739.82 L213.6 739.82 L213.6 739.34 L215.2 739.34 L215.2 738.85 L216.8 738.85 L216.8 738.5 L218.4 738.5 L218.4 738.14 L220 738.14 L220 737.79 L221.6 737.79 L221.6 737.3 L223.2 737.3 L223.2 736.82 L224.8 736.82 L224.8 736.33 L226.43 736.33 L226.43 735.98 L228.07 735.98 L228.07 735.62 L229.7 735.62 L229.7 735.27 L231.3 735.27 L231.3 734.95 L232.9 734.95 L232.9 734.63 L234.5 734.63 L234.5 734.31 L236.1 734.31 L236.1 733.79 L237.7 733.79 L237.7 733.27 L239.3 733.27 L239.3 732.75 L240.9 732.75 L240.9 732.43 L242.5 732.43 L242.5 732.11 L244.1 732.11 L244.1 731.79 L245.57 731.79 L245.57 731.43 L247.05 731.43 L247.05 731.06 L248.53 731.06 L248.53 730.69 L250 730.69 L250 730.32 L251.5 730.32 L251.5 729.85 L253 729.85 L253 729.39 L254.5 729.39 L254.5 728.92 L256 728.92 L256 728.45 L257.5 728.45 L257.5 728.05 L259 728.05 L259 727.66 L260.5 727.66 L260.5 727.27 L262 727.27 L262 726.87 L263.5 726.87 L263.5 726.53 L265 726.53 L265 726.19 L266.5 726.19 L266.5 725.84 L268 725.84 L268 725.5 L269.6 725.5 L269.6 725.28 L271.2 725.28 L271.2 725.06 L272.8 725.06 L272.8 724.84 L274.4 724.84 L274.4 724.62 L276 724.62 L276 724.4 L277.7 724.4 L277.7 724.21 L279.4 724.21 L279.4 724.03 L281.1 724.03 L281.1 723.84 L282.77 723.84 L282.77 723.49 L284.43 723.49 L284.43 723.13 L286.1 723.13 L286.1 722.78 L287.8 722.78 L287.8 722.42 L289.5 722.42 L289.5 722.07 L291.2 722.07 L291.2 721.72 L292.87 721.72 L292.87 721.19 L294.53 721.19 L294.53 720.67 L296.2 720.67 L296.2 720.15 L297.9 720.15 L297.9 719.97 L299.6 719.97 L299.6 719.78 L301.3 719.78 L301.3 719.59 L302.97 719.59 L302.97 719.24 L304.63 719.24 L304.63 718.88 L306.3 718.88 L306.3 718.53 L308 718.53 L308 718.34 L309.7 718.34 L309.7 718.15 L311.4 718.15 L311.4 717.97 L313.07 717.97 L313.07 717.58 L314.73 717.58 L314.73 717.19 L316.4 717.19 L316.4 716.81 L318.1 716.81 L318.1 716.47 L319.8 716.47 L319.8 716.14 L321.5 716.14 L321.5 715.8 L322.83 715.8 L322.83 715.47 L324.17 715.47 L324.17 715.13 L325.5 715.13 L325.5 714.8 L327.5 714.8 L327.5 714.8 L327.5 719.4 L327.5 719.4 L325.5 719.4 L325.5 719.73 L324.17 719.73 L324.17 720.07 L322.83 720.07 L322.83 720.4 L321.5 720.4 L321.5 720.73 L319.8 720.73 L319.8 721.06 L318.1 721.06 L318.1 721.39 L316.4 721.39 L316.4 721.74 L314.73 721.74 L314.73 722.09 L313.07 722.09 L313.07 722.43 L311.4 722.43 L311.4 722.58 L309.7 722.58 L309.7 722.72 L308 722.72 L308 722.87 L306.3 722.87 L306.3 723.18 L304.63 723.18 L304.63 723.5 L302.97 723.5 L302.97 723.81 L301.3 723.81 L301.3 723.95 L299.6 723.95 L299.6 724.1 L297.9 724.1 L297.9 724.25 L296.2 724.25 L296.2 724.73 L294.53 724.73 L294.53 725.21 L292.87 725.21 L292.87 725.68 L291.2 725.68 L291.2 726 L289.5 726 L289.5 726.31 L287.8 726.31 L287.8 726.62 L286.1 726.62 L286.1 726.93 L284.43 726.93 L284.43 727.25 L282.77 727.25 L282.77 727.56 L281.1 727.56 L281.1 727.71 L279.4 727.71 L279.4 727.85 L277.7 727.85 L277.7 728 L276 728 L276 728.18 L274.4 728.18 L274.4 728.36 L272.8 728.36 L272.8 728.54 L271.2 728.54 L271.2 728.72 L269.6 728.72 L269.6 728.9 L268 728.9 L268 729.21 L266.5 729.21 L266.5 729.51 L265 729.51 L265 729.82 L263.5 729.82 L263.5 730.13 L262 730.13 L262 730.48 L260.5 730.48 L260.5 730.84 L259 730.84 L259 731.2 L257.5 731.2 L257.5 731.55 L256 731.55 L256 731.98 L254.5 731.98 L254.5 732.41 L253 732.41 L253 732.85 L251.5 732.85 L251.5 733.28 L250 733.28 L250 733.61 L248.53 733.61 L248.53 733.94 L247.05 733.94 L247.05 734.27 L245.57 734.27 L245.57 734.61 L244.1 734.61 L244.1 734.89 L242.5 734.89 L242.5 735.17 L240.9 735.17 L240.9 735.45 L239.3 735.45 L239.3 735.93 L237.7 735.93 L237.7 736.41 L236.1 736.41 L236.1 736.89 L234.5 736.89 L234.5 737.17 L232.9 737.17 L232.9 737.45 L231.3 737.45 L231.3 737.73 L229.7 737.73 L229.7 738.04 L228.07 738.04 L228.07 738.35 L226.43 738.35 L226.43 738.67 L224.8 738.67 L224.8 739.12 L223.2 739.12 L223.2 739.56 L221.6 739.56 L221.6 740.01 L220 740.01 L220 740.32 L218.4 740.32 L218.4 740.64 L216.8 740.64 L216.8 740.95 L215.2 740.95 L215.2 741.4 L213.6 741.4 L213.6 741.84 L212 741.84 L212 742.29 L210.4 742.29 L210.4 742.77 L208.8 742.77 L208.8 743.25 L207.2 743.25 L207.2 743.73 L205.6 743.73 L205.6 744.35 L204 744.35 L204 744.96 L202.4 744.96 L202.4 745.57 L200.8 745.57 L200.8 746.35 L199.2 746.35 L199.2 747.13 L197.6 747.13 L197.6 747.91 L196 747.91 L196 747.6 L194.85 747.6 Z" fill="#bec5df" style="mix-blend-mode:multiply"/><path d="M194.85 747.6 L196 747.6 L196 746.6 L197.2 746.6 L197.2 744.8 L198.4 744.8 L198.4 743 L199.6 743 L199.6 741.2 L200.8 741.2 L200.8 739.4 L202.4 739.4 L202.4 737.17 L204 737.17 L204 734.93 L205.6 734.93 L205.6 732.7 L207.2 732.7 L207.2 730.93 L208.8 730.93 L208.8 729.17 L210.4 729.17 L210.4 727.4 L212.1 727.4 L212.1 725.95 L213.8 725.95 L213.8 724.5 L215.35 724.5 L215.35 723.3 L216.9 723.3 L216.9 722.1 L218.45 722.1 L218.45 720.9 L220 720.9 L220 719.7 L221.6 719.7 L221.6 718.27 L223.2 718.27 L223.2 716.83 L224.8 716.83 L224.8 715.4 L226.43 715.4 L226.43 714.1 L228.07 714.1 L228.07 712.8 L229.7 712.8 L229.7 711.5 L231.3 711.5 L231.3 710.23 L232.9 710.23 L232.9 708.97 L234.5 708.97 L234.5 707.7 L236.1 707.7 L236.1 706.4 L237.7 706.4 L237.7 705.1 L239.3 705.1 L239.3 703.8 L240.9 703.8 L240.9 702.7 L242.5 702.7 L242.5 701.6 L244.1 701.6 L244.1 700.5 L245.8 700.5 L245.8 699.23 L247.5 699.23 L247.5 697.97 L249.2 697.97 L249.2 696.7 L250.57 696.7 L250.57 695.8 L251.93 695.8 L251.93 694.9 L253.3 694.9 L253.3 694 L254.63 694 L254.63 692.67 L255.97 692.67 L255.97 691.33 L257.3 691.33 L257.3 690 L258.65 690 L258.65 689.15 L260 689.15 L260 688.3 L261.67 688.3 L261.67 687.37 L263.33 687.37 L263.33 686.43 L265 686.43 L265 685.5 L266.67 685.5 L266.67 684.83 L268.33 684.83 L268.33 684.17 L270 684.17 L270 683.5 L271.5 683.5 L271.5 683.08 L273 683.08 L273 682.65 L274.5 682.65 L274.5 682.22 L276 682.22 L276 681.8 L277.7 681.8 L277.7 680.77 L279.4 680.77 L279.4 679.73 L281.1 679.73 L281.1 678.7 L282.77 678.7 L282.77 677.7 L284.43 677.7 L284.43 676.7 L286.1 676.7 L286.1 675.7 L287.8 675.7 L287.8 675.2 L289.5 675.2 L289.5 674.7 L291.2 674.7 L291.2 674.2 L292.87 674.2 L292.87 673.53 L294.53 673.53 L294.53 672.87 L296.2 672.87 L296.2 672.2 L297.9 672.2 L297.9 671.53 L299.6 671.53 L299.6 670.87 L301.3 670.87 L301.3 670.2 L302.97 670.2 L302.97 669.5 L304.63 669.5 L304.63 668.8 L306.3 668.8 L306.3 668.1 L308 668.1 L308 667.77 L309.7 667.77 L309.7 667.43 L311.4 667.43 L311.4 667.1 L313.07 667.1 L313.07 666.7 L314.73 666.7 L314.73 666.3 L316.4 666.3 L316.4 665.9 L318.1 665.9 L318.1 665.3 L319.8 665.3 L319.8 664.7 L321.5 664.7 L321.5 664.1 L323 664.1 L323 663.35 L324.5 663.35 L324.5 662.6 L326 662.6 L326 662.6 L327.5 662.6 L327.5 662.6" fill="none" stroke="#ae1a38" stroke-width="1.1" stroke-linejoin="miter"/><path d="M194.85 747.6 L196 747.6 L196 747.1 L197.6 747.1 L197.6 746.3 L199.2 746.3 L199.2 745.5 L200.8 745.5 L200.8 744.7 L202.4 744.7 L202.4 744.07 L204 744.07 L204 743.43 L205.6 743.43 L205.6 742.8 L207.2 742.8 L207.2 742.3 L208.8 742.3 L208.8 741.8 L210.4 741.8 L210.4 741.3 L212 741.3 L212 740.83 L213.6 740.83 L213.6 740.37 L215.2 740.37 L215.2 739.9 L216.8 739.9 L216.8 739.57 L218.4 739.57 L218.4 739.23 L220 739.23 L220 738.9 L221.6 738.9 L221.6 738.43 L223.2 738.43 L223.2 737.97 L224.8 737.97 L224.8 737.5 L226.43 737.5 L226.43 737.17 L228.07 737.17 L228.07 736.83 L229.7 736.83 L229.7 736.5 L231.3 736.5 L231.3 736.2 L232.9 736.2 L232.9 735.9 L234.5 735.9 L234.5 735.6 L236.1 735.6 L236.1 735.1 L237.7 735.1 L237.7 734.6 L239.3 734.6 L239.3 734.1 L240.9 734.1 L240.9 733.8 L242.5 733.8 L242.5 733.5 L244.1 733.5 L244.1 733.2 L245.57 733.2 L245.57 732.85 L247.05 732.85 L247.05 732.5 L248.53 732.5 L248.53 732.15 L250 732.15 L250 731.8 L251.5 731.8 L251.5 731.35 L253 731.35 L253 730.9 L254.5 730.9 L254.5 730.45 L256 730.45 L256 730 L257.5 730 L257.5 729.62 L259 729.62 L259 729.25 L260.5 729.25 L260.5 728.88 L262 728.88 L262 728.5 L263.5 728.5 L263.5 728.17 L265 728.17 L265 727.85 L266.5 727.85 L266.5 727.53 L268 727.53 L268 727.2 L269.6 727.2 L269.6 727 L271.2 727 L271.2 726.8 L272.8 726.8 L272.8 726.6 L274.4 726.6 L274.4 726.4 L276 726.4 L276 726.2 L277.7 726.2 L277.7 726.03 L279.4 726.03 L279.4 725.87 L281.1 725.87 L281.1 725.7 L282.77 725.7 L282.77 725.37 L284.43 725.37 L284.43 725.03 L286.1 725.03 L286.1 724.7 L287.8 724.7 L287.8 724.37 L289.5 724.37 L289.5 724.03 L291.2 724.03 L291.2 723.7 L292.87 723.7 L292.87 723.2 L294.53 723.2 L294.53 722.7 L296.2 722.7 L296.2 722.2 L297.9 722.2 L297.9 722.03 L299.6 722.03 L299.6 721.87 L301.3 721.87 L301.3 721.7 L302.97 721.7 L302.97 721.37 L304.63 721.37 L304.63 721.03 L306.3 721.03 L306.3 720.7 L308 720.7 L308 720.53 L309.7 720.53 L309.7 720.37 L311.4 720.37 L311.4 720.2 L313.07 720.2 L313.07 719.83 L314.73 719.83 L314.73 719.47 L316.4 719.47 L316.4 719.1 L318.1 719.1 L318.1 718.77 L319.8 718.77 L319.8 718.43 L321.5 718.43 L321.5 718.1 L322.83 718.1 L322.83 717.77 L324.17 717.77 L324.17 717.43 L325.5 717.43 L325.5 717.1 L327.5 717.1 L327.5 717.1" fill="none" stroke="#293562" stroke-width="1.1" stroke-linejoin="miter"/></g>
<rect x="189.15" y="643.6" width="137.18" height="108.8" fill="none" stroke="#222" stroke-width="1.55"/>
<clipPath id="c52"><rect x="335.1" y="643.6" width="137.9" height="108.8"/></clipPath>
<g clip-path="url(#c52)"><path d="M340.8 747.6 L342.73 747.6 L342.73 746.68 L344.75 746.68 L344.75 744.33 L346.77 744.33 L346.77 741.97 L348.56 741.97 L348.56 739.73 L350.36 739.73 L350.36 737.48 L352.15 737.48 L352.15 735.24 L353.5 735.24 L353.5 732.55 L354.85 732.55 L354.85 729.85 L356.19 729.85 L356.19 727.16 L357.54 727.16 L357.54 724.92 L358.88 724.92 L358.88 722.67 L360.23 722.67 L360.23 720.43 L362.25 720.43 L362.25 718.41 L364.27 718.41 L364.27 716.39 L366.06 716.39 L366.06 715.05 L367.86 715.05 L367.86 713.7 L369.65 713.7 L369.65 712.35 L371.45 712.35 L371.45 711.01 L373.24 711.01 L373.24 709.66 L375.04 709.66 L375.04 708.32 L377.06 708.32 L377.06 706.97 L379.08 706.97 L379.08 705.62 L380.42 705.62 L380.42 703.6 L381.77 703.6 L381.77 701.58 L383.56 701.58 L383.56 700.69 L385.36 700.69 L385.36 699.79 L387.15 699.79 L387.15 698.89 L388.95 698.89 L388.95 697.99 L390.74 697.99 L390.74 697.1 L392.54 697.1 L392.54 696.2 L394.33 696.2 L394.33 695.3 L396.13 695.3 L396.13 694.41 L397.92 694.41 L397.92 693.51 L399.94 693.51 L399.94 691.49 L401.96 691.49 L401.96 689.47 L401.98 689.47 L401.98 687.64 L402 687.64 L402 685.82 L403.85 685.82 L403.85 684.2 L405.69 684.2 L405.69 682.58 L407.54 682.58 L407.54 680.97 L409.15 680.97 L409.15 679.82 L410.77 679.82 L410.77 678.66 L412.38 678.66 L412.38 677.51 L414.12 677.51 L414.12 674.74 L415.85 674.74 L415.85 671.97 L417.58 671.97 L417.58 671.8 L419.31 671.8 L419.31 671.62 L421.04 671.62 L421.04 671.45 L422.77 671.45 L422.77 671.28 L424.5 671.28 L424.5 671.1 L426.23 671.1 L426.23 670.93 L427.96 670.93 L427.96 670.76 L429.69 670.76 L429.69 670.58 L431.42 670.58 L431.42 669.81 L433.15 669.81 L433.15 669.03 L434.88 669.03 L434.88 668.25 L436.62 668.25 L436.62 667.47 L438.35 667.47 L438.35 666.69 L440.08 666.69 L440.08 665.91 L441.81 665.91 L441.81 665.13 L443.54 665.13 L443.54 664.35 L445.44 664.35 L445.44 663.92 L447.35 663.92 L447.35 663.49 L449.25 663.49 L449.25 663.06 L451.15 663.06 L451.15 662.62 L453.06 662.62 L453.06 662.19 L454.96 662.19 L454.96 661.76 L456.87 661.76 L456.87 661.33 L458.77 661.33 L458.77 660.89 L460.55 660.89 L460.55 660.69 L462.33 660.69 L462.33 660.5 L464.11 660.5 L464.11 660.3 L465.89 660.3 L465.89 660.1 L467.67 660.1 L467.67 659.9 L469.45 659.9 L469.45 659.71 L471.23 659.71 L471.23 659.51 L472.62 659.51 L472.62 659.51 L474 659.51 L474 659.51 L474 690.66 L474 690.66 L472.62 690.66 L472.62 690.66 L471.23 690.66 L471.23 690.78 L469.38 690.78 L469.38 690.89 L467.54 690.89 L467.54 691.01 L465.69 691.01 L465.69 691.12 L463.85 691.12 L463.85 691.24 L462 691.24 L462 691.35 L460.15 691.35 L460.15 691.7 L458.77 691.7 L458.77 692.05 L457.38 692.05 L457.38 692.31 L455.65 692.31 L455.65 692.57 L453.92 692.57 L453.92 692.83 L452.19 692.83 L452.19 693.08 L450.46 693.08 L450.46 693.34 L448.73 693.34 L448.73 693.6 L447 693.6 L447 693.86 L445.27 693.86 L445.27 694.12 L443.54 694.12 L443.54 694.64 L441.81 694.64 L441.81 695.16 L440.08 695.16 L440.08 695.68 L438.35 695.68 L438.35 696.2 L436.62 696.2 L436.62 696.72 L434.88 696.72 L434.88 697.24 L433.15 697.24 L433.15 697.76 L431.42 697.76 L431.42 698.28 L429.69 698.28 L429.69 698.54 L427.96 698.54 L427.96 698.8 L426.23 698.8 L426.23 699.06 L424.5 699.06 L424.5 699.32 L422.77 699.32 L422.77 699.58 L421.04 699.58 L421.04 699.83 L419.31 699.83 L419.31 700.09 L417.58 700.09 L417.58 700.35 L415.85 700.35 L415.85 701.39 L413.77 701.39 L413.77 702.43 L411.69 702.43 L411.69 704.28 L409.85 704.28 L409.85 706.12 L408 706.12 L408 707.97 L406.15 707.97 L406.15 710.74 L404.08 710.74 L404.08 713.51 L402 713.51 L402 713.03 L400.62 713.03 L400.62 713.7 L398.82 713.7 L398.82 714.37 L397.03 714.37 L397.03 715.05 L395.23 715.05 L395.23 715.94 L393.44 715.94 L393.44 716.84 L391.64 716.84 L391.64 717.74 L389.85 717.74 L389.85 719.08 L388.05 719.08 L388.05 720.43 L386.26 720.43 L386.26 721.78 L384.46 721.78 L384.46 723.12 L382.67 723.12 L382.67 724.47 L380.87 724.47 L380.87 725.82 L379.08 725.82 L379.08 726.94 L377.28 726.94 L377.28 728.06 L375.49 728.06 L375.49 729.18 L373.69 729.18 L373.69 730.3 L371.9 730.3 L371.9 731.42 L370.1 731.42 L370.1 732.55 L368.31 732.55 L368.31 733.89 L366.51 733.89 L366.51 735.24 L364.72 735.24 L364.72 736.58 L362.92 736.58 L362.92 737.93 L361.13 737.93 L361.13 739.28 L359.33 739.28 L359.33 740.62 L357.54 740.62 L357.54 741.74 L355.74 741.74 L355.74 742.87 L353.95 742.87 L353.95 743.99 L352.15 743.99 L352.15 745.11 L350.36 745.11 L350.36 746.23 L348.56 746.23 L348.56 747.35 L346.77 747.35 L346.77 748.03 L344.75 748.03 L344.75 748.7 L342.73 748.7 L342.73 747.6 L340.8 747.6 Z" fill="#edbcb1" style="mix-blend-mode:multiply"/><path d="M340.8 747.6 L342.79 747.6 L342.79 746.71 L344.78 746.71 L344.78 745.82 L346.77 745.82 L346.77 744.93 L348.56 744.93 L348.56 743.85 L350.36 743.85 L350.36 742.78 L352.15 742.78 L352.15 741.7 L353.95 741.7 L353.95 741.12 L355.74 741.12 L355.74 740.53 L357.54 740.53 L357.54 739.95 L359.33 739.95 L359.33 739.5 L361.13 739.5 L361.13 739.05 L362.92 739.05 L362.92 738.6 L364.72 738.6 L364.72 738.16 L366.51 738.16 L366.51 737.71 L368.31 737.71 L368.31 737.26 L370.1 737.26 L370.1 736.81 L371.9 736.81 L371.9 736.36 L373.69 736.36 L373.69 735.91 L375.49 735.91 L375.49 735.69 L377.28 735.69 L377.28 735.46 L379.08 735.46 L379.08 735.24 L380.87 735.24 L380.87 734.79 L382.67 734.79 L382.67 734.34 L384.46 734.34 L384.46 733.89 L386.26 733.89 L386.26 733.67 L388.05 733.67 L388.05 733.44 L389.85 733.44 L389.85 733.22 L391.64 733.22 L391.64 732.99 L393.44 732.99 L393.44 732.77 L395.23 732.77 L395.23 732.55 L397.03 732.55 L397.03 732.1 L398.82 732.1 L398.82 731.65 L400.62 731.65 L400.62 731.2 L402 731.2 L402 730.12 L403.73 730.12 L403.73 729.6 L405.46 729.6 L405.46 729.08 L407.19 729.08 L407.19 728.57 L408.92 728.57 L408.92 728.05 L410.65 728.05 L410.65 727.18 L412.38 727.18 L412.38 726.32 L414.12 726.32 L414.12 725.45 L415.85 725.45 L415.85 724.58 L417.58 724.58 L417.58 723.89 L419.31 723.89 L419.31 723.2 L421.04 723.2 L421.04 722.51 L422.77 722.51 L422.77 721.82 L424.5 721.82 L424.5 721.3 L426.23 721.3 L426.23 720.78 L427.96 720.78 L427.96 720.26 L429.69 720.26 L429.69 719.74 L431.54 719.74 L431.54 719.05 L433.38 719.05 L433.38 718.35 L435.23 718.35 L435.23 717.66 L437.01 717.66 L437.01 717.46 L438.79 717.46 L438.79 717.27 L440.57 717.27 L440.57 717.07 L442.35 717.07 L442.35 716.87 L444.13 716.87 L444.13 716.67 L445.91 716.67 L445.91 716.47 L447.69 716.47 L447.69 716.28 L448.04 716.28 L448.04 713.51 L448.38 713.51 L448.38 710.74 L450.18 710.74 L450.18 710.46 L451.98 710.46 L451.98 710.18 L453.78 710.18 L453.78 709.91 L455.58 709.91 L455.58 709.63 L457.38 709.63 L457.38 709.35 L458.77 709.35 L458.77 708.66 L460.15 708.66 L460.15 707.97 L462 707.97 L462 707.85 L463.85 707.85 L463.85 707.74 L465.69 707.74 L465.69 707.62 L467.54 707.62 L467.54 707.51 L469.38 707.51 L469.38 707.39 L471.23 707.39 L471.23 707.28 L472.62 707.28 L472.62 707.28 L474 707.28 L474 707.28 L474 726.66 L474 726.66 L472.62 726.66 L472.62 726.66 L471.23 726.66 L471.23 726.66 L469.38 726.66 L469.38 726.66 L467.54 726.66 L467.54 726.66 L465.69 726.66 L465.69 726.66 L463.85 726.66 L463.85 726.66 L462 726.66 L462 726.66 L460.15 726.66 L460.15 726.76 L458.47 726.76 L458.47 726.86 L456.79 726.86 L456.79 726.96 L455.11 726.96 L455.11 727.06 L453.43 727.06 L453.43 727.16 L451.75 727.16 L451.75 727.25 L450.07 727.25 L450.07 727.35 L448.38 727.35 L448.38 730.82 L447.69 730.82 L447.69 730.82 L445.91 730.82 L445.91 730.82 L444.13 730.82 L444.13 730.82 L442.35 730.82 L442.35 730.82 L440.57 730.82 L440.57 730.82 L438.79 730.82 L438.79 730.82 L437.01 730.82 L437.01 730.82 L435.23 730.82 L435.23 731.28 L433.38 731.28 L433.38 731.74 L431.54 731.74 L431.54 732.2 L429.69 732.2 L429.69 732.55 L427.96 732.55 L427.96 732.89 L426.23 732.89 L426.23 733.24 L424.5 733.24 L424.5 733.58 L422.77 733.58 L422.77 733.76 L421.04 733.76 L421.04 733.93 L419.31 733.93 L419.31 734.1 L417.58 734.1 L417.58 734.28 L415.85 734.28 L415.85 734.97 L414.12 734.97 L414.12 735.66 L412.38 735.66 L412.38 736.35 L410.65 736.35 L410.65 737.05 L408.92 737.05 L408.92 737.39 L407.19 737.39 L407.19 737.74 L405.46 737.74 L405.46 738.08 L403.73 738.08 L403.73 738.43 L402 738.43 L402 736.85 L400.62 736.85 L400.62 737.21 L398.82 737.21 L398.82 737.57 L397.03 737.57 L397.03 737.93 L395.23 737.93 L395.23 738.16 L393.44 738.16 L393.44 738.38 L391.64 738.38 L391.64 738.6 L389.85 738.6 L389.85 738.74 L388.05 738.74 L388.05 738.87 L386.26 738.87 L386.26 739.01 L384.46 739.01 L384.46 739.32 L382.67 739.32 L382.67 739.64 L380.87 739.64 L380.87 739.95 L379.08 739.95 L379.08 740.08 L377.28 740.08 L377.28 740.22 L375.49 740.22 L375.49 740.35 L373.69 740.35 L373.69 740.67 L371.9 740.67 L371.9 740.98 L370.1 740.98 L370.1 741.3 L368.31 741.3 L368.31 741.74 L366.51 741.74 L366.51 742.19 L364.72 742.19 L364.72 742.64 L362.92 742.64 L362.92 742.96 L361.13 742.96 L361.13 743.27 L359.33 743.27 L359.33 743.58 L357.54 743.58 L357.54 743.94 L355.74 743.94 L355.74 744.3 L353.95 744.3 L353.95 744.66 L352.15 744.66 L352.15 745.56 L350.36 745.56 L350.36 746.46 L348.56 746.46 L348.56 747.35 L346.77 747.35 L346.77 747.44 L344.78 747.44 L344.78 747.52 L342.79 747.52 L342.79 747.6 L340.8 747.6 Z" fill="#bec5df" style="mix-blend-mode:multiply"/><path d="M340.8 747.6 L342.79 747.6 L342.79 746.62 L344.78 746.62 L344.78 745.64 L346.77 745.64 L346.77 744.66 L348.56 744.66 L348.56 743.09 L350.36 743.09 L350.36 741.52 L352.15 741.52 L352.15 739.95 L353.95 739.95 L353.95 738.16 L355.74 738.16 L355.74 736.36 L357.54 736.36 L357.54 734.57 L359.22 734.57 L359.22 732.21 L360.9 732.21 L360.9 729.85 L362.59 729.85 L362.59 727.5 L364.27 727.5 L364.27 725.14 L366.96 725.14 L366.96 724.47 L368.98 724.47 L368.98 723.46 L371 723.46 L371 722.45 L373.02 722.45 L373.02 720.77 L375.04 720.77 L375.04 719.08 L377.06 719.08 L377.06 718.08 L379.08 718.08 L379.08 717.07 L380.09 717.07 L380.09 715.05 L381.1 715.05 L381.1 713.03 L382.67 713.03 L382.67 712.13 L384.24 712.13 L384.24 711.23 L385.81 711.23 L385.81 710.33 L387.83 710.33 L387.83 708.65 L389.85 708.65 L389.85 706.97 L391.87 706.97 L391.87 705.96 L393.88 705.96 L393.88 704.95 L395.9 704.95 L395.9 703.94 L397.92 703.94 L397.92 702.93 L399.94 702.93 L399.94 701.58 L401.96 701.58 L401.96 700.24 L402 700.24 L402 701.74 L403.38 701.74 L403.38 699.32 L404.77 699.32 L404.77 696.89 L406.85 696.89 L406.85 696.2 L408.92 696.2 L408.92 695.51 L410.08 695.51 L410.08 692.97 L411.23 692.97 L411.23 690.43 L412.38 690.43 L412.38 687.89 L414 687.89 L414 686.97 L415.62 686.97 L415.62 686.05 L417.23 686.05 L417.23 685.12 L419.01 685.12 L419.01 684.93 L420.79 684.93 L420.79 684.73 L422.57 684.73 L422.57 684.53 L424.35 684.53 L424.35 684.33 L426.13 684.33 L426.13 684.13 L427.91 684.13 L427.91 683.94 L429.69 683.94 L429.69 683.74 L430.38 683.74 L430.38 681.66 L432.05 681.66 L432.05 681.38 L433.71 681.38 L433.71 681.11 L435.37 681.11 L435.37 680.83 L437.03 680.83 L437.03 680.55 L438.69 680.55 L438.69 680.28 L439.38 680.28 L439.38 678.89 L441.23 678.89 L441.23 678.2 L443.08 678.2 L443.08 677.51 L444.92 677.51 L444.92 676.82 L446.74 676.82 L446.74 676.73 L448.56 676.73 L448.56 676.64 L450.38 676.64 L450.38 676.56 L452.19 676.56 L452.19 676.47 L454.01 676.47 L454.01 676.38 L455.83 676.38 L455.83 676.3 L457.64 676.3 L457.64 676.21 L459.46 676.21 L459.46 676.12 L460.15 676.12 L460.15 673.35 L462 673.35 L462 673.35 L463.85 673.35 L463.85 673.35 L465.69 673.35 L465.69 673.35 L467.54 673.35 L467.54 673.35 L469.38 673.35 L469.38 673.35 L471.23 673.35 L471.23 673.35 L472.62 673.35 L472.62 673.35 L474 673.35 L474 673.35" fill="none" stroke="#ae1a38" stroke-width="1.1" stroke-linejoin="miter"/><path d="M340.8 747.6 L342.79 747.6 L342.79 747.07 L344.78 747.07 L344.78 746.54 L346.77 746.54 L346.77 746.01 L348.56 746.01 L348.56 745.11 L350.36 745.11 L350.36 744.21 L352.15 744.21 L352.15 743.32 L353.95 743.32 L353.95 742.87 L355.74 742.87 L355.74 742.42 L357.54 742.42 L357.54 741.97 L359.33 741.97 L359.33 741.52 L361.13 741.52 L361.13 741.07 L362.92 741.07 L362.92 740.62 L364.72 740.62 L364.72 740.17 L366.51 740.17 L366.51 739.73 L368.31 739.73 L368.31 739.28 L370.1 739.28 L370.1 738.92 L371.9 738.92 L371.9 738.56 L373.69 738.56 L373.69 738.2 L375.49 738.2 L375.49 738.02 L377.28 738.02 L377.28 737.84 L379.08 737.84 L379.08 737.66 L380.87 737.66 L380.87 737.3 L382.67 737.3 L382.67 736.94 L384.46 736.94 L384.46 736.58 L386.26 736.58 L386.26 736.36 L388.05 736.36 L388.05 736.14 L389.85 736.14 L389.85 735.91 L391.64 735.91 L391.64 735.78 L393.44 735.78 L393.44 735.64 L395.23 735.64 L395.23 735.51 L397.03 735.51 L397.03 735.19 L398.82 735.19 L398.82 734.88 L400.62 734.88 L400.62 734.57 L402 734.57 L402 734 L403.73 734 L403.73 733.65 L405.46 733.65 L405.46 733.31 L407.19 733.31 L407.19 732.96 L408.92 732.96 L408.92 732.62 L410.65 732.62 L410.65 731.99 L412.38 731.99 L412.38 731.37 L414.12 731.37 L414.12 730.75 L415.85 730.75 L415.85 730.12 L417.58 730.12 L417.58 729.71 L419.31 729.71 L419.31 729.29 L421.04 729.29 L421.04 728.88 L422.77 728.88 L422.77 728.46 L424.5 728.46 L424.5 727.84 L426.23 727.84 L426.23 727.22 L427.96 727.22 L427.96 726.59 L429.69 726.59 L429.69 725.97 L431.54 725.97 L431.54 725.28 L433.38 725.28 L433.38 724.58 L435.23 724.58 L435.23 723.89 L437.01 723.89 L437.01 723.79 L438.79 723.79 L438.79 723.69 L440.57 723.69 L440.57 723.6 L442.35 723.6 L442.35 723.5 L444.13 723.5 L444.13 723.4 L445.91 723.4 L445.91 723.3 L447.69 723.3 L447.69 723.2 L448.04 723.2 L448.04 721.12 L448.38 721.12 L448.38 719.05 L450.23 719.05 L450.23 718.93 L452.08 718.93 L452.08 718.82 L453.92 718.82 L453.92 718.7 L455.77 718.7 L455.77 718.58 L457.62 718.58 L457.62 718.47 L459.46 718.47 L459.46 718.35 L460.15 718.35 L460.15 716.28 L462 716.28 L462 716.28 L463.85 716.28 L463.85 716.28 L465.69 716.28 L465.69 716.28 L467.54 716.28 L467.54 716.28 L469.38 716.28 L469.38 716.28 L471.23 716.28 L471.23 716.28 L472.62 716.28 L472.62 716.28 L474 716.28 L474 716.28" fill="none" stroke="#293562" stroke-width="1.1" stroke-linejoin="miter"/></g>
<rect x="335.1" y="643.6" width="137.9" height="108.8" fill="none" stroke="#222" stroke-width="1.55"/>
<line x1="39.2" y1="155.6" x2="42.9" y2="155.6" stroke="#222" stroke-width="1.1"/>
<text x="35.6" y="158.1" font-size="8.7" text-anchor="end">0.0</text>
<line x1="39.2" y1="122.53" x2="42.9" y2="122.53" stroke="#222" stroke-width="1.1"/>
<text x="35.6" y="125.03" font-size="8.7" text-anchor="end">0.1</text>
<line x1="39.2" y1="89.46" x2="42.9" y2="89.46" stroke="#222" stroke-width="1.1"/>
<text x="35.6" y="91.96" font-size="8.7" text-anchor="end">0.2</text>
<line x1="39.2" y1="56.39" x2="42.9" y2="56.39" stroke="#222" stroke-width="1.1"/>
<text x="35.6" y="58.89" font-size="8.7" text-anchor="end">0.3</text>
<line x1="39.2" y1="273.8" x2="42.9" y2="273.8" stroke="#222" stroke-width="1.1"/>
<text x="35.6" y="276.3" font-size="8.7" text-anchor="end">0.00</text>
<line x1="39.2" y1="237.6" x2="42.9" y2="237.6" stroke="#222" stroke-width="1.1"/>
<text x="35.6" y="240.1" font-size="8.7" text-anchor="end">0.05</text>
<line x1="39.2" y1="201.4" x2="42.9" y2="201.4" stroke="#222" stroke-width="1.1"/>
<text x="35.6" y="203.9" font-size="8.7" text-anchor="end">0.10</text>
<line x1="39.2" y1="392.3" x2="42.9" y2="392.3" stroke="#222" stroke-width="1.1"/>
<text x="35.6" y="394.8" font-size="8.7" text-anchor="end">0.0</text>
<line x1="39.2" y1="353.55" x2="42.9" y2="353.55" stroke="#222" stroke-width="1.1"/>
<text x="35.6" y="356.05" font-size="8.7" text-anchor="end">0.1</text>
<line x1="39.2" y1="314.8" x2="42.9" y2="314.8" stroke="#222" stroke-width="1.1"/>
<text x="35.6" y="317.3" font-size="8.7" text-anchor="end">0.2</text>
<line x1="39.2" y1="510.8" x2="42.9" y2="510.8" stroke="#222" stroke-width="1.1"/>
<text x="35.6" y="513.3" font-size="8.7" text-anchor="end">0.0</text>
<line x1="39.2" y1="481.77" x2="42.9" y2="481.77" stroke="#222" stroke-width="1.1"/>
<text x="35.6" y="484.27" font-size="8.7" text-anchor="end">0.1</text>
<line x1="39.2" y1="452.74" x2="42.9" y2="452.74" stroke="#222" stroke-width="1.1"/>
<text x="35.6" y="455.24" font-size="8.7" text-anchor="end">0.2</text>
<line x1="39.2" y1="423.71" x2="42.9" y2="423.71" stroke="#222" stroke-width="1.1"/>
<text x="35.6" y="426.21" font-size="8.7" text-anchor="end">0.3</text>
<line x1="39.2" y1="629.3" x2="42.9" y2="629.3" stroke="#222" stroke-width="1.1"/>
<text x="35.6" y="631.8" font-size="8.7" text-anchor="end">0.00</text>
<line x1="39.2" y1="602.43" x2="42.9" y2="602.43" stroke="#222" stroke-width="1.1"/>
<text x="35.6" y="604.93" font-size="8.7" text-anchor="end">0.05</text>
<line x1="39.2" y1="575.57" x2="42.9" y2="575.57" stroke="#222" stroke-width="1.1"/>
<text x="35.6" y="578.07" font-size="8.7" text-anchor="end">0.10</text>
<line x1="39.2" y1="548.7" x2="42.9" y2="548.7" stroke="#222" stroke-width="1.1"/>
<text x="35.6" y="551.2" font-size="8.7" text-anchor="end">0.15</text>
<line x1="39.2" y1="747.6" x2="42.9" y2="747.6" stroke="#222" stroke-width="1.1"/>
<text x="35.6" y="750.1" font-size="8.7" text-anchor="end">0.0</text>
<line x1="39.2" y1="722.02" x2="42.9" y2="722.02" stroke="#222" stroke-width="1.1"/>
<text x="35.6" y="724.52" font-size="8.7" text-anchor="end">0.2</text>
<line x1="39.2" y1="696.44" x2="42.9" y2="696.44" stroke="#222" stroke-width="1.1"/>
<text x="35.6" y="698.94" font-size="8.7" text-anchor="end">0.4</text>
<line x1="39.2" y1="670.86" x2="42.9" y2="670.86" stroke="#222" stroke-width="1.1"/>
<text x="35.6" y="673.36" font-size="8.7" text-anchor="end">0.6</text>
<line x1="39.2" y1="645.28" x2="42.9" y2="645.28" stroke="#222" stroke-width="1.1"/>
<text x="35.6" y="647.78" font-size="8.7" text-anchor="end">0.8</text>
<line x1="48.6" y1="752.4" x2="48.6" y2="755.8" stroke="#222" stroke-width="1.1"/>
<text x="48.6" y="767.6" font-size="8.7" text-anchor="middle">0</text>
<line x1="73.72" y1="752.4" x2="73.72" y2="755.8" stroke="#222" stroke-width="1.1"/>
<text x="73.72" y="767.6" font-size="8.7" text-anchor="middle">2</text>
<line x1="98.84" y1="752.4" x2="98.84" y2="755.8" stroke="#222" stroke-width="1.1"/>
<text x="98.84" y="767.6" font-size="8.7" text-anchor="middle">4</text>
<line x1="123.96" y1="752.4" x2="123.96" y2="755.8" stroke="#222" stroke-width="1.1"/>
<text x="123.96" y="767.6" font-size="8.7" text-anchor="middle">6</text>
<line x1="149.08" y1="752.4" x2="149.08" y2="755.8" stroke="#222" stroke-width="1.1"/>
<text x="149.08" y="767.6" font-size="8.7" text-anchor="middle">8</text>
<line x1="174.2" y1="752.4" x2="174.2" y2="755.8" stroke="#222" stroke-width="1.1"/>
<text x="174.2" y="767.6" font-size="8.7" text-anchor="middle">10</text>
<line x1="194.85" y1="752.4" x2="194.85" y2="755.8" stroke="#222" stroke-width="1.1"/>
<text x="194.85" y="767.6" font-size="8.7" text-anchor="middle">0</text>
<line x1="219.97" y1="752.4" x2="219.97" y2="755.8" stroke="#222" stroke-width="1.1"/>
<text x="219.97" y="767.6" font-size="8.7" text-anchor="middle">2</text>
<line x1="245.09" y1="752.4" x2="245.09" y2="755.8" stroke="#222" stroke-width="1.1"/>
<text x="245.09" y="767.6" font-size="8.7" text-anchor="middle">4</text>
<line x1="270.21" y1="752.4" x2="270.21" y2="755.8" stroke="#222" stroke-width="1.1"/>
<text x="270.21" y="767.6" font-size="8.7" text-anchor="middle">6</text>
<line x1="295.33" y1="752.4" x2="295.33" y2="755.8" stroke="#222" stroke-width="1.1"/>
<text x="295.33" y="767.6" font-size="8.7" text-anchor="middle">8</text>
<line x1="320.45" y1="752.4" x2="320.45" y2="755.8" stroke="#222" stroke-width="1.1"/>
<text x="320.45" y="767.6" font-size="8.7" text-anchor="middle">10</text>
<line x1="340.8" y1="752.4" x2="340.8" y2="755.8" stroke="#222" stroke-width="1.1"/>
<text x="340.8" y="767.6" font-size="8.7" text-anchor="middle">0</text>
<line x1="365.92" y1="752.4" x2="365.92" y2="755.8" stroke="#222" stroke-width="1.1"/>
<text x="365.92" y="767.6" font-size="8.7" text-anchor="middle">2</text>
<line x1="391.04" y1="752.4" x2="391.04" y2="755.8" stroke="#222" stroke-width="1.1"/>
<text x="391.04" y="767.6" font-size="8.7" text-anchor="middle">4</text>
<line x1="416.16" y1="752.4" x2="416.16" y2="755.8" stroke="#222" stroke-width="1.1"/>
<text x="416.16" y="767.6" font-size="8.7" text-anchor="middle">6</text>
<line x1="441.28" y1="752.4" x2="441.28" y2="755.8" stroke="#222" stroke-width="1.1"/>
<text x="441.28" y="767.6" font-size="8.7" text-anchor="middle">8</text>
<line x1="466.4" y1="752.4" x2="466.4" y2="755.8" stroke="#222" stroke-width="1.1"/>
<text x="466.4" y="767.6" font-size="8.7" text-anchor="middle">10</text>
<text x="228.8" y="782.5" font-size="10.3" textLength="57.0" lengthAdjust="spacingAndGlyphs">Years since index</text>
<text transform="translate(16.6,437.2) rotate(-90)" x="0" y="0" font-size="10" textLength="70.8" lengthAdjust="spacingAndGlyphs">Cumulative incidence</text>
<text transform="translate(491.4,101.9) rotate(90)" x="0" y="0" font-size="8.8" text-anchor="middle">Arterial event (AE)</text>
<text transform="translate(504.3,224.3) rotate(90)" x="0" y="0" font-size="8.8" text-anchor="middle">Venous</text>
<text transform="translate(492.6,224.3) rotate(90)" x="0" y="0" font-size="8.8" text-anchor="middle">thromboembolism</text>
<text transform="translate(481.2,224.3) rotate(90)" x="0" y="0" font-size="8.8" text-anchor="middle">(VTE)</text>
<text transform="translate(497.7,343) rotate(90)" x="0" y="0" font-size="8.8" text-anchor="middle">Major Bleeding</text>
<text transform="translate(486.6,343) rotate(90)" x="0" y="0" font-size="8.8" text-anchor="middle">(MB)</text>
<text transform="translate(491.4,461.4) rotate(90)" x="0" y="0" font-size="8.8" text-anchor="middle">Any VTE or AE</text>
<text transform="translate(491.4,579.9) rotate(90)" x="0" y="0" font-size="8.8" text-anchor="middle">All-cause stroke</text>
<text transform="translate(491.4,698) rotate(90)" x="0" y="0" font-size="8.8" text-anchor="middle">All-cause mortality</text>
</svg>
</body></html>
